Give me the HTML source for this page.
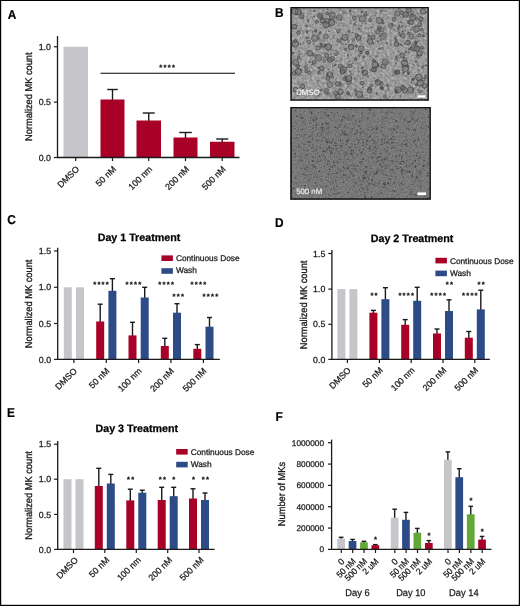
<!DOCTYPE html>
<html lang="en"><head><meta charset="utf-8"><title>Figure</title>
<style>html,body{margin:0;padding:0;background:#fff}body{width:520px;height:606px;overflow:hidden}svg{display:block}text{font-family:"Liberation Sans",Arial,sans-serif;text-rendering:geometricPrecision}</style>
</head><body>
<svg width="520" height="606" viewBox="0 0 520 606" font-family="'Liberation Sans', Arial, sans-serif">
<defs>
<filter id="n1" x="0" y="0" width="100%" height="100%" color-interpolation-filters="sRGB"><feTurbulence type="fractalNoise" baseFrequency="0.4" numOctaves="3" seed="3" result="t"/><feColorMatrix in="t" type="matrix" values="0.36 0 0 0 0.425  0.36 0 0 0 0.425  0.36 0 0 0 0.425  0 0 0 0 1"/></filter>
<filter id="n2" x="0" y="0" width="100%" height="100%" color-interpolation-filters="sRGB"><feTurbulence type="fractalNoise" baseFrequency="0.75" numOctaves="2" seed="5" result="t"/><feColorMatrix in="t" type="matrix" values="0.24 0 0 0 0.355  0.24 0 0 0 0.355  0.24 0 0 0 0.355  0 0 0 0 1"/></filter>
<filter id="bl" x="-5%" y="-5%" width="110%" height="110%"><feGaussianBlur stdDeviation="0.35"/></filter>
</defs>
<rect x="0" y="0" width="520" height="606" fill="#fff"/>
<text transform="translate(7.70 18.50) scale(0.92 1)" x="0" y="0" font-size="12.9" font-weight="bold" fill="#000" stroke="#000" stroke-width="0.2">A</text>
<rect x="63.50" y="46.75" width="24.50" height="110.75" fill="#c6c6ca"/>
<line x1="112.50" y1="89.50" x2="112.50" y2="100.50" stroke="#1a1a1a" stroke-width="1.4"/>
<line x1="107.25" y1="89.50" x2="117.75" y2="89.50" stroke="#1a1a1a" stroke-width="1.4"/>
<rect x="100.50" y="99.50" width="24.00" height="58.00" fill="#a90028"/>
<line x1="148.75" y1="113.00" x2="148.75" y2="121.50" stroke="#1a1a1a" stroke-width="1.4"/>
<line x1="142.75" y1="113.00" x2="154.75" y2="113.00" stroke="#1a1a1a" stroke-width="1.4"/>
<rect x="136.50" y="120.50" width="24.50" height="37.00" fill="#a90028"/>
<line x1="185.50" y1="132.50" x2="185.50" y2="138.50" stroke="#1a1a1a" stroke-width="1.4"/>
<line x1="179.25" y1="132.50" x2="191.75" y2="132.50" stroke="#1a1a1a" stroke-width="1.4"/>
<rect x="173.50" y="137.50" width="24.00" height="20.00" fill="#a90028"/>
<line x1="222.25" y1="139.00" x2="222.25" y2="142.75" stroke="#1a1a1a" stroke-width="1.4"/>
<line x1="216.25" y1="139.00" x2="228.25" y2="139.00" stroke="#1a1a1a" stroke-width="1.4"/>
<rect x="210.00" y="141.75" width="24.50" height="15.75" fill="#a90028"/>
<line x1="57.50" y1="36.00" x2="57.50" y2="158.10" stroke="#1a1a1a" stroke-width="1.3"/>
<line x1="56.90" y1="157.50" x2="239.50" y2="157.50" stroke="#1a1a1a" stroke-width="1.3"/>
<line x1="53.90" y1="46.75" x2="57.50" y2="46.75" stroke="#1a1a1a" stroke-width="1.2"/>
<text x="50.90" y="49.90" font-size="8.8" text-anchor="end" font-weight="normal" fill="#1a1a1a" stroke="#1a1a1a" stroke-width="0.25">1.0</text>
<line x1="53.90" y1="102.10" x2="57.50" y2="102.10" stroke="#1a1a1a" stroke-width="1.2"/>
<text x="50.90" y="105.25" font-size="8.8" text-anchor="end" font-weight="normal" fill="#1a1a1a" stroke="#1a1a1a" stroke-width="0.25">0.5</text>
<line x1="53.90" y1="157.50" x2="57.50" y2="157.50" stroke="#1a1a1a" stroke-width="1.2"/>
<text x="50.90" y="160.65" font-size="8.8" text-anchor="end" font-weight="normal" fill="#1a1a1a" stroke="#1a1a1a" stroke-width="0.25">0.0</text>
<line x1="75.70" y1="157.50" x2="75.70" y2="161.10" stroke="#1a1a1a" stroke-width="1.2"/>
<text x="79.80" y="169.70" font-size="8.8" text-anchor="end" font-weight="normal" fill="#1a1a1a" stroke="#1a1a1a" stroke-width="0.25" transform="rotate(-45 79.80 169.70)">DMSO</text>
<line x1="112.50" y1="157.50" x2="112.50" y2="161.10" stroke="#1a1a1a" stroke-width="1.2"/>
<text x="116.60" y="169.70" font-size="8.8" text-anchor="end" font-weight="normal" fill="#1a1a1a" stroke="#1a1a1a" stroke-width="0.25" transform="rotate(-45 116.60 169.70)">50 nM</text>
<line x1="148.70" y1="157.50" x2="148.70" y2="161.10" stroke="#1a1a1a" stroke-width="1.2"/>
<text x="152.80" y="169.70" font-size="8.8" text-anchor="end" font-weight="normal" fill="#1a1a1a" stroke="#1a1a1a" stroke-width="0.25" transform="rotate(-45 152.80 169.70)">100 nm</text>
<line x1="185.50" y1="157.50" x2="185.50" y2="161.10" stroke="#1a1a1a" stroke-width="1.2"/>
<text x="189.60" y="169.70" font-size="8.8" text-anchor="end" font-weight="normal" fill="#1a1a1a" stroke="#1a1a1a" stroke-width="0.25" transform="rotate(-45 189.60 169.70)">200 nM</text>
<line x1="222.20" y1="157.50" x2="222.20" y2="161.10" stroke="#1a1a1a" stroke-width="1.2"/>
<text x="226.30" y="169.70" font-size="8.8" text-anchor="end" font-weight="normal" fill="#1a1a1a" stroke="#1a1a1a" stroke-width="0.25" transform="rotate(-45 226.30 169.70)">500 nM</text>
<text x="32.40" y="96.70" font-size="9.9" text-anchor="middle" font-weight="normal" fill="#1a1a1a" stroke="#1a1a1a" stroke-width="0.32" transform="rotate(-90 32.40 96.70)" textLength="88.6" lengthAdjust="spacingAndGlyphs">Normalized MK count</text>
<line x1="100.50" y1="73.25" x2="235.00" y2="73.25" stroke="#000" stroke-width="1.0"/>
<text x="160.80 165.00 169.20 173.40" y="69.75" font-size="7.6" text-anchor="middle" font-weight="bold" fill="#111" stroke="#111" stroke-width="0.2">****</text>
<text transform="translate(274.90 16.50) scale(0.92 1)" x="0" y="0" font-size="12.9" font-weight="bold" fill="#000" stroke="#000" stroke-width="0.2">B</text>
<g>
<rect x="290.5" y="7" width="138.3" height="93.6" fill="#9a9a9a" filter="url(#n1)"/>
<g filter="url(#bl)">
<circle cx="336.0" cy="22.5" r="0.5" fill="#3a3a3a" fill-opacity="0.35"/>
<circle cx="402.8" cy="17.4" r="1.1" fill="#3a3a3a" fill-opacity="0.35"/>
<circle cx="414.7" cy="28.2" r="0.5" fill="#3a3a3a" fill-opacity="0.5"/>
<circle cx="348.7" cy="30.6" r="1.1" fill="#3a3a3a" fill-opacity="0.5"/>
<circle cx="300.4" cy="59.7" r="0.6" fill="#3a3a3a" fill-opacity="0.65"/>
<circle cx="376.8" cy="93.9" r="1.1" fill="#3a3a3a" fill-opacity="0.65"/>
<circle cx="345.8" cy="96.5" r="0.5" fill="#3a3a3a" fill-opacity="0.65"/>
<circle cx="407.8" cy="34.9" r="0.6" fill="#3a3a3a" fill-opacity="0.65"/>
<circle cx="308.3" cy="36.6" r="0.6" fill="#3a3a3a" fill-opacity="0.35"/>
<circle cx="370.6" cy="66.2" r="0.7" fill="#3a3a3a" fill-opacity="0.35"/>
<circle cx="366.1" cy="14.6" r="0.5" fill="#3a3a3a" fill-opacity="0.65"/>
<circle cx="320.2" cy="70.0" r="0.9" fill="#3a3a3a" fill-opacity="0.5"/>
<circle cx="355.0" cy="91.7" r="0.7" fill="#3a3a3a" fill-opacity="0.5"/>
<circle cx="325.9" cy="25.1" r="0.6" fill="#3a3a3a" fill-opacity="0.35"/>
<circle cx="369.6" cy="56.1" r="0.7" fill="#3a3a3a" fill-opacity="0.65"/>
<circle cx="352.8" cy="63.6" r="0.5" fill="#3a3a3a" fill-opacity="0.35"/>
<circle cx="361.3" cy="23.8" r="0.7" fill="#3a3a3a" fill-opacity="0.35"/>
<circle cx="417.8" cy="46.8" r="0.5" fill="#3a3a3a" fill-opacity="0.65"/>
<circle cx="369.5" cy="87.4" r="0.7" fill="#3a3a3a" fill-opacity="0.5"/>
<circle cx="385.9" cy="62.3" r="1.1" fill="#3a3a3a" fill-opacity="0.5"/>
<circle cx="301.7" cy="17.4" r="0.7" fill="#3a3a3a" fill-opacity="0.5"/>
<circle cx="386.1" cy="14.8" r="0.7" fill="#3a3a3a" fill-opacity="0.65"/>
<circle cx="370.1" cy="70.0" r="0.9" fill="#3a3a3a" fill-opacity="0.5"/>
<circle cx="388.7" cy="88.5" r="0.7" fill="#3a3a3a" fill-opacity="0.35"/>
<circle cx="418.8" cy="40.8" r="1.1" fill="#3a3a3a" fill-opacity="0.35"/>
<circle cx="358.8" cy="28.6" r="0.7" fill="#3a3a3a" fill-opacity="0.35"/>
<circle cx="391.7" cy="44.7" r="0.9" fill="#3a3a3a" fill-opacity="0.35"/>
<circle cx="314.8" cy="45.0" r="0.7" fill="#3a3a3a" fill-opacity="0.35"/>
<circle cx="402.5" cy="86.4" r="0.7" fill="#3a3a3a" fill-opacity="0.65"/>
<circle cx="348.3" cy="41.1" r="0.9" fill="#3a3a3a" fill-opacity="0.35"/>
<circle cx="312.8" cy="24.8" r="0.6" fill="#3a3a3a" fill-opacity="0.65"/>
<circle cx="323.8" cy="52.5" r="1.1" fill="#3a3a3a" fill-opacity="0.35"/>
<circle cx="327.8" cy="9.4" r="0.9" fill="#3a3a3a" fill-opacity="0.65"/>
<circle cx="342.1" cy="59.7" r="0.6" fill="#3a3a3a" fill-opacity="0.65"/>
<circle cx="407.9" cy="94.1" r="0.5" fill="#3a3a3a" fill-opacity="0.5"/>
<circle cx="413.3" cy="78.9" r="1.1" fill="#3a3a3a" fill-opacity="0.5"/>
<circle cx="346.0" cy="44.3" r="0.9" fill="#3a3a3a" fill-opacity="0.65"/>
<circle cx="346.3" cy="26.1" r="0.6" fill="#3a3a3a" fill-opacity="0.5"/>
<circle cx="314.3" cy="39.5" r="0.5" fill="#3a3a3a" fill-opacity="0.35"/>
<circle cx="292.5" cy="22.6" r="0.5" fill="#3a3a3a" fill-opacity="0.5"/>
<circle cx="374.9" cy="15.3" r="0.6" fill="#3a3a3a" fill-opacity="0.65"/>
<circle cx="343.0" cy="65.8" r="0.7" fill="#3a3a3a" fill-opacity="0.65"/>
<circle cx="341.4" cy="20.0" r="0.9" fill="#3a3a3a" fill-opacity="0.5"/>
<circle cx="357.0" cy="36.9" r="0.6" fill="#3a3a3a" fill-opacity="0.35"/>
<circle cx="393.2" cy="75.3" r="0.9" fill="#3a3a3a" fill-opacity="0.65"/>
<circle cx="314.2" cy="11.1" r="1.1" fill="#3a3a3a" fill-opacity="0.5"/>
<circle cx="312.2" cy="57.7" r="0.5" fill="#3a3a3a" fill-opacity="0.65"/>
<circle cx="332.5" cy="66.6" r="0.5" fill="#3a3a3a" fill-opacity="0.65"/>
<circle cx="406.0" cy="55.4" r="0.6" fill="#3a3a3a" fill-opacity="0.5"/>
<circle cx="396.2" cy="56.7" r="1.1" fill="#3a3a3a" fill-opacity="0.5"/>
<circle cx="378.0" cy="63.9" r="0.6" fill="#3a3a3a" fill-opacity="0.35"/>
<circle cx="402.4" cy="75.3" r="0.6" fill="#3a3a3a" fill-opacity="0.35"/>
<circle cx="362.0" cy="40.9" r="0.5" fill="#3a3a3a" fill-opacity="0.35"/>
<circle cx="398.6" cy="51.3" r="0.6" fill="#3a3a3a" fill-opacity="0.65"/>
<circle cx="373.8" cy="39.8" r="0.7" fill="#3a3a3a" fill-opacity="0.5"/>
<circle cx="303.3" cy="18.2" r="0.9" fill="#3a3a3a" fill-opacity="0.35"/>
<circle cx="337.9" cy="52.2" r="1.1" fill="#3a3a3a" fill-opacity="0.35"/>
<circle cx="356.9" cy="67.5" r="0.5" fill="#3a3a3a" fill-opacity="0.65"/>
<circle cx="308.6" cy="43.8" r="0.6" fill="#3a3a3a" fill-opacity="0.5"/>
<circle cx="411.9" cy="47.9" r="0.7" fill="#3a3a3a" fill-opacity="0.35"/>
<circle cx="400.1" cy="96.1" r="0.9" fill="#3a3a3a" fill-opacity="0.5"/>
<circle cx="346.4" cy="93.8" r="0.6" fill="#3a3a3a" fill-opacity="0.35"/>
<circle cx="425.9" cy="11.5" r="1.1" fill="#3a3a3a" fill-opacity="0.5"/>
<circle cx="400.8" cy="22.1" r="1.1" fill="#3a3a3a" fill-opacity="0.5"/>
<circle cx="380.8" cy="40.4" r="1.1" fill="#3a3a3a" fill-opacity="0.65"/>
<circle cx="310.1" cy="10.3" r="0.5" fill="#3a3a3a" fill-opacity="0.65"/>
<circle cx="393.2" cy="21.5" r="0.6" fill="#3a3a3a" fill-opacity="0.35"/>
<circle cx="296.3" cy="28.1" r="1.1" fill="#3a3a3a" fill-opacity="0.35"/>
<circle cx="395.1" cy="38.2" r="1.1" fill="#3a3a3a" fill-opacity="0.5"/>
<circle cx="404.5" cy="14.5" r="0.7" fill="#3a3a3a" fill-opacity="0.5"/>
<circle cx="381.5" cy="82.0" r="1.1" fill="#3a3a3a" fill-opacity="0.5"/>
<circle cx="403.6" cy="87.7" r="0.6" fill="#3a3a3a" fill-opacity="0.65"/>
<circle cx="312.9" cy="54.7" r="0.9" fill="#3a3a3a" fill-opacity="0.35"/>
<circle cx="374.2" cy="78.5" r="0.6" fill="#3a3a3a" fill-opacity="0.35"/>
<circle cx="311.5" cy="64.5" r="0.5" fill="#3a3a3a" fill-opacity="0.65"/>
<circle cx="300.8" cy="70.1" r="1.1" fill="#3a3a3a" fill-opacity="0.65"/>
<circle cx="357.3" cy="78.6" r="1.1" fill="#3a3a3a" fill-opacity="0.35"/>
<circle cx="325.9" cy="33.8" r="0.5" fill="#3a3a3a" fill-opacity="0.65"/>
<circle cx="353.2" cy="11.5" r="0.5" fill="#3a3a3a" fill-opacity="0.5"/>
<circle cx="336.2" cy="96.2" r="1.1" fill="#3a3a3a" fill-opacity="0.65"/>
<circle cx="319.3" cy="33.8" r="1.1" fill="#3a3a3a" fill-opacity="0.65"/>
<circle cx="400.9" cy="54.5" r="0.6" fill="#3a3a3a" fill-opacity="0.65"/>
<circle cx="362.8" cy="87.5" r="0.7" fill="#3a3a3a" fill-opacity="0.65"/>
<circle cx="412.4" cy="27.2" r="0.9" fill="#3a3a3a" fill-opacity="0.35"/>
<circle cx="348.5" cy="44.2" r="0.7" fill="#3a3a3a" fill-opacity="0.35"/>
<circle cx="382.6" cy="47.4" r="0.6" fill="#3a3a3a" fill-opacity="0.65"/>
<circle cx="333.2" cy="20.0" r="0.6" fill="#3a3a3a" fill-opacity="0.65"/>
<circle cx="378.9" cy="41.8" r="0.7" fill="#3a3a3a" fill-opacity="0.35"/>
<circle cx="422.4" cy="28.7" r="0.5" fill="#3a3a3a" fill-opacity="0.5"/>
<circle cx="411.3" cy="23.6" r="0.6" fill="#3a3a3a" fill-opacity="0.35"/>
<circle cx="387.4" cy="98.1" r="0.9" fill="#3a3a3a" fill-opacity="0.5"/>
<circle cx="349.1" cy="41.0" r="0.5" fill="#3a3a3a" fill-opacity="0.65"/>
<circle cx="341.6" cy="39.3" r="0.9" fill="#3a3a3a" fill-opacity="0.5"/>
<circle cx="386.9" cy="43.4" r="1.1" fill="#3a3a3a" fill-opacity="0.65"/>
<circle cx="332.2" cy="95.1" r="0.5" fill="#3a3a3a" fill-opacity="0.35"/>
<circle cx="423.0" cy="18.4" r="0.7" fill="#3a3a3a" fill-opacity="0.5"/>
<circle cx="297.8" cy="78.8" r="0.7" fill="#3a3a3a" fill-opacity="0.35"/>
<circle cx="402.6" cy="85.1" r="0.7" fill="#3a3a3a" fill-opacity="0.5"/>
<circle cx="312.6" cy="91.4" r="1.1" fill="#3a3a3a" fill-opacity="0.5"/>
<circle cx="386.6" cy="17.0" r="0.5" fill="#3a3a3a" fill-opacity="0.65"/>
<circle cx="317.1" cy="89.2" r="0.7" fill="#3a3a3a" fill-opacity="0.35"/>
<circle cx="377.7" cy="80.8" r="0.5" fill="#3a3a3a" fill-opacity="0.65"/>
<circle cx="407.5" cy="15.0" r="0.5" fill="#3a3a3a" fill-opacity="0.5"/>
<circle cx="294.1" cy="98.1" r="0.9" fill="#3a3a3a" fill-opacity="0.5"/>
<circle cx="376.0" cy="12.9" r="0.6" fill="#3a3a3a" fill-opacity="0.35"/>
<circle cx="422.7" cy="32.5" r="0.6" fill="#3a3a3a" fill-opacity="0.35"/>
<circle cx="417.7" cy="65.3" r="1.1" fill="#3a3a3a" fill-opacity="0.35"/>
<circle cx="331.4" cy="53.8" r="0.6" fill="#3a3a3a" fill-opacity="0.5"/>
<circle cx="339.1" cy="10.6" r="0.7" fill="#3a3a3a" fill-opacity="0.35"/>
<circle cx="294.6" cy="74.7" r="1.1" fill="#3a3a3a" fill-opacity="0.35"/>
<circle cx="361.6" cy="31.0" r="0.9" fill="#3a3a3a" fill-opacity="0.35"/>
<circle cx="380.9" cy="67.2" r="0.9" fill="#3a3a3a" fill-opacity="0.65"/>
<circle cx="404.6" cy="44.2" r="1.1" fill="#3a3a3a" fill-opacity="0.5"/>
<circle cx="384.9" cy="97.0" r="0.7" fill="#3a3a3a" fill-opacity="0.35"/>
<circle cx="404.3" cy="72.3" r="0.6" fill="#3a3a3a" fill-opacity="0.5"/>
<circle cx="425.4" cy="97.0" r="0.6" fill="#3a3a3a" fill-opacity="0.35"/>
<circle cx="302.0" cy="75.4" r="0.7" fill="#3a3a3a" fill-opacity="0.5"/>
<circle cx="314.4" cy="16.6" r="0.9" fill="#3a3a3a" fill-opacity="0.65"/>
<circle cx="382.6" cy="34.3" r="0.6" fill="#3a3a3a" fill-opacity="0.65"/>
<circle cx="331.9" cy="50.2" r="0.6" fill="#3a3a3a" fill-opacity="0.5"/>
<circle cx="352.4" cy="32.6" r="0.7" fill="#3a3a3a" fill-opacity="0.65"/>
<circle cx="336.0" cy="12.1" r="0.7" fill="#3a3a3a" fill-opacity="0.35"/>
<circle cx="340.4" cy="9.1" r="0.9" fill="#3a3a3a" fill-opacity="0.35"/>
<circle cx="356.2" cy="54.0" r="0.6" fill="#3a3a3a" fill-opacity="0.35"/>
<circle cx="360.3" cy="9.4" r="0.7" fill="#3a3a3a" fill-opacity="0.35"/>
<circle cx="311.8" cy="61.6" r="0.9" fill="#3a3a3a" fill-opacity="0.35"/>
<circle cx="332.7" cy="65.4" r="0.5" fill="#3a3a3a" fill-opacity="0.65"/>
<circle cx="421.1" cy="85.5" r="0.6" fill="#3a3a3a" fill-opacity="0.65"/>
<circle cx="412.4" cy="79.3" r="1.1" fill="#3a3a3a" fill-opacity="0.5"/>
<circle cx="395.1" cy="73.6" r="0.9" fill="#3a3a3a" fill-opacity="0.35"/>
<circle cx="330.7" cy="64.4" r="0.6" fill="#3a3a3a" fill-opacity="0.35"/>
<circle cx="403.3" cy="73.1" r="1.1" fill="#3a3a3a" fill-opacity="0.65"/>
<circle cx="350.1" cy="71.8" r="1.1" fill="#3a3a3a" fill-opacity="0.35"/>
<circle cx="414.7" cy="76.5" r="1.1" fill="#3a3a3a" fill-opacity="0.35"/>
<circle cx="403.5" cy="61.3" r="0.6" fill="#3a3a3a" fill-opacity="0.35"/>
<circle cx="296.7" cy="20.9" r="0.7" fill="#3a3a3a" fill-opacity="0.35"/>
<circle cx="343.1" cy="49.4" r="0.5" fill="#3a3a3a" fill-opacity="0.65"/>
<circle cx="295.0" cy="56.6" r="0.6" fill="#3a3a3a" fill-opacity="0.5"/>
<circle cx="327.9" cy="49.9" r="0.5" fill="#3a3a3a" fill-opacity="0.65"/>
<circle cx="417.7" cy="89.4" r="0.5" fill="#3a3a3a" fill-opacity="0.65"/>
<circle cx="363.1" cy="75.8" r="0.9" fill="#3a3a3a" fill-opacity="0.5"/>
<circle cx="401.2" cy="84.8" r="0.6" fill="#3a3a3a" fill-opacity="0.65"/>
<circle cx="394.1" cy="29.7" r="0.9" fill="#3a3a3a" fill-opacity="0.5"/>
<circle cx="406.1" cy="15.9" r="0.7" fill="#3a3a3a" fill-opacity="0.35"/>
<circle cx="375.4" cy="66.6" r="0.5" fill="#3a3a3a" fill-opacity="0.65"/>
<circle cx="312.3" cy="31.8" r="0.7" fill="#3a3a3a" fill-opacity="0.65"/>
<circle cx="368.8" cy="10.1" r="0.5" fill="#3a3a3a" fill-opacity="0.5"/>
<circle cx="328.6" cy="69.2" r="0.6" fill="#3a3a3a" fill-opacity="0.65"/>
<circle cx="358.3" cy="72.5" r="0.7" fill="#3a3a3a" fill-opacity="0.5"/>
<circle cx="355.1" cy="77.7" r="1.1" fill="#3a3a3a" fill-opacity="0.35"/>
<circle cx="334.4" cy="16.7" r="0.9" fill="#3a3a3a" fill-opacity="0.35"/>
<circle cx="331.4" cy="15.9" r="1.1" fill="#3a3a3a" fill-opacity="0.5"/>
<circle cx="426.0" cy="43.7" r="0.6" fill="#3a3a3a" fill-opacity="0.35"/>
<circle cx="370.6" cy="21.7" r="1.1" fill="#3a3a3a" fill-opacity="0.5"/>
<circle cx="420.5" cy="20.9" r="1.1" fill="#3a3a3a" fill-opacity="0.5"/>
<circle cx="411.6" cy="72.0" r="0.6" fill="#3a3a3a" fill-opacity="0.5"/>
<circle cx="413.1" cy="52.6" r="0.5" fill="#3a3a3a" fill-opacity="0.35"/>
<circle cx="293.0" cy="53.1" r="0.9" fill="#3a3a3a" fill-opacity="0.5"/>
<circle cx="333.1" cy="21.6" r="0.7" fill="#3a3a3a" fill-opacity="0.5"/>
<circle cx="334.9" cy="84.3" r="0.5" fill="#3a3a3a" fill-opacity="0.5"/>
<circle cx="393.3" cy="84.2" r="0.5" fill="#3a3a3a" fill-opacity="0.35"/>
<circle cx="388.3" cy="89.8" r="0.7" fill="#3a3a3a" fill-opacity="0.5"/>
<circle cx="342.5" cy="44.2" r="1.1" fill="#3a3a3a" fill-opacity="0.35"/>
<circle cx="340.9" cy="47.4" r="0.7" fill="#3a3a3a" fill-opacity="0.35"/>
<circle cx="330.2" cy="13.6" r="0.7" fill="#3a3a3a" fill-opacity="0.65"/>
<circle cx="418.1" cy="31.3" r="0.7" fill="#3a3a3a" fill-opacity="0.5"/>
<circle cx="361.1" cy="26.0" r="0.7" fill="#3a3a3a" fill-opacity="0.5"/>
<circle cx="411.3" cy="81.8" r="0.9" fill="#3a3a3a" fill-opacity="0.65"/>
<circle cx="366.3" cy="73.5" r="0.5" fill="#3a3a3a" fill-opacity="0.65"/>
<circle cx="347.7" cy="64.1" r="0.6" fill="#3a3a3a" fill-opacity="0.65"/>
<circle cx="409.3" cy="52.5" r="1.1" fill="#3a3a3a" fill-opacity="0.35"/>
<circle cx="315.4" cy="46.2" r="0.7" fill="#3a3a3a" fill-opacity="0.5"/>
<circle cx="326.8" cy="75.2" r="0.7" fill="#3a3a3a" fill-opacity="0.5"/>
<circle cx="380.6" cy="36.0" r="1.1" fill="#3a3a3a" fill-opacity="0.65"/>
<circle cx="345.5" cy="24.0" r="0.6" fill="#3a3a3a" fill-opacity="0.35"/>
<circle cx="320.4" cy="90.2" r="0.9" fill="#3a3a3a" fill-opacity="0.65"/>
<circle cx="322.0" cy="90.2" r="0.9" fill="#3a3a3a" fill-opacity="0.5"/>
<circle cx="311.2" cy="26.2" r="0.5" fill="#3a3a3a" fill-opacity="0.35"/>
<circle cx="338.4" cy="17.2" r="0.6" fill="#3a3a3a" fill-opacity="0.5"/>
<circle cx="327.2" cy="60.0" r="0.5" fill="#3a3a3a" fill-opacity="0.65"/>
<circle cx="409.4" cy="43.3" r="1.1" fill="#3a3a3a" fill-opacity="0.35"/>
<circle cx="343.1" cy="39.3" r="0.5" fill="#3a3a3a" fill-opacity="0.5"/>
<circle cx="329.8" cy="95.7" r="0.6" fill="#3a3a3a" fill-opacity="0.65"/>
<circle cx="360.1" cy="65.4" r="0.6" fill="#3a3a3a" fill-opacity="0.35"/>
<circle cx="328.9" cy="31.3" r="0.9" fill="#3a3a3a" fill-opacity="0.65"/>
<circle cx="352.4" cy="94.5" r="0.5" fill="#3a3a3a" fill-opacity="0.35"/>
<circle cx="296.8" cy="72.6" r="0.9" fill="#3a3a3a" fill-opacity="0.65"/>
<circle cx="358.3" cy="15.6" r="1.1" fill="#3a3a3a" fill-opacity="0.5"/>
<circle cx="423.1" cy="31.3" r="0.5" fill="#3a3a3a" fill-opacity="0.35"/>
<circle cx="313.2" cy="55.8" r="0.5" fill="#3a3a3a" fill-opacity="0.65"/>
<circle cx="386.6" cy="84.8" r="0.9" fill="#3a3a3a" fill-opacity="0.35"/>
<circle cx="366.6" cy="12.5" r="0.6" fill="#3a3a3a" fill-opacity="0.35"/>
<circle cx="369.0" cy="12.4" r="0.7" fill="#3a3a3a" fill-opacity="0.35"/>
<circle cx="376.6" cy="56.3" r="0.9" fill="#3a3a3a" fill-opacity="0.65"/>
<circle cx="395.1" cy="17.9" r="0.7" fill="#3a3a3a" fill-opacity="0.65"/>
<circle cx="419.2" cy="26.2" r="0.7" fill="#3a3a3a" fill-opacity="0.35"/>
<circle cx="398.7" cy="9.1" r="1.1" fill="#3a3a3a" fill-opacity="0.5"/>
<circle cx="426.3" cy="34.0" r="0.7" fill="#3a3a3a" fill-opacity="0.65"/>
<circle cx="405.2" cy="30.7" r="1.1" fill="#3a3a3a" fill-opacity="0.35"/>
<circle cx="366.0" cy="11.6" r="0.9" fill="#3a3a3a" fill-opacity="0.65"/>
<circle cx="379.7" cy="14.0" r="0.6" fill="#3a3a3a" fill-opacity="0.5"/>
<circle cx="411.3" cy="67.0" r="0.5" fill="#3a3a3a" fill-opacity="0.5"/>
<circle cx="323.1" cy="47.0" r="0.7" fill="#3a3a3a" fill-opacity="0.35"/>
<circle cx="358.7" cy="71.3" r="0.9" fill="#3a3a3a" fill-opacity="0.5"/>
<circle cx="384.2" cy="26.7" r="0.7" fill="#3a3a3a" fill-opacity="0.65"/>
<circle cx="406.0" cy="15.0" r="0.9" fill="#3a3a3a" fill-opacity="0.35"/>
<circle cx="334.4" cy="82.5" r="0.6" fill="#3a3a3a" fill-opacity="0.5"/>
<circle cx="322.2" cy="77.1" r="0.7" fill="#3a3a3a" fill-opacity="0.35"/>
<circle cx="420.3" cy="53.4" r="0.6" fill="#3a3a3a" fill-opacity="0.35"/>
<circle cx="357.6" cy="90.6" r="0.5" fill="#3a3a3a" fill-opacity="0.65"/>
<circle cx="312.2" cy="44.3" r="0.6" fill="#3a3a3a" fill-opacity="0.35"/>
<circle cx="423.3" cy="21.7" r="0.5" fill="#3a3a3a" fill-opacity="0.65"/>
<circle cx="300.6" cy="44.2" r="0.7" fill="#3a3a3a" fill-opacity="0.65"/>
<circle cx="307.7" cy="16.1" r="0.6" fill="#3a3a3a" fill-opacity="0.5"/>
<circle cx="318.1" cy="67.5" r="1.1" fill="#3a3a3a" fill-opacity="0.65"/>
<circle cx="355.3" cy="36.9" r="0.9" fill="#3a3a3a" fill-opacity="0.5"/>
<circle cx="424.8" cy="48.6" r="0.5" fill="#3a3a3a" fill-opacity="0.35"/>
<circle cx="303.0" cy="16.2" r="0.9" fill="#3a3a3a" fill-opacity="0.35"/>
<circle cx="367.9" cy="77.0" r="0.9" fill="#3a3a3a" fill-opacity="0.5"/>
<circle cx="395.7" cy="36.7" r="0.9" fill="#3a3a3a" fill-opacity="0.35"/>
<circle cx="299.1" cy="51.4" r="0.7" fill="#3a3a3a" fill-opacity="0.65"/>
<circle cx="416.0" cy="26.3" r="0.7" fill="#3a3a3a" fill-opacity="0.65"/>
<circle cx="413.0" cy="11.7" r="0.9" fill="#3a3a3a" fill-opacity="0.35"/>
<circle cx="401.5" cy="77.7" r="0.5" fill="#3a3a3a" fill-opacity="0.5"/>
<circle cx="297.2" cy="14.6" r="0.5" fill="#3a3a3a" fill-opacity="0.5"/>
<circle cx="318.7" cy="14.6" r="1.1" fill="#3a3a3a" fill-opacity="0.5"/>
<circle cx="341.2" cy="39.0" r="1.1" fill="#3a3a3a" fill-opacity="0.35"/>
<circle cx="327.7" cy="73.2" r="0.7" fill="#3a3a3a" fill-opacity="0.5"/>
<circle cx="332.4" cy="73.7" r="1.1" fill="#3a3a3a" fill-opacity="0.65"/>
<circle cx="419.6" cy="14.9" r="0.6" fill="#3a3a3a" fill-opacity="0.35"/>
<circle cx="356.3" cy="94.7" r="0.9" fill="#3a3a3a" fill-opacity="0.5"/>
<circle cx="415.2" cy="82.0" r="0.6" fill="#3a3a3a" fill-opacity="0.5"/>
<circle cx="317.1" cy="80.9" r="0.7" fill="#3a3a3a" fill-opacity="0.65"/>
<circle cx="396.3" cy="63.4" r="0.7" fill="#3a3a3a" fill-opacity="0.5"/>
<circle cx="354.4" cy="79.2" r="1.1" fill="#3a3a3a" fill-opacity="0.35"/>
<circle cx="361.2" cy="44.1" r="0.6" fill="#3a3a3a" fill-opacity="0.35"/>
<circle cx="347.3" cy="67.2" r="0.9" fill="#3a3a3a" fill-opacity="0.65"/>
<circle cx="365.6" cy="23.4" r="0.9" fill="#3a3a3a" fill-opacity="0.35"/>
<circle cx="425.2" cy="32.7" r="0.5" fill="#3a3a3a" fill-opacity="0.35"/>
<circle cx="305.4" cy="53.7" r="0.9" fill="#3a3a3a" fill-opacity="0.35"/>
<circle cx="324.0" cy="46.3" r="1.1" fill="#3a3a3a" fill-opacity="0.65"/>
<circle cx="324.1" cy="57.3" r="0.5" fill="#3a3a3a" fill-opacity="0.5"/>
<circle cx="332.0" cy="59.8" r="0.7" fill="#3a3a3a" fill-opacity="0.5"/>
<circle cx="391.6" cy="26.8" r="0.6" fill="#3a3a3a" fill-opacity="0.35"/>
<circle cx="325.4" cy="22.7" r="1.1" fill="#3a3a3a" fill-opacity="0.35"/>
<circle cx="336.3" cy="44.5" r="0.6" fill="#3a3a3a" fill-opacity="0.65"/>
<circle cx="363.2" cy="67.2" r="0.5" fill="#3a3a3a" fill-opacity="0.65"/>
<circle cx="354.8" cy="12.3" r="0.5" fill="#3a3a3a" fill-opacity="0.5"/>
<circle cx="411.1" cy="29.7" r="0.9" fill="#3a3a3a" fill-opacity="0.5"/>
<circle cx="297.9" cy="35.3" r="0.5" fill="#3a3a3a" fill-opacity="0.35"/>
<circle cx="318.0" cy="96.2" r="1.1" fill="#3a3a3a" fill-opacity="0.35"/>
<circle cx="417.4" cy="42.4" r="0.6" fill="#3a3a3a" fill-opacity="0.5"/>
<circle cx="373.5" cy="78.4" r="0.5" fill="#3a3a3a" fill-opacity="0.35"/>
<circle cx="378.1" cy="72.6" r="0.7" fill="#3a3a3a" fill-opacity="0.35"/>
<circle cx="297.5" cy="39.5" r="0.5" fill="#3a3a3a" fill-opacity="0.35"/>
<circle cx="426.8" cy="12.4" r="0.6" fill="#3a3a3a" fill-opacity="0.35"/>
<circle cx="402.5" cy="45.6" r="0.7" fill="#3a3a3a" fill-opacity="0.35"/>
<circle cx="375.9" cy="16.0" r="0.5" fill="#3a3a3a" fill-opacity="0.5"/>
<circle cx="366.1" cy="14.7" r="0.5" fill="#3a3a3a" fill-opacity="0.5"/>
<circle cx="381.7" cy="22.8" r="1.1" fill="#3a3a3a" fill-opacity="0.35"/>
<circle cx="380.2" cy="44.6" r="0.7" fill="#3a3a3a" fill-opacity="0.5"/>
<circle cx="425.2" cy="68.8" r="0.9" fill="#3a3a3a" fill-opacity="0.35"/>
<circle cx="334.5" cy="59.8" r="0.7" fill="#3a3a3a" fill-opacity="0.5"/>
<circle cx="348.4" cy="86.4" r="0.7" fill="#3a3a3a" fill-opacity="0.65"/>
<circle cx="319.0" cy="74.2" r="0.6" fill="#3a3a3a" fill-opacity="0.35"/>
<circle cx="350.8" cy="23.0" r="0.5" fill="#3a3a3a" fill-opacity="0.35"/>
<circle cx="347.1" cy="88.1" r="0.9" fill="#3a3a3a" fill-opacity="0.35"/>
<circle cx="310.0" cy="13.6" r="0.6" fill="#3a3a3a" fill-opacity="0.65"/>
<circle cx="400.8" cy="44.5" r="1.1" fill="#3a3a3a" fill-opacity="0.65"/>
<circle cx="417.0" cy="75.1" r="0.6" fill="#3a3a3a" fill-opacity="0.35"/>
<circle cx="339.2" cy="23.5" r="0.6" fill="#3a3a3a" fill-opacity="0.35"/>
<circle cx="307.1" cy="52.9" r="0.6" fill="#3a3a3a" fill-opacity="0.5"/>
<circle cx="309.5" cy="93.5" r="0.9" fill="#3a3a3a" fill-opacity="0.5"/>
<circle cx="299.7" cy="92.0" r="0.9" fill="#3a3a3a" fill-opacity="0.35"/>
<circle cx="413.9" cy="64.6" r="0.6" fill="#3a3a3a" fill-opacity="0.65"/>
<circle cx="398.0" cy="28.9" r="0.9" fill="#3a3a3a" fill-opacity="0.65"/>
<circle cx="406.2" cy="83.3" r="0.6" fill="#3a3a3a" fill-opacity="0.65"/>
<circle cx="321.8" cy="44.8" r="1.1" fill="#3a3a3a" fill-opacity="0.35"/>
<circle cx="344.0" cy="20.0" r="0.6" fill="#3a3a3a" fill-opacity="0.65"/>
<circle cx="402.0" cy="26.3" r="1.1" fill="#3a3a3a" fill-opacity="0.65"/>
<circle cx="297.6" cy="84.1" r="0.5" fill="#3a3a3a" fill-opacity="0.5"/>
<circle cx="373.0" cy="58.3" r="0.7" fill="#3a3a3a" fill-opacity="0.65"/>
<circle cx="348.9" cy="61.2" r="0.9" fill="#3a3a3a" fill-opacity="0.5"/>
<circle cx="381.0" cy="49.0" r="0.9" fill="#3a3a3a" fill-opacity="0.35"/>
<circle cx="295.6" cy="64.5" r="0.9" fill="#3a3a3a" fill-opacity="0.5"/>
<circle cx="324.1" cy="77.4" r="0.9" fill="#3a3a3a" fill-opacity="0.35"/>
<circle cx="401.4" cy="44.9" r="0.5" fill="#3a3a3a" fill-opacity="0.35"/>
<circle cx="340.7" cy="41.7" r="0.9" fill="#3a3a3a" fill-opacity="0.65"/>
<circle cx="361.0" cy="12.7" r="0.6" fill="#3a3a3a" fill-opacity="0.35"/>
<circle cx="416.3" cy="37.1" r="1.1" fill="#3a3a3a" fill-opacity="0.35"/>
<circle cx="299.8" cy="54.2" r="0.9" fill="#3a3a3a" fill-opacity="0.65"/>
<circle cx="420.2" cy="21.2" r="0.5" fill="#3a3a3a" fill-opacity="0.65"/>
<circle cx="390.8" cy="82.0" r="0.6" fill="#3a3a3a" fill-opacity="0.35"/>
<circle cx="424.3" cy="53.1" r="0.6" fill="#3a3a3a" fill-opacity="0.65"/>
<circle cx="398.4" cy="92.4" r="0.5" fill="#3a3a3a" fill-opacity="0.5"/>
<circle cx="374.5" cy="31.6" r="0.7" fill="#3a3a3a" fill-opacity="0.65"/>
<circle cx="329.4" cy="82.1" r="0.6" fill="#3a3a3a" fill-opacity="0.5"/>
<circle cx="359.9" cy="91.4" r="0.6" fill="#3a3a3a" fill-opacity="0.65"/>
<circle cx="327.8" cy="54.3" r="0.7" fill="#3a3a3a" fill-opacity="0.5"/>
<circle cx="297.4" cy="25.3" r="0.6" fill="#3a3a3a" fill-opacity="0.65"/>
<circle cx="418.3" cy="69.9" r="0.9" fill="#3a3a3a" fill-opacity="0.35"/>
<circle cx="398.9" cy="32.7" r="1.1" fill="#3a3a3a" fill-opacity="0.35"/>
<circle cx="378.0" cy="41.2" r="0.9" fill="#3a3a3a" fill-opacity="0.65"/>
<circle cx="362.5" cy="70.7" r="0.5" fill="#3a3a3a" fill-opacity="0.5"/>
<circle cx="425.9" cy="65.4" r="0.9" fill="#3a3a3a" fill-opacity="0.65"/>
<circle cx="399.6" cy="32.7" r="0.7" fill="#3a3a3a" fill-opacity="0.65"/>
<circle cx="312.1" cy="38.6" r="0.5" fill="#3a3a3a" fill-opacity="0.5"/>
<circle cx="323.4" cy="64.1" r="0.5" fill="#3a3a3a" fill-opacity="0.5"/>
<circle cx="402.6" cy="31.7" r="1.1" fill="#3a3a3a" fill-opacity="0.65"/>
<circle cx="412.8" cy="74.7" r="0.5" fill="#3a3a3a" fill-opacity="0.35"/>
<circle cx="312.6" cy="64.2" r="0.9" fill="#3a3a3a" fill-opacity="0.5"/>
<circle cx="361.4" cy="89.2" r="0.6" fill="#3a3a3a" fill-opacity="0.5"/>
<circle cx="323.0" cy="67.5" r="0.5" fill="#3a3a3a" fill-opacity="0.35"/>
<circle cx="292.9" cy="40.8" r="0.5" fill="#3a3a3a" fill-opacity="0.65"/>
<circle cx="340.5" cy="29.1" r="1.1" fill="#3a3a3a" fill-opacity="0.5"/>
<circle cx="371.6" cy="27.3" r="1.1" fill="#3a3a3a" fill-opacity="0.5"/>
<circle cx="313.8" cy="10.3" r="0.6" fill="#3a3a3a" fill-opacity="0.65"/>
<circle cx="312.6" cy="17.6" r="0.6" fill="#3a3a3a" fill-opacity="0.65"/>
<circle cx="397.5" cy="45.0" r="0.7" fill="#3a3a3a" fill-opacity="0.35"/>
<circle cx="300.0" cy="82.6" r="0.7" fill="#3a3a3a" fill-opacity="0.65"/>
<circle cx="379.2" cy="48.8" r="1.1" fill="#3a3a3a" fill-opacity="0.65"/>
<circle cx="358.7" cy="23.8" r="0.5" fill="#3a3a3a" fill-opacity="0.35"/>
<circle cx="300.8" cy="11.3" r="0.6" fill="#3a3a3a" fill-opacity="0.35"/>
<circle cx="313.9" cy="90.7" r="0.5" fill="#3a3a3a" fill-opacity="0.35"/>
<circle cx="374.8" cy="67.8" r="0.6" fill="#3a3a3a" fill-opacity="0.35"/>
<circle cx="348.0" cy="55.4" r="1.1" fill="#3a3a3a" fill-opacity="0.65"/>
<circle cx="378.7" cy="81.9" r="0.6" fill="#3a3a3a" fill-opacity="0.65"/>
<circle cx="334.1" cy="35.9" r="0.5" fill="#3a3a3a" fill-opacity="0.65"/>
<circle cx="397.7" cy="73.1" r="0.5" fill="#3a3a3a" fill-opacity="0.5"/>
<circle cx="405.9" cy="75.8" r="0.9" fill="#3a3a3a" fill-opacity="0.35"/>
<circle cx="392.1" cy="49.5" r="0.6" fill="#3a3a3a" fill-opacity="0.35"/>
<circle cx="327.6" cy="66.7" r="0.5" fill="#3a3a3a" fill-opacity="0.5"/>
<circle cx="412.2" cy="91.9" r="0.7" fill="#3a3a3a" fill-opacity="0.65"/>
<circle cx="299.6" cy="66.0" r="0.9" fill="#3a3a3a" fill-opacity="0.65"/>
<circle cx="398.4" cy="55.9" r="0.7" fill="#3a3a3a" fill-opacity="0.5"/>
<circle cx="378.7" cy="95.5" r="0.6" fill="#3a3a3a" fill-opacity="0.35"/>
<circle cx="410.7" cy="10.4" r="0.7" fill="#3a3a3a" fill-opacity="0.35"/>
<circle cx="405.5" cy="27.2" r="0.6" fill="#3a3a3a" fill-opacity="0.65"/>
<circle cx="415.4" cy="26.2" r="0.9" fill="#3a3a3a" fill-opacity="0.5"/>
<circle cx="373.2" cy="43.0" r="1.1" fill="#3a3a3a" fill-opacity="0.5"/>
<circle cx="355.9" cy="56.5" r="0.5" fill="#3a3a3a" fill-opacity="0.35"/>
<circle cx="351.2" cy="73.9" r="1.1" fill="#3a3a3a" fill-opacity="0.5"/>
<circle cx="398.5" cy="44.1" r="1.1" fill="#3a3a3a" fill-opacity="0.35"/>
<circle cx="368.4" cy="24.4" r="0.5" fill="#3a3a3a" fill-opacity="0.35"/>
<circle cx="307.5" cy="64.7" r="0.6" fill="#3a3a3a" fill-opacity="0.5"/>
<circle cx="423.8" cy="71.8" r="0.5" fill="#3a3a3a" fill-opacity="0.35"/>
<circle cx="311.1" cy="66.7" r="0.5" fill="#3a3a3a" fill-opacity="0.65"/>
<circle cx="301.6" cy="13.2" r="1.1" fill="#3a3a3a" fill-opacity="0.5"/>
<circle cx="319.3" cy="94.5" r="1.1" fill="#3a3a3a" fill-opacity="0.65"/>
<circle cx="301.4" cy="86.8" r="0.9" fill="#3a3a3a" fill-opacity="0.35"/>
<circle cx="325.6" cy="27.2" r="0.5" fill="#3a3a3a" fill-opacity="0.35"/>
<circle cx="420.0" cy="90.6" r="0.5" fill="#3a3a3a" fill-opacity="0.65"/>
<circle cx="377.4" cy="51.7" r="0.6" fill="#3a3a3a" fill-opacity="0.35"/>
<circle cx="398.9" cy="66.9" r="0.7" fill="#3a3a3a" fill-opacity="0.5"/>
<circle cx="337.7" cy="32.4" r="0.7" fill="#3a3a3a" fill-opacity="0.5"/>
<circle cx="417.4" cy="13.3" r="0.7" fill="#3a3a3a" fill-opacity="0.5"/>
<circle cx="395.8" cy="62.9" r="0.9" fill="#3a3a3a" fill-opacity="0.5"/>
<circle cx="375.5" cy="11.8" r="0.9" fill="#3a3a3a" fill-opacity="0.35"/>
<circle cx="351.1" cy="78.3" r="0.7" fill="#3a3a3a" fill-opacity="0.5"/>
<circle cx="387.1" cy="57.2" r="0.6" fill="#3a3a3a" fill-opacity="0.65"/>
<circle cx="408.3" cy="17.1" r="0.7" fill="#3a3a3a" fill-opacity="0.35"/>
<circle cx="351.1" cy="55.9" r="0.7" fill="#3a3a3a" fill-opacity="0.35"/>
<circle cx="293.1" cy="53.0" r="0.9" fill="#3a3a3a" fill-opacity="0.65"/>
<circle cx="399.5" cy="25.5" r="0.9" fill="#3a3a3a" fill-opacity="0.65"/>
<circle cx="339.1" cy="83.5" r="0.7" fill="#3a3a3a" fill-opacity="0.65"/>
<circle cx="419.3" cy="34.4" r="0.6" fill="#3a3a3a" fill-opacity="0.65"/>
<circle cx="323.6" cy="23.9" r="0.5" fill="#3a3a3a" fill-opacity="0.5"/>
<circle cx="398.3" cy="71.5" r="0.5" fill="#3a3a3a" fill-opacity="0.65"/>
<circle cx="336.4" cy="17.5" r="0.9" fill="#3a3a3a" fill-opacity="0.65"/>
<circle cx="304.1" cy="88.6" r="0.5" fill="#3a3a3a" fill-opacity="0.5"/>
<circle cx="320.2" cy="32.6" r="1.1" fill="#3a3a3a" fill-opacity="0.65"/>
<circle cx="315.5" cy="97.0" r="0.6" fill="#3a3a3a" fill-opacity="0.5"/>
<circle cx="309.5" cy="62.2" r="1.1" fill="#3a3a3a" fill-opacity="0.65"/>
<circle cx="297.1" cy="61.1" r="1.1" fill="#3a3a3a" fill-opacity="0.35"/>
<circle cx="409.1" cy="49.3" r="1.1" fill="#3a3a3a" fill-opacity="0.65"/>
<circle cx="335.9" cy="50.5" r="0.7" fill="#3a3a3a" fill-opacity="0.65"/>
<circle cx="323.5" cy="38.9" r="0.6" fill="#3a3a3a" fill-opacity="0.65"/>
<circle cx="318.2" cy="36.0" r="1.1" fill="#3a3a3a" fill-opacity="0.35"/>
<circle cx="389.6" cy="96.3" r="0.7" fill="#3a3a3a" fill-opacity="0.65"/>
<circle cx="362.6" cy="23.4" r="0.7" fill="#3a3a3a" fill-opacity="0.35"/>
<circle cx="327.7" cy="93.7" r="1" fill="#6c6c6c" fill-opacity="0.5" stroke="rgb(60,60,60)" stroke-width="0.8" stroke-opacity="0.8"/>
<circle cx="420.8" cy="18.9" r="2.1" fill="#6c6c6c" fill-opacity="0.5" stroke="rgb(59,59,59)" stroke-width="0.8" stroke-opacity="0.8"/>
<circle cx="423.7" cy="79.6" r="1.6" fill="#6c6c6c" fill-opacity="0.5" stroke="rgb(77,77,77)" stroke-width="0.8" stroke-opacity="0.8"/>
<circle cx="329.7" cy="19.6" r="1" fill="#6c6c6c" fill-opacity="0.5" stroke="rgb(67,67,67)" stroke-width="0.8" stroke-opacity="0.8"/>
<circle cx="320.8" cy="44.0" r="1" fill="#6c6c6c" fill-opacity="0.5" stroke="rgb(50,50,50)" stroke-width="0.8" stroke-opacity="0.8"/>
<circle cx="346.3" cy="79.3" r="1.4" fill="#6c6c6c" fill-opacity="0.5" stroke="rgb(82,82,82)" stroke-width="0.8" stroke-opacity="0.8"/>
<circle cx="423.3" cy="35.9" r="1" fill="#6c6c6c" fill-opacity="0.5" stroke="rgb(59,59,59)" stroke-width="0.8" stroke-opacity="0.8"/>
<circle cx="327.5" cy="74.7" r="1" fill="#6c6c6c" fill-opacity="0.5" stroke="rgb(65,65,65)" stroke-width="0.8" stroke-opacity="0.8"/>
<circle cx="413.6" cy="47.7" r="3.2" fill="#6c6c6c" fill-opacity="0.5" stroke="rgb(76,76,76)" stroke-width="0.8" stroke-opacity="0.8"/>
<circle cx="405.4" cy="68.5" r="3.2" fill="#6c6c6c" fill-opacity="0.5" stroke="rgb(64,64,64)" stroke-width="0.8" stroke-opacity="0.8"/>
<circle cx="383.4" cy="66.2" r="2.4" fill="#6c6c6c" fill-opacity="0.5" stroke="rgb(77,77,77)" stroke-width="0.8" stroke-opacity="0.8"/>
<circle cx="334.9" cy="65.0" r="1" fill="#6c6c6c" fill-opacity="0.5" stroke="rgb(76,76,76)" stroke-width="0.8" stroke-opacity="0.8"/>
<circle cx="325.6" cy="45.1" r="1.2" fill="#6c6c6c" fill-opacity="0.5" stroke="rgb(66,66,66)" stroke-width="0.8" stroke-opacity="0.8"/>
<circle cx="405.9" cy="52.3" r="1" fill="#6c6c6c" fill-opacity="0.5" stroke="rgb(76,76,76)" stroke-width="0.8" stroke-opacity="0.8"/>
<circle cx="362.1" cy="67.9" r="1.2" fill="#6c6c6c" fill-opacity="0.5" stroke="rgb(70,70,70)" stroke-width="0.8" stroke-opacity="0.8"/>
<circle cx="396.5" cy="44.1" r="2.4" fill="#6c6c6c" fill-opacity="0.5" stroke="rgb(56,56,56)" stroke-width="0.8" stroke-opacity="0.8"/>
<circle cx="298.5" cy="57.6" r="1.2" fill="#6c6c6c" fill-opacity="0.5" stroke="rgb(62,62,62)" stroke-width="0.8" stroke-opacity="0.8"/>
<circle cx="362.2" cy="18.9" r="3.2" fill="#6c6c6c" fill-opacity="0.5" stroke="rgb(79,79,79)" stroke-width="0.8" stroke-opacity="0.8"/>
<circle cx="365.1" cy="72.8" r="2.8" fill="#6c6c6c" fill-opacity="0.5" stroke="rgb(51,51,51)" stroke-width="0.8" stroke-opacity="0.8"/>
<circle cx="378.1" cy="82.6" r="2.8" fill="#6c6c6c" fill-opacity="0.5" stroke="rgb(71,71,71)" stroke-width="0.8" stroke-opacity="0.8"/>
<circle cx="347.8" cy="93.0" r="1.4" fill="#6c6c6c" fill-opacity="0.5" stroke="rgb(61,61,61)" stroke-width="0.8" stroke-opacity="0.8"/>
<circle cx="345.4" cy="76.8" r="1" fill="#6c6c6c" fill-opacity="0.5" stroke="rgb(72,72,72)" stroke-width="0.8" stroke-opacity="0.8"/>
<circle cx="377.9" cy="32.1" r="2.1" fill="#6c6c6c" fill-opacity="0.5" stroke="rgb(75,75,75)" stroke-width="0.8" stroke-opacity="0.8"/>
<circle cx="301.6" cy="16.6" r="2.1" fill="#6c6c6c" fill-opacity="0.5" stroke="rgb(72,72,72)" stroke-width="0.8" stroke-opacity="0.8"/>
<circle cx="370.3" cy="19.6" r="1.6" fill="#6c6c6c" fill-opacity="0.5" stroke="rgb(75,75,75)" stroke-width="0.8" stroke-opacity="0.8"/>
<circle cx="417.9" cy="56.2" r="1.4" fill="#6c6c6c" fill-opacity="0.5" stroke="rgb(75,75,75)" stroke-width="0.8" stroke-opacity="0.8"/>
<circle cx="354.6" cy="24.4" r="1" fill="#6c6c6c" fill-opacity="0.5" stroke="rgb(62,62,62)" stroke-width="0.8" stroke-opacity="0.8"/>
<circle cx="355.6" cy="59.2" r="1.4" fill="#6c6c6c" fill-opacity="0.5" stroke="rgb(59,59,59)" stroke-width="0.8" stroke-opacity="0.8"/>
<circle cx="340.2" cy="66.0" r="2.1" fill="#6c6c6c" fill-opacity="0.5" stroke="rgb(79,79,79)" stroke-width="0.8" stroke-opacity="0.8"/>
<circle cx="425.3" cy="76.6" r="1.2" fill="#6c6c6c" fill-opacity="0.5" stroke="rgb(80,80,80)" stroke-width="0.8" stroke-opacity="0.8"/>
<circle cx="340.4" cy="84.5" r="1.6" fill="#6c6c6c" fill-opacity="0.5" stroke="rgb(74,74,74)" stroke-width="0.8" stroke-opacity="0.8"/>
<circle cx="384.4" cy="96.1" r="1.2" fill="#6c6c6c" fill-opacity="0.5" stroke="rgb(80,80,80)" stroke-width="0.8" stroke-opacity="0.8"/>
<circle cx="293.9" cy="73.2" r="1.6" fill="#6c6c6c" fill-opacity="0.5" stroke="rgb(72,72,72)" stroke-width="0.8" stroke-opacity="0.8"/>
<circle cx="325.9" cy="36.4" r="2.4" fill="#6c6c6c" fill-opacity="0.5" stroke="rgb(81,81,81)" stroke-width="0.8" stroke-opacity="0.8"/>
<circle cx="350.2" cy="65.8" r="1.8" fill="#6c6c6c" fill-opacity="0.5" stroke="rgb(59,59,59)" stroke-width="0.8" stroke-opacity="0.8"/>
<circle cx="416.4" cy="84.8" r="1" fill="#6c6c6c" fill-opacity="0.5" stroke="rgb(55,55,55)" stroke-width="0.8" stroke-opacity="0.8"/>
<circle cx="403.0" cy="89.3" r="1.2" fill="#6c6c6c" fill-opacity="0.5" stroke="rgb(83,83,83)" stroke-width="0.8" stroke-opacity="0.8"/>
<circle cx="403.5" cy="65.5" r="1" fill="#6c6c6c" fill-opacity="0.5" stroke="rgb(50,50,50)" stroke-width="0.8" stroke-opacity="0.8"/>
<circle cx="321.2" cy="16.3" r="1.6" fill="#6c6c6c" fill-opacity="0.5" stroke="rgb(66,66,66)" stroke-width="0.8" stroke-opacity="0.8"/>
<circle cx="374.0" cy="60.7" r="1.4" fill="#6c6c6c" fill-opacity="0.5" stroke="rgb(61,61,61)" stroke-width="0.8" stroke-opacity="0.8"/>
<circle cx="396.2" cy="40.3" r="1.2" fill="#6c6c6c" fill-opacity="0.5" stroke="rgb(63,63,63)" stroke-width="0.8" stroke-opacity="0.8"/>
<circle cx="413.1" cy="79.4" r="1.2" fill="#6c6c6c" fill-opacity="0.5" stroke="rgb(55,55,55)" stroke-width="0.8" stroke-opacity="0.8"/>
<circle cx="381.9" cy="88.3" r="1.6" fill="#6c6c6c" fill-opacity="0.5" stroke="rgb(62,62,62)" stroke-width="0.8" stroke-opacity="0.8"/>
<circle cx="358.9" cy="28.7" r="1" fill="#6c6c6c" fill-opacity="0.5" stroke="rgb(78,78,78)" stroke-width="0.8" stroke-opacity="0.8"/>
<circle cx="382.3" cy="20.2" r="1" fill="#6c6c6c" fill-opacity="0.5" stroke="rgb(66,66,66)" stroke-width="0.8" stroke-opacity="0.8"/>
<circle cx="348.9" cy="82.4" r="2.4" fill="#6c6c6c" fill-opacity="0.5" stroke="rgb(81,81,81)" stroke-width="0.8" stroke-opacity="0.8"/>
<circle cx="367.2" cy="52.4" r="1.2" fill="#6c6c6c" fill-opacity="0.5" stroke="rgb(81,81,81)" stroke-width="0.8" stroke-opacity="0.8"/>
<circle cx="326.1" cy="24.4" r="3.2" fill="#6c6c6c" fill-opacity="0.5" stroke="rgb(50,50,50)" stroke-width="0.8" stroke-opacity="0.8"/>
<circle cx="314.7" cy="38.1" r="3.2" fill="#6c6c6c" fill-opacity="0.5" stroke="rgb(81,81,81)" stroke-width="0.8" stroke-opacity="0.8"/>
<circle cx="381.5" cy="83.6" r="1.8" fill="#6c6c6c" fill-opacity="0.5" stroke="rgb(77,77,77)" stroke-width="0.8" stroke-opacity="0.8"/>
<circle cx="348.9" cy="94.1" r="1" fill="#6c6c6c" fill-opacity="0.5" stroke="rgb(61,61,61)" stroke-width="0.8" stroke-opacity="0.8"/>
<circle cx="377.8" cy="65.7" r="1" fill="#6c6c6c" fill-opacity="0.5" stroke="rgb(51,51,51)" stroke-width="0.8" stroke-opacity="0.8"/>
<circle cx="374.2" cy="69.8" r="1.8" fill="#6c6c6c" fill-opacity="0.5" stroke="rgb(56,56,56)" stroke-width="0.8" stroke-opacity="0.8"/>
<circle cx="361.1" cy="52.5" r="1.2" fill="#6c6c6c" fill-opacity="0.5" stroke="rgb(52,52,52)" stroke-width="0.8" stroke-opacity="0.8"/>
<circle cx="321.7" cy="46.4" r="1.2" fill="#6c6c6c" fill-opacity="0.5" stroke="rgb(71,71,71)" stroke-width="0.8" stroke-opacity="0.8"/>
<circle cx="306.0" cy="67.7" r="1.8" fill="#6c6c6c" fill-opacity="0.5" stroke="rgb(80,80,80)" stroke-width="0.8" stroke-opacity="0.8"/>
<circle cx="396.5" cy="58.5" r="1.4" fill="#6c6c6c" fill-opacity="0.5" stroke="rgb(68,68,68)" stroke-width="0.8" stroke-opacity="0.8"/>
<circle cx="351.1" cy="47.0" r="2.8" fill="#6c6c6c" fill-opacity="0.5" stroke="rgb(53,53,53)" stroke-width="0.8" stroke-opacity="0.8"/>
<circle cx="402.9" cy="35.7" r="2.4" fill="#6c6c6c" fill-opacity="0.5" stroke="rgb(75,75,75)" stroke-width="0.8" stroke-opacity="0.8"/>
<circle cx="337.7" cy="96.2" r="2.8" fill="#6c6c6c" fill-opacity="0.5" stroke="rgb(72,72,72)" stroke-width="0.8" stroke-opacity="0.8"/>
<circle cx="422.5" cy="67.3" r="1" fill="#6c6c6c" fill-opacity="0.5" stroke="rgb(71,71,71)" stroke-width="0.8" stroke-opacity="0.8"/>
<circle cx="318.9" cy="72.5" r="1.2" fill="#6c6c6c" fill-opacity="0.5" stroke="rgb(55,55,55)" stroke-width="0.8" stroke-opacity="0.8"/>
<circle cx="397.3" cy="13.5" r="2.8" fill="#6c6c6c" fill-opacity="0.5" stroke="rgb(75,75,75)" stroke-width="0.8" stroke-opacity="0.8"/>
<circle cx="365.7" cy="14.4" r="1.6" fill="#6c6c6c" fill-opacity="0.5" stroke="rgb(56,56,56)" stroke-width="0.8" stroke-opacity="0.8"/>
<circle cx="294.3" cy="26.6" r="2.4" fill="#6c6c6c" fill-opacity="0.5" stroke="rgb(53,53,53)" stroke-width="0.8" stroke-opacity="0.8"/>
<circle cx="397.9" cy="89.7" r="3.2" fill="#6c6c6c" fill-opacity="0.5" stroke="rgb(74,74,74)" stroke-width="0.8" stroke-opacity="0.8"/>
<circle cx="375.1" cy="64.9" r="3.2" fill="#6c6c6c" fill-opacity="0.5" stroke="rgb(55,55,55)" stroke-width="0.8" stroke-opacity="0.8"/>
<circle cx="321.6" cy="68.4" r="2.4" fill="#6c6c6c" fill-opacity="0.5" stroke="rgb(61,61,61)" stroke-width="0.8" stroke-opacity="0.8"/>
<circle cx="306.9" cy="25.9" r="1" fill="#6c6c6c" fill-opacity="0.5" stroke="rgb(76,76,76)" stroke-width="0.8" stroke-opacity="0.8"/>
<circle cx="396.0" cy="90.1" r="1" fill="#6c6c6c" fill-opacity="0.5" stroke="rgb(73,73,73)" stroke-width="0.8" stroke-opacity="0.8"/>
<circle cx="408.9" cy="22.1" r="1.6" fill="#6c6c6c" fill-opacity="0.5" stroke="rgb(85,85,85)" stroke-width="0.8" stroke-opacity="0.8"/>
<circle cx="387.5" cy="85.6" r="1.2" fill="#6c6c6c" fill-opacity="0.5" stroke="rgb(76,76,76)" stroke-width="0.8" stroke-opacity="0.8"/>
<circle cx="298.0" cy="11.8" r="3.2" fill="#6c6c6c" fill-opacity="0.5" stroke="rgb(53,53,53)" stroke-width="0.8" stroke-opacity="0.8"/>
<circle cx="359.4" cy="55.7" r="1" fill="#6c6c6c" fill-opacity="0.5" stroke="rgb(76,76,76)" stroke-width="0.8" stroke-opacity="0.8"/>
<circle cx="369.6" cy="90.5" r="2.4" fill="#6c6c6c" fill-opacity="0.5" stroke="rgb(54,54,54)" stroke-width="0.8" stroke-opacity="0.8"/>
<circle cx="295.4" cy="43.9" r="3.2" fill="#6c6c6c" fill-opacity="0.5" stroke="rgb(59,59,59)" stroke-width="0.8" stroke-opacity="0.8"/>
<circle cx="356.4" cy="46.1" r="1" fill="#6c6c6c" fill-opacity="0.5" stroke="rgb(55,55,55)" stroke-width="0.8" stroke-opacity="0.8"/>
<circle cx="378.8" cy="28.6" r="1.2" fill="#6c6c6c" fill-opacity="0.5" stroke="rgb(50,50,50)" stroke-width="0.8" stroke-opacity="0.8"/>
<circle cx="350.0" cy="10.8" r="1" fill="#6c6c6c" fill-opacity="0.5" stroke="rgb(55,55,55)" stroke-width="0.8" stroke-opacity="0.8"/>
<circle cx="322.4" cy="20.6" r="2.4" fill="#6c6c6c" fill-opacity="0.5" stroke="rgb(51,51,51)" stroke-width="0.8" stroke-opacity="0.8"/>
<circle cx="329.9" cy="59.8" r="2.4" fill="#6c6c6c" fill-opacity="0.5" stroke="rgb(61,61,61)" stroke-width="0.8" stroke-opacity="0.8"/>
<circle cx="415.6" cy="42.1" r="1.2" fill="#6c6c6c" fill-opacity="0.5" stroke="rgb(55,55,55)" stroke-width="0.8" stroke-opacity="0.8"/>
<circle cx="332.3" cy="58.8" r="2.4" fill="#6c6c6c" fill-opacity="0.5" stroke="rgb(79,79,79)" stroke-width="0.8" stroke-opacity="0.8"/>
<circle cx="382.1" cy="88.0" r="1" fill="#6c6c6c" fill-opacity="0.5" stroke="rgb(52,52,52)" stroke-width="0.8" stroke-opacity="0.8"/>
<circle cx="295.0" cy="11.3" r="3.2" fill="#6c6c6c" fill-opacity="0.5" stroke="rgb(55,55,55)" stroke-width="0.8" stroke-opacity="0.8"/>
<circle cx="345.0" cy="37.4" r="3.2" fill="#6c6c6c" fill-opacity="0.5" stroke="rgb(60,60,60)" stroke-width="0.8" stroke-opacity="0.8"/>
<circle cx="420.2" cy="83.1" r="3.2" fill="#6c6c6c" fill-opacity="0.5" stroke="rgb(53,53,53)" stroke-width="0.8" stroke-opacity="0.8"/>
<circle cx="335.3" cy="93.1" r="2.4" fill="#6c6c6c" fill-opacity="0.5" stroke="rgb(80,80,80)" stroke-width="0.8" stroke-opacity="0.8"/>
<circle cx="383.1" cy="22.7" r="1" fill="#6c6c6c" fill-opacity="0.5" stroke="rgb(73,73,73)" stroke-width="0.8" stroke-opacity="0.8"/>
<circle cx="419.7" cy="24.4" r="2.1" fill="#6c6c6c" fill-opacity="0.5" stroke="rgb(80,80,80)" stroke-width="0.8" stroke-opacity="0.8"/>
<circle cx="344.5" cy="78.9" r="1.6" fill="#6c6c6c" fill-opacity="0.5" stroke="rgb(71,71,71)" stroke-width="0.8" stroke-opacity="0.8"/>
<circle cx="332.2" cy="15.3" r="3.2" fill="#6c6c6c" fill-opacity="0.5" stroke="rgb(71,71,71)" stroke-width="0.8" stroke-opacity="0.8"/>
<circle cx="408.5" cy="73.6" r="1" fill="#6c6c6c" fill-opacity="0.5" stroke="rgb(59,59,59)" stroke-width="0.8" stroke-opacity="0.8"/>
<circle cx="373.0" cy="37.0" r="2.1" fill="#6c6c6c" fill-opacity="0.5" stroke="rgb(65,65,65)" stroke-width="0.8" stroke-opacity="0.8"/>
<circle cx="343.3" cy="70.0" r="3.2" fill="#6c6c6c" fill-opacity="0.5" stroke="rgb(64,64,64)" stroke-width="0.8" stroke-opacity="0.8"/>
<circle cx="400.3" cy="34.8" r="1" fill="#6c6c6c" fill-opacity="0.5" stroke="rgb(70,70,70)" stroke-width="0.8" stroke-opacity="0.8"/>
<circle cx="328.3" cy="47.0" r="3.2" fill="#6c6c6c" fill-opacity="0.5" stroke="rgb(52,52,52)" stroke-width="0.8" stroke-opacity="0.8"/>
<circle cx="331.7" cy="22.3" r="3.2" fill="#6c6c6c" fill-opacity="0.5" stroke="rgb(59,59,59)" stroke-width="0.8" stroke-opacity="0.8"/>
<circle cx="329.7" cy="84.6" r="2.8" fill="#6c6c6c" fill-opacity="0.5" stroke="rgb(81,81,81)" stroke-width="0.8" stroke-opacity="0.8"/>
<circle cx="339.4" cy="17.5" r="2.8" fill="#6c6c6c" fill-opacity="0.5" stroke="rgb(81,81,81)" stroke-width="0.8" stroke-opacity="0.8"/>
<circle cx="399.0" cy="27.6" r="1.4" fill="#6c6c6c" fill-opacity="0.5" stroke="rgb(69,69,69)" stroke-width="0.8" stroke-opacity="0.8"/>
<circle cx="373.8" cy="69.4" r="2.4" fill="#6c6c6c" fill-opacity="0.5" stroke="rgb(63,63,63)" stroke-width="0.8" stroke-opacity="0.8"/>
<circle cx="416.0" cy="61.4" r="1" fill="#6c6c6c" fill-opacity="0.5" stroke="rgb(74,74,74)" stroke-width="0.8" stroke-opacity="0.8"/>
<circle cx="354.3" cy="17.7" r="1.8" fill="#6c6c6c" fill-opacity="0.5" stroke="rgb(54,54,54)" stroke-width="0.8" stroke-opacity="0.8"/>
<circle cx="324.3" cy="60.8" r="1.6" fill="#6c6c6c" fill-opacity="0.5" stroke="rgb(83,83,83)" stroke-width="0.8" stroke-opacity="0.8"/>
<circle cx="336.0" cy="54.3" r="1.4" fill="#6c6c6c" fill-opacity="0.5" stroke="rgb(62,62,62)" stroke-width="0.8" stroke-opacity="0.8"/>
<circle cx="321.6" cy="18.1" r="1.6" fill="#6c6c6c" fill-opacity="0.5" stroke="rgb(73,73,73)" stroke-width="0.8" stroke-opacity="0.8"/>
<circle cx="370.0" cy="41.4" r="2.8" fill="#6c6c6c" fill-opacity="0.5" stroke="rgb(59,59,59)" stroke-width="0.8" stroke-opacity="0.8"/>
<circle cx="326.1" cy="90.8" r="2.4" fill="#6c6c6c" fill-opacity="0.5" stroke="rgb(73,73,73)" stroke-width="0.8" stroke-opacity="0.8"/>
<circle cx="408.1" cy="42.6" r="2.4" fill="#6c6c6c" fill-opacity="0.5" stroke="rgb(55,55,55)" stroke-width="0.8" stroke-opacity="0.8"/>
<circle cx="314.2" cy="62.3" r="1.8" fill="#6c6c6c" fill-opacity="0.5" stroke="rgb(67,67,67)" stroke-width="0.8" stroke-opacity="0.8"/>
<circle cx="362.2" cy="11.8" r="1" fill="#6c6c6c" fill-opacity="0.5" stroke="rgb(63,63,63)" stroke-width="0.8" stroke-opacity="0.8"/>
<circle cx="424.5" cy="85.9" r="2.4" fill="#6c6c6c" fill-opacity="0.5" stroke="rgb(63,63,63)" stroke-width="0.8" stroke-opacity="0.8"/>
<circle cx="328.1" cy="78.3" r="2.1" fill="#6c6c6c" fill-opacity="0.5" stroke="rgb(56,56,56)" stroke-width="0.8" stroke-opacity="0.8"/>
<circle cx="418.7" cy="77.2" r="3.2" fill="#6c6c6c" fill-opacity="0.5" stroke="rgb(58,58,58)" stroke-width="0.8" stroke-opacity="0.8"/>
<circle cx="327.1" cy="13.3" r="1.4" fill="#6c6c6c" fill-opacity="0.5" stroke="rgb(61,61,61)" stroke-width="0.8" stroke-opacity="0.8"/>
<circle cx="343.5" cy="12.4" r="1" fill="#6c6c6c" fill-opacity="0.5" stroke="rgb(85,85,85)" stroke-width="0.8" stroke-opacity="0.8"/>
<circle cx="342.4" cy="71.8" r="2.4" fill="#6c6c6c" fill-opacity="0.5" stroke="rgb(54,54,54)" stroke-width="0.8" stroke-opacity="0.8"/>
<circle cx="407.7" cy="66.1" r="1" fill="#6c6c6c" fill-opacity="0.5" stroke="rgb(55,55,55)" stroke-width="0.8" stroke-opacity="0.8"/>
<circle cx="327.5" cy="59.4" r="1" fill="#6c6c6c" fill-opacity="0.5" stroke="rgb(82,82,82)" stroke-width="0.8" stroke-opacity="0.8"/>
<circle cx="345.5" cy="49.3" r="1.2" fill="#6c6c6c" fill-opacity="0.5" stroke="rgb(73,73,73)" stroke-width="0.8" stroke-opacity="0.8"/>
<circle cx="421.3" cy="96.9" r="1.4" fill="#6c6c6c" fill-opacity="0.5" stroke="rgb(61,61,61)" stroke-width="0.8" stroke-opacity="0.8"/>
<circle cx="298.6" cy="32.4" r="1.8" fill="#6c6c6c" fill-opacity="0.5" stroke="rgb(53,53,53)" stroke-width="0.8" stroke-opacity="0.8"/>
<circle cx="412.9" cy="89.2" r="1" fill="#6c6c6c" fill-opacity="0.5" stroke="rgb(66,66,66)" stroke-width="0.8" stroke-opacity="0.8"/>
<circle cx="397.5" cy="72.2" r="2.4" fill="#6c6c6c" fill-opacity="0.5" stroke="rgb(53,53,53)" stroke-width="0.8" stroke-opacity="0.8"/>
<circle cx="306.9" cy="37.8" r="1" fill="#6c6c6c" fill-opacity="0.5" stroke="rgb(62,62,62)" stroke-width="0.8" stroke-opacity="0.8"/>
<circle cx="383.1" cy="36.2" r="3.2" fill="#6c6c6c" fill-opacity="0.5" stroke="rgb(78,78,78)" stroke-width="0.8" stroke-opacity="0.8"/>
<circle cx="393.8" cy="19.2" r="1.8" fill="#6c6c6c" fill-opacity="0.5" stroke="rgb(73,73,73)" stroke-width="0.8" stroke-opacity="0.8"/>
<circle cx="327.5" cy="20.9" r="2.4" fill="#6c6c6c" fill-opacity="0.5" stroke="rgb(74,74,74)" stroke-width="0.8" stroke-opacity="0.8"/>
<circle cx="315.8" cy="30.9" r="1.2" fill="#6c6c6c" fill-opacity="0.5" stroke="rgb(50,50,50)" stroke-width="0.8" stroke-opacity="0.8"/>
<circle cx="355.4" cy="89.9" r="1" fill="#6c6c6c" fill-opacity="0.5" stroke="rgb(60,60,60)" stroke-width="0.8" stroke-opacity="0.8"/>
<circle cx="416.2" cy="29.3" r="3.2" fill="#6c6c6c" fill-opacity="0.5" stroke="rgb(73,73,73)" stroke-width="0.8" stroke-opacity="0.8"/>
<circle cx="411.1" cy="22.2" r="2.4" fill="#6c6c6c" fill-opacity="0.5" stroke="rgb(56,56,56)" stroke-width="0.8" stroke-opacity="0.8"/>
<circle cx="416.0" cy="43.7" r="1" fill="#6c6c6c" fill-opacity="0.5" stroke="rgb(54,54,54)" stroke-width="0.8" stroke-opacity="0.8"/>
<circle cx="353.3" cy="39.8" r="1.4" fill="#6c6c6c" fill-opacity="0.5" stroke="rgb(80,80,80)" stroke-width="0.8" stroke-opacity="0.8"/>
<circle cx="308.8" cy="42.1" r="1.8" fill="#6c6c6c" fill-opacity="0.5" stroke="rgb(64,64,64)" stroke-width="0.8" stroke-opacity="0.8"/>
<circle cx="390.9" cy="25.8" r="2.4" fill="#6c6c6c" fill-opacity="0.5" stroke="rgb(85,85,85)" stroke-width="0.8" stroke-opacity="0.8"/>
<circle cx="411.2" cy="48.5" r="1.2" fill="#6c6c6c" fill-opacity="0.5" stroke="rgb(67,67,67)" stroke-width="0.8" stroke-opacity="0.8"/>
<circle cx="348.8" cy="31.6" r="1" fill="#6c6c6c" fill-opacity="0.5" stroke="rgb(67,67,67)" stroke-width="0.8" stroke-opacity="0.8"/>
<circle cx="369.0" cy="36.0" r="1.2" fill="#6c6c6c" fill-opacity="0.5" stroke="rgb(66,66,66)" stroke-width="0.8" stroke-opacity="0.8"/>
<circle cx="358.5" cy="37.9" r="2.4" fill="#6c6c6c" fill-opacity="0.5" stroke="rgb(57,57,57)" stroke-width="0.8" stroke-opacity="0.8"/>
<circle cx="313.8" cy="55.0" r="1.4" fill="#6c6c6c" fill-opacity="0.5" stroke="rgb(85,85,85)" stroke-width="0.8" stroke-opacity="0.8"/>
<circle cx="356.7" cy="35.1" r="1.6" fill="#6c6c6c" fill-opacity="0.5" stroke="rgb(62,62,62)" stroke-width="0.8" stroke-opacity="0.8"/>
<circle cx="421.9" cy="47.8" r="1.6" fill="#6c6c6c" fill-opacity="0.5" stroke="rgb(65,65,65)" stroke-width="0.8" stroke-opacity="0.8"/>
<circle cx="415.9" cy="18.5" r="1.6" fill="#6c6c6c" fill-opacity="0.5" stroke="rgb(76,76,76)" stroke-width="0.8" stroke-opacity="0.8"/>
<circle cx="412.1" cy="15.0" r="1.6" fill="#6c6c6c" fill-opacity="0.5" stroke="rgb(59,59,59)" stroke-width="0.8" stroke-opacity="0.8"/>
<circle cx="423.0" cy="11.4" r="2.8" fill="#6c6c6c" fill-opacity="0.5" stroke="rgb(71,71,71)" stroke-width="0.8" stroke-opacity="0.8"/>
<circle cx="361.1" cy="48.8" r="2.8" fill="#6c6c6c" fill-opacity="0.5" stroke="rgb(68,68,68)" stroke-width="0.8" stroke-opacity="0.8"/>
<circle cx="318.1" cy="48.1" r="2.1" fill="#6c6c6c" fill-opacity="0.5" stroke="rgb(63,63,63)" stroke-width="0.8" stroke-opacity="0.8"/>
<circle cx="330.1" cy="25.8" r="1.2" fill="#6c6c6c" fill-opacity="0.5" stroke="rgb(83,83,83)" stroke-width="0.8" stroke-opacity="0.8"/>
<circle cx="395.4" cy="72.3" r="1.4" fill="#6c6c6c" fill-opacity="0.5" stroke="rgb(55,55,55)" stroke-width="0.8" stroke-opacity="0.8"/>
<circle cx="403.2" cy="87.9" r="2.4" fill="#6c6c6c" fill-opacity="0.5" stroke="rgb(67,67,67)" stroke-width="0.8" stroke-opacity="0.8"/>
<circle cx="316.7" cy="22.0" r="1.4" fill="#6c6c6c" fill-opacity="0.5" stroke="rgb(69,69,69)" stroke-width="0.8" stroke-opacity="0.8"/>
<circle cx="320.3" cy="15.8" r="2.8" fill="#6c6c6c" fill-opacity="0.5" stroke="rgb(76,76,76)" stroke-width="0.8" stroke-opacity="0.8"/>
<circle cx="404.8" cy="90.3" r="2.8" fill="#6c6c6c" fill-opacity="0.5" stroke="rgb(72,72,72)" stroke-width="0.8" stroke-opacity="0.8"/>
<circle cx="337.8" cy="83.8" r="2.4" fill="#6c6c6c" fill-opacity="0.5" stroke="rgb(55,55,55)" stroke-width="0.8" stroke-opacity="0.8"/>
<circle cx="295.5" cy="89.7" r="2.4" fill="#6c6c6c" fill-opacity="0.5" stroke="rgb(58,58,58)" stroke-width="0.8" stroke-opacity="0.8"/>
<circle cx="408.9" cy="33.3" r="1.2" fill="#6c6c6c" fill-opacity="0.5" stroke="rgb(73,73,73)" stroke-width="0.8" stroke-opacity="0.8"/>
<circle cx="298.4" cy="71.5" r="3.2" fill="#6c6c6c" fill-opacity="0.5" stroke="rgb(50,50,50)" stroke-width="0.8" stroke-opacity="0.8"/>
<circle cx="340.6" cy="91.7" r="2.8" fill="#6c6c6c" fill-opacity="0.5" stroke="rgb(54,54,54)" stroke-width="0.8" stroke-opacity="0.8"/>
<circle cx="309.5" cy="72.6" r="1.8" fill="#6c6c6c" fill-opacity="0.5" stroke="rgb(74,74,74)" stroke-width="0.8" stroke-opacity="0.8"/>
<circle cx="369.7" cy="88.7" r="1.6" fill="#6c6c6c" fill-opacity="0.5" stroke="rgb(56,56,56)" stroke-width="0.8" stroke-opacity="0.8"/>
<circle cx="419.7" cy="53.3" r="2.8" fill="#6c6c6c" fill-opacity="0.5" stroke="rgb(51,51,51)" stroke-width="0.8" stroke-opacity="0.8"/>
<circle cx="363.7" cy="57.1" r="1" fill="#6c6c6c" fill-opacity="0.5" stroke="rgb(65,65,65)" stroke-width="0.8" stroke-opacity="0.8"/>
<circle cx="421.5" cy="29.6" r="1.2" fill="#6c6c6c" fill-opacity="0.5" stroke="rgb(60,60,60)" stroke-width="0.8" stroke-opacity="0.8"/>
<circle cx="307.1" cy="31.9" r="1" fill="#6c6c6c" fill-opacity="0.5" stroke="rgb(51,51,51)" stroke-width="0.8" stroke-opacity="0.8"/>
<circle cx="306.3" cy="71.2" r="1.4" fill="#6c6c6c" fill-opacity="0.5" stroke="rgb(66,66,66)" stroke-width="0.8" stroke-opacity="0.8"/>
<circle cx="295.8" cy="62.5" r="3.2" fill="#6c6c6c" fill-opacity="0.5" stroke="rgb(79,79,79)" stroke-width="0.8" stroke-opacity="0.8"/>
<circle cx="362.7" cy="71.6" r="1" fill="#6c6c6c" fill-opacity="0.5" stroke="rgb(72,72,72)" stroke-width="0.8" stroke-opacity="0.8"/>
<circle cx="408.5" cy="72.8" r="1" fill="#6c6c6c" fill-opacity="0.5" stroke="rgb(67,67,67)" stroke-width="0.8" stroke-opacity="0.8"/>
<circle cx="309.8" cy="53.2" r="2.8" fill="#6c6c6c" fill-opacity="0.5" stroke="rgb(67,67,67)" stroke-width="0.8" stroke-opacity="0.8"/>
<circle cx="308.1" cy="20.6" r="1.2" fill="#6c6c6c" fill-opacity="0.5" stroke="rgb(84,84,84)" stroke-width="0.8" stroke-opacity="0.8"/>
<circle cx="371.8" cy="85.4" r="1.2" fill="#6c6c6c" fill-opacity="0.5" stroke="rgb(79,79,79)" stroke-width="0.8" stroke-opacity="0.8"/>
<circle cx="392.3" cy="24.4" r="1" fill="#6c6c6c" fill-opacity="0.5" stroke="rgb(74,74,74)" stroke-width="0.8" stroke-opacity="0.8"/>
<circle cx="385.3" cy="62.3" r="3.2" fill="#6c6c6c" fill-opacity="0.5" stroke="rgb(83,83,83)" stroke-width="0.8" stroke-opacity="0.8"/>
<circle cx="298.3" cy="95.0" r="1" fill="#6c6c6c" fill-opacity="0.5" stroke="rgb(73,73,73)" stroke-width="0.8" stroke-opacity="0.8"/>
<circle cx="338.3" cy="31.1" r="1.8" fill="#6c6c6c" fill-opacity="0.5" stroke="rgb(77,77,77)" stroke-width="0.8" stroke-opacity="0.8"/>
<circle cx="405.0" cy="59.4" r="1.8" fill="#6c6c6c" fill-opacity="0.5" stroke="rgb(75,75,75)" stroke-width="0.8" stroke-opacity="0.8"/>
<circle cx="405.6" cy="14.7" r="2.8" fill="#6c6c6c" fill-opacity="0.5" stroke="rgb(59,59,59)" stroke-width="0.8" stroke-opacity="0.8"/>
<circle cx="420.2" cy="91.8" r="1.4" fill="#6c6c6c" fill-opacity="0.5" stroke="rgb(77,77,77)" stroke-width="0.8" stroke-opacity="0.8"/>
<circle cx="381.2" cy="11.0" r="1" fill="#6c6c6c" fill-opacity="0.5" stroke="rgb(83,83,83)" stroke-width="0.8" stroke-opacity="0.8"/>
<circle cx="318.3" cy="38.4" r="1.4" fill="#6c6c6c" fill-opacity="0.5" stroke="rgb(82,82,82)" stroke-width="0.8" stroke-opacity="0.8"/>
<circle cx="382.0" cy="29.8" r="2.1" fill="#6c6c6c" fill-opacity="0.5" stroke="rgb(75,75,75)" stroke-width="0.8" stroke-opacity="0.8"/>
<circle cx="396.2" cy="92.1" r="1" fill="#6c6c6c" fill-opacity="0.5" stroke="rgb(52,52,52)" stroke-width="0.8" stroke-opacity="0.8"/>
<circle cx="298.0" cy="66.2" r="1.6" fill="#6c6c6c" fill-opacity="0.5" stroke="rgb(67,67,67)" stroke-width="0.8" stroke-opacity="0.8"/>
<circle cx="376.6" cy="80.6" r="1" fill="#6c6c6c" fill-opacity="0.5" stroke="rgb(56,56,56)" stroke-width="0.8" stroke-opacity="0.8"/>
<circle cx="326.7" cy="55.6" r="2.1" fill="#6c6c6c" fill-opacity="0.5" stroke="rgb(65,65,65)" stroke-width="0.8" stroke-opacity="0.8"/>
<circle cx="419.3" cy="35.2" r="1.6" fill="#6c6c6c" fill-opacity="0.5" stroke="rgb(72,72,72)" stroke-width="0.8" stroke-opacity="0.8"/>
<circle cx="379.2" cy="20.5" r="3.2" fill="#6c6c6c" fill-opacity="0.5" stroke="rgb(82,82,82)" stroke-width="0.8" stroke-opacity="0.8"/>
<circle cx="412.8" cy="17.4" r="3.2" fill="#6c6c6c" fill-opacity="0.5" stroke="rgb(84,84,84)" stroke-width="0.8" stroke-opacity="0.8"/>
<circle cx="416.8" cy="48.5" r="2.8" fill="#6c6c6c" fill-opacity="0.5" stroke="rgb(58,58,58)" stroke-width="0.8" stroke-opacity="0.8"/>
<circle cx="410.6" cy="90.2" r="3.2" fill="#6c6c6c" fill-opacity="0.5" stroke="rgb(68,68,68)" stroke-width="0.8" stroke-opacity="0.8"/>
<circle cx="329.8" cy="74.5" r="2.8" fill="#6c6c6c" fill-opacity="0.5" stroke="rgb(68,68,68)" stroke-width="0.8" stroke-opacity="0.8"/>
<circle cx="404.6" cy="63.4" r="3.2" fill="#6c6c6c" fill-opacity="0.5" stroke="rgb(64,64,64)" stroke-width="0.8" stroke-opacity="0.8"/>
<circle cx="379.5" cy="27.6" r="1.8" fill="#6c6c6c" fill-opacity="0.5" stroke="rgb(79,79,79)" stroke-width="0.8" stroke-opacity="0.8"/>
<circle cx="411.5" cy="36.6" r="2.4" fill="#6c6c6c" fill-opacity="0.5" stroke="rgb(80,80,80)" stroke-width="0.8" stroke-opacity="0.8"/>
<circle cx="401.8" cy="12.7" r="1.8" fill="#6c6c6c" fill-opacity="0.5" stroke="rgb(64,64,64)" stroke-width="0.8" stroke-opacity="0.8"/>
<circle cx="318.5" cy="57.8" r="3.2" fill="#6c6c6c" fill-opacity="0.5" stroke="rgb(75,75,75)" stroke-width="0.8" stroke-opacity="0.8"/>
<circle cx="295.1" cy="40.9" r="1.4" fill="#6c6c6c" fill-opacity="0.5" stroke="rgb(70,70,70)" stroke-width="0.8" stroke-opacity="0.8"/>
<circle cx="367.1" cy="53.0" r="1.6" fill="#6c6c6c" fill-opacity="0.5" stroke="rgb(63,63,63)" stroke-width="0.8" stroke-opacity="0.8"/>
<circle cx="332.6" cy="77.6" r="1.2" fill="#6c6c6c" fill-opacity="0.5" stroke="rgb(85,85,85)" stroke-width="0.8" stroke-opacity="0.8"/>
<circle cx="302.3" cy="86.3" r="2.4" fill="#6c6c6c" fill-opacity="0.5" stroke="rgb(53,53,53)" stroke-width="0.8" stroke-opacity="0.8"/>
<circle cx="361.9" cy="83.1" r="1.8" fill="#6c6c6c" fill-opacity="0.5" stroke="rgb(56,56,56)" stroke-width="0.8" stroke-opacity="0.8"/>
<circle cx="362.4" cy="96.7" r="1.2" fill="#6c6c6c" fill-opacity="0.5" stroke="rgb(76,76,76)" stroke-width="0.8" stroke-opacity="0.8"/>
<circle cx="338.1" cy="40.9" r="1.4" fill="#6c6c6c" fill-opacity="0.5" stroke="rgb(67,67,67)" stroke-width="0.8" stroke-opacity="0.8"/>
<circle cx="402.1" cy="55.4" r="2.4" fill="#6c6c6c" fill-opacity="0.5" stroke="rgb(67,67,67)" stroke-width="0.8" stroke-opacity="0.8"/>
<circle cx="397.3" cy="72.1" r="1.2" fill="#6c6c6c" fill-opacity="0.5" stroke="rgb(76,76,76)" stroke-width="0.8" stroke-opacity="0.8"/>
<circle cx="408.7" cy="10.4" r="2.8" fill="#6c6c6c" fill-opacity="0.5" stroke="rgb(57,57,57)" stroke-width="0.8" stroke-opacity="0.8"/>
<circle cx="359.4" cy="94.3" r="3.2" fill="#6c6c6c" fill-opacity="0.5" stroke="rgb(59,59,59)" stroke-width="0.8" stroke-opacity="0.8"/>
<circle cx="348.8" cy="78.7" r="3.2" fill="#6c6c6c" fill-opacity="0.5" stroke="rgb(57,57,57)" stroke-width="0.8" stroke-opacity="0.8"/>
</g>
<rect x="291.15" y="7.65" width="137.0" height="92.3" fill="none" stroke="#111" stroke-width="1.3"/>
</g>
<text x="296.20" y="94.60" font-size="7.8" text-anchor="start" font-weight="normal" fill="#f4f4f4" stroke="#f4f4f4" stroke-width="0.12">DMSO</text>
<rect x="417.50" y="95.30" width="8.00" height="2.40" fill="#fff"/>
<g>
<rect x="290.5" y="107" width="140.3" height="92.6" fill="#828282" filter="url(#n2)"/>
<g filter="url(#bl)">
<circle cx="317.6" cy="180.1" r="0.6" fill="#2a2a2a" fill-opacity="0.45"/>
<circle cx="353.1" cy="124.1" r="0.6" fill="#2a2a2a" fill-opacity="0.6"/>
<circle cx="310.7" cy="141.3" r="0.5" fill="#2a2a2a" fill-opacity="0.3"/>
<circle cx="360.6" cy="148.3" r="0.4" fill="#2a2a2a" fill-opacity="0.6"/>
<circle cx="350.6" cy="172.1" r="0.7" fill="#2a2a2a" fill-opacity="0.45"/>
<circle cx="340.5" cy="145.8" r="0.5" fill="#2a2a2a" fill-opacity="0.45"/>
<circle cx="325.6" cy="137.9" r="0.6" fill="#2a2a2a" fill-opacity="0.3"/>
<circle cx="401.7" cy="157.7" r="0.6" fill="#2a2a2a" fill-opacity="0.45"/>
<circle cx="365.9" cy="197.5" r="0.7" fill="#2a2a2a" fill-opacity="0.6"/>
<circle cx="352.5" cy="115.9" r="0.6" fill="#2a2a2a" fill-opacity="0.45"/>
<circle cx="354.3" cy="109.9" r="0.35" fill="#2a2a2a" fill-opacity="0.6"/>
<circle cx="367.8" cy="189.5" r="0.7" fill="#2a2a2a" fill-opacity="0.45"/>
<circle cx="313.5" cy="125.7" r="0.6" fill="#2a2a2a" fill-opacity="0.45"/>
<circle cx="415.1" cy="161.0" r="0.9" fill="#2a2a2a" fill-opacity="0.6"/>
<circle cx="360.1" cy="137.6" r="0.5" fill="#2a2a2a" fill-opacity="0.45"/>
<circle cx="346.4" cy="163.8" r="0.5" fill="#2a2a2a" fill-opacity="0.6"/>
<circle cx="332.7" cy="139.4" r="0.7" fill="#2a2a2a" fill-opacity="0.45"/>
<circle cx="316.0" cy="121.5" r="0.7" fill="#2a2a2a" fill-opacity="0.3"/>
<circle cx="325.8" cy="152.6" r="0.4" fill="#2a2a2a" fill-opacity="0.3"/>
<circle cx="310.5" cy="118.0" r="0.5" fill="#2a2a2a" fill-opacity="0.6"/>
<circle cx="298.3" cy="145.5" r="0.35" fill="#2a2a2a" fill-opacity="0.45"/>
<circle cx="343.9" cy="109.5" r="0.5" fill="#2a2a2a" fill-opacity="0.45"/>
<circle cx="399.9" cy="113.7" r="0.9" fill="#2a2a2a" fill-opacity="0.3"/>
<circle cx="381.5" cy="192.8" r="0.7" fill="#2a2a2a" fill-opacity="0.6"/>
<circle cx="364.9" cy="197.3" r="0.7" fill="#2a2a2a" fill-opacity="0.3"/>
<circle cx="337.4" cy="162.9" r="0.4" fill="#2a2a2a" fill-opacity="0.6"/>
<circle cx="362.2" cy="136.4" r="0.35" fill="#2a2a2a" fill-opacity="0.3"/>
<circle cx="392.1" cy="191.3" r="0.6" fill="#2a2a2a" fill-opacity="0.6"/>
<circle cx="381.1" cy="169.7" r="0.7" fill="#2a2a2a" fill-opacity="0.45"/>
<circle cx="385.3" cy="174.0" r="0.5" fill="#2a2a2a" fill-opacity="0.3"/>
<circle cx="409.6" cy="193.0" r="0.35" fill="#2a2a2a" fill-opacity="0.45"/>
<circle cx="295.2" cy="128.5" r="0.6" fill="#2a2a2a" fill-opacity="0.6"/>
<circle cx="362.1" cy="142.7" r="0.35" fill="#2a2a2a" fill-opacity="0.6"/>
<circle cx="363.5" cy="178.5" r="0.4" fill="#2a2a2a" fill-opacity="0.6"/>
<circle cx="389.3" cy="128.8" r="0.6" fill="#2a2a2a" fill-opacity="0.45"/>
<circle cx="324.8" cy="166.6" r="0.6" fill="#2a2a2a" fill-opacity="0.3"/>
<circle cx="363.0" cy="188.7" r="0.9" fill="#2a2a2a" fill-opacity="0.6"/>
<circle cx="368.9" cy="183.4" r="0.9" fill="#2a2a2a" fill-opacity="0.45"/>
<circle cx="304.4" cy="124.1" r="0.6" fill="#2a2a2a" fill-opacity="0.3"/>
<circle cx="346.5" cy="141.2" r="0.5" fill="#2a2a2a" fill-opacity="0.6"/>
<circle cx="394.4" cy="130.0" r="0.9" fill="#2a2a2a" fill-opacity="0.3"/>
<circle cx="415.5" cy="144.3" r="0.5" fill="#2a2a2a" fill-opacity="0.6"/>
<circle cx="361.8" cy="176.5" r="0.5" fill="#2a2a2a" fill-opacity="0.45"/>
<circle cx="361.8" cy="162.8" r="0.9" fill="#2a2a2a" fill-opacity="0.3"/>
<circle cx="343.6" cy="170.7" r="0.9" fill="#2a2a2a" fill-opacity="0.3"/>
<circle cx="396.4" cy="168.8" r="0.4" fill="#2a2a2a" fill-opacity="0.6"/>
<circle cx="402.2" cy="123.1" r="0.5" fill="#2a2a2a" fill-opacity="0.3"/>
<circle cx="351.6" cy="119.2" r="0.7" fill="#2a2a2a" fill-opacity="0.3"/>
<circle cx="342.7" cy="192.0" r="0.4" fill="#2a2a2a" fill-opacity="0.3"/>
<circle cx="411.6" cy="111.8" r="0.9" fill="#2a2a2a" fill-opacity="0.45"/>
<circle cx="312.8" cy="131.5" r="0.5" fill="#2a2a2a" fill-opacity="0.6"/>
<circle cx="321.5" cy="186.3" r="0.35" fill="#2a2a2a" fill-opacity="0.6"/>
<circle cx="293.4" cy="149.7" r="0.5" fill="#2a2a2a" fill-opacity="0.6"/>
<circle cx="367.9" cy="118.5" r="0.9" fill="#2a2a2a" fill-opacity="0.6"/>
<circle cx="318.2" cy="140.6" r="0.6" fill="#2a2a2a" fill-opacity="0.6"/>
<circle cx="389.5" cy="164.7" r="0.4" fill="#2a2a2a" fill-opacity="0.45"/>
<circle cx="301.8" cy="190.0" r="0.7" fill="#2a2a2a" fill-opacity="0.45"/>
<circle cx="304.5" cy="134.6" r="0.9" fill="#2a2a2a" fill-opacity="0.45"/>
<circle cx="349.6" cy="188.8" r="0.6" fill="#2a2a2a" fill-opacity="0.6"/>
<circle cx="310.5" cy="133.5" r="0.35" fill="#2a2a2a" fill-opacity="0.45"/>
<circle cx="340.4" cy="145.6" r="0.9" fill="#2a2a2a" fill-opacity="0.6"/>
<circle cx="347.9" cy="127.7" r="0.6" fill="#2a2a2a" fill-opacity="0.45"/>
<circle cx="381.0" cy="144.3" r="0.5" fill="#2a2a2a" fill-opacity="0.3"/>
<circle cx="322.4" cy="169.0" r="0.6" fill="#2a2a2a" fill-opacity="0.3"/>
<circle cx="316.2" cy="129.5" r="0.5" fill="#2a2a2a" fill-opacity="0.3"/>
<circle cx="349.5" cy="160.2" r="0.5" fill="#2a2a2a" fill-opacity="0.6"/>
<circle cx="338.7" cy="136.2" r="0.4" fill="#2a2a2a" fill-opacity="0.6"/>
<circle cx="295.2" cy="153.9" r="0.6" fill="#2a2a2a" fill-opacity="0.6"/>
<circle cx="340.6" cy="123.1" r="0.35" fill="#2a2a2a" fill-opacity="0.3"/>
<circle cx="331.5" cy="112.8" r="0.7" fill="#2a2a2a" fill-opacity="0.6"/>
<circle cx="385.3" cy="112.3" r="0.5" fill="#2a2a2a" fill-opacity="0.3"/>
<circle cx="369.1" cy="121.0" r="0.35" fill="#2a2a2a" fill-opacity="0.45"/>
<circle cx="342.3" cy="119.8" r="0.9" fill="#2a2a2a" fill-opacity="0.6"/>
<circle cx="381.5" cy="127.8" r="0.35" fill="#2a2a2a" fill-opacity="0.45"/>
<circle cx="414.1" cy="140.9" r="0.5" fill="#2a2a2a" fill-opacity="0.6"/>
<circle cx="406.8" cy="164.5" r="0.7" fill="#2a2a2a" fill-opacity="0.3"/>
<circle cx="344.3" cy="131.6" r="0.9" fill="#2a2a2a" fill-opacity="0.6"/>
<circle cx="359.2" cy="125.8" r="0.9" fill="#2a2a2a" fill-opacity="0.6"/>
<circle cx="424.6" cy="165.5" r="0.7" fill="#2a2a2a" fill-opacity="0.45"/>
<circle cx="360.7" cy="165.8" r="0.5" fill="#2a2a2a" fill-opacity="0.45"/>
<circle cx="329.9" cy="165.9" r="0.5" fill="#2a2a2a" fill-opacity="0.3"/>
<circle cx="415.9" cy="195.5" r="0.9" fill="#2a2a2a" fill-opacity="0.45"/>
<circle cx="363.7" cy="179.7" r="0.7" fill="#2a2a2a" fill-opacity="0.6"/>
<circle cx="340.4" cy="135.5" r="0.9" fill="#2a2a2a" fill-opacity="0.3"/>
<circle cx="326.5" cy="139.5" r="0.9" fill="#2a2a2a" fill-opacity="0.3"/>
<circle cx="315.6" cy="168.1" r="0.7" fill="#2a2a2a" fill-opacity="0.45"/>
<circle cx="390.0" cy="122.5" r="0.4" fill="#2a2a2a" fill-opacity="0.3"/>
<circle cx="357.5" cy="148.1" r="0.6" fill="#2a2a2a" fill-opacity="0.3"/>
<circle cx="333.9" cy="118.8" r="0.5" fill="#2a2a2a" fill-opacity="0.45"/>
<circle cx="391.8" cy="148.4" r="0.6" fill="#2a2a2a" fill-opacity="0.45"/>
<circle cx="320.2" cy="140.9" r="0.7" fill="#2a2a2a" fill-opacity="0.3"/>
<circle cx="418.9" cy="164.6" r="0.6" fill="#2a2a2a" fill-opacity="0.3"/>
<circle cx="359.8" cy="121.3" r="0.9" fill="#2a2a2a" fill-opacity="0.6"/>
<circle cx="422.9" cy="152.3" r="0.7" fill="#2a2a2a" fill-opacity="0.45"/>
<circle cx="380.3" cy="164.6" r="0.9" fill="#2a2a2a" fill-opacity="0.6"/>
<circle cx="303.2" cy="175.2" r="0.35" fill="#2a2a2a" fill-opacity="0.45"/>
<circle cx="384.8" cy="128.0" r="0.4" fill="#2a2a2a" fill-opacity="0.6"/>
<circle cx="385.5" cy="118.1" r="0.9" fill="#2a2a2a" fill-opacity="0.45"/>
<circle cx="358.3" cy="121.7" r="0.4" fill="#2a2a2a" fill-opacity="0.6"/>
<circle cx="382.3" cy="125.5" r="0.5" fill="#2a2a2a" fill-opacity="0.3"/>
<circle cx="311.5" cy="142.5" r="0.5" fill="#2a2a2a" fill-opacity="0.3"/>
<circle cx="384.7" cy="159.3" r="0.9" fill="#2a2a2a" fill-opacity="0.6"/>
<circle cx="346.4" cy="159.9" r="0.4" fill="#2a2a2a" fill-opacity="0.45"/>
<circle cx="428.2" cy="162.4" r="0.9" fill="#2a2a2a" fill-opacity="0.3"/>
<circle cx="385.0" cy="173.2" r="0.4" fill="#2a2a2a" fill-opacity="0.45"/>
<circle cx="325.0" cy="126.0" r="0.35" fill="#2a2a2a" fill-opacity="0.45"/>
<circle cx="323.1" cy="156.5" r="0.5" fill="#2a2a2a" fill-opacity="0.3"/>
<circle cx="406.1" cy="154.3" r="0.4" fill="#2a2a2a" fill-opacity="0.45"/>
<circle cx="377.0" cy="158.6" r="0.9" fill="#2a2a2a" fill-opacity="0.45"/>
<circle cx="375.7" cy="145.2" r="0.35" fill="#2a2a2a" fill-opacity="0.6"/>
<circle cx="393.0" cy="147.2" r="0.9" fill="#2a2a2a" fill-opacity="0.3"/>
<circle cx="357.1" cy="155.6" r="0.7" fill="#2a2a2a" fill-opacity="0.6"/>
<circle cx="340.1" cy="172.5" r="0.35" fill="#2a2a2a" fill-opacity="0.6"/>
<circle cx="333.9" cy="188.7" r="0.7" fill="#2a2a2a" fill-opacity="0.6"/>
<circle cx="423.6" cy="163.9" r="0.35" fill="#2a2a2a" fill-opacity="0.6"/>
<circle cx="327.7" cy="109.6" r="0.5" fill="#2a2a2a" fill-opacity="0.6"/>
<circle cx="358.0" cy="166.4" r="0.5" fill="#2a2a2a" fill-opacity="0.45"/>
<circle cx="408.1" cy="128.7" r="0.9" fill="#2a2a2a" fill-opacity="0.45"/>
<circle cx="349.7" cy="134.6" r="0.7" fill="#2a2a2a" fill-opacity="0.45"/>
<circle cx="341.6" cy="130.3" r="0.6" fill="#2a2a2a" fill-opacity="0.45"/>
<circle cx="358.0" cy="178.8" r="0.4" fill="#2a2a2a" fill-opacity="0.6"/>
<circle cx="360.6" cy="128.1" r="0.5" fill="#2a2a2a" fill-opacity="0.6"/>
<circle cx="415.6" cy="177.9" r="0.5" fill="#2a2a2a" fill-opacity="0.6"/>
<circle cx="323.4" cy="159.7" r="0.35" fill="#2a2a2a" fill-opacity="0.6"/>
<circle cx="303.4" cy="145.2" r="0.35" fill="#2a2a2a" fill-opacity="0.45"/>
<circle cx="403.1" cy="184.8" r="0.7" fill="#2a2a2a" fill-opacity="0.6"/>
<circle cx="377.9" cy="194.1" r="0.7" fill="#2a2a2a" fill-opacity="0.3"/>
<circle cx="366.7" cy="194.8" r="0.4" fill="#2a2a2a" fill-opacity="0.6"/>
<circle cx="337.1" cy="155.8" r="0.5" fill="#2a2a2a" fill-opacity="0.6"/>
<circle cx="397.8" cy="162.6" r="0.5" fill="#2a2a2a" fill-opacity="0.3"/>
<circle cx="321.6" cy="135.6" r="0.9" fill="#2a2a2a" fill-opacity="0.3"/>
<circle cx="377.2" cy="186.3" r="0.7" fill="#2a2a2a" fill-opacity="0.3"/>
<circle cx="315.4" cy="175.0" r="0.5" fill="#2a2a2a" fill-opacity="0.6"/>
<circle cx="309.2" cy="142.0" r="0.9" fill="#2a2a2a" fill-opacity="0.6"/>
<circle cx="298.4" cy="162.5" r="0.35" fill="#2a2a2a" fill-opacity="0.45"/>
<circle cx="307.9" cy="191.0" r="0.9" fill="#2a2a2a" fill-opacity="0.3"/>
<circle cx="359.6" cy="176.6" r="0.6" fill="#2a2a2a" fill-opacity="0.3"/>
<circle cx="398.1" cy="113.3" r="0.35" fill="#2a2a2a" fill-opacity="0.3"/>
<circle cx="339.6" cy="154.3" r="0.5" fill="#2a2a2a" fill-opacity="0.3"/>
<circle cx="411.6" cy="168.3" r="0.4" fill="#2a2a2a" fill-opacity="0.6"/>
<circle cx="408.2" cy="122.1" r="0.9" fill="#2a2a2a" fill-opacity="0.45"/>
<circle cx="369.2" cy="151.4" r="0.5" fill="#2a2a2a" fill-opacity="0.3"/>
<circle cx="298.8" cy="156.6" r="0.35" fill="#2a2a2a" fill-opacity="0.3"/>
<circle cx="427.7" cy="175.7" r="0.9" fill="#2a2a2a" fill-opacity="0.6"/>
<circle cx="424.4" cy="170.4" r="0.6" fill="#2a2a2a" fill-opacity="0.45"/>
<circle cx="363.0" cy="141.0" r="0.7" fill="#2a2a2a" fill-opacity="0.3"/>
<circle cx="349.9" cy="170.8" r="0.7" fill="#2a2a2a" fill-opacity="0.3"/>
<circle cx="391.6" cy="138.4" r="0.6" fill="#2a2a2a" fill-opacity="0.45"/>
<circle cx="404.0" cy="141.4" r="0.5" fill="#2a2a2a" fill-opacity="0.6"/>
<circle cx="322.2" cy="156.0" r="0.4" fill="#2a2a2a" fill-opacity="0.45"/>
<circle cx="413.3" cy="119.1" r="0.9" fill="#2a2a2a" fill-opacity="0.3"/>
<circle cx="356.3" cy="133.7" r="0.6" fill="#2a2a2a" fill-opacity="0.45"/>
<circle cx="341.1" cy="159.8" r="0.7" fill="#2a2a2a" fill-opacity="0.3"/>
<circle cx="374.8" cy="152.8" r="0.7" fill="#2a2a2a" fill-opacity="0.3"/>
<circle cx="425.4" cy="109.1" r="0.9" fill="#2a2a2a" fill-opacity="0.6"/>
<circle cx="326.7" cy="128.0" r="0.5" fill="#2a2a2a" fill-opacity="0.3"/>
<circle cx="385.4" cy="135.9" r="0.5" fill="#2a2a2a" fill-opacity="0.6"/>
<circle cx="325.9" cy="186.3" r="0.9" fill="#2a2a2a" fill-opacity="0.45"/>
<circle cx="384.1" cy="187.3" r="0.6" fill="#2a2a2a" fill-opacity="0.6"/>
<circle cx="333.6" cy="173.0" r="0.4" fill="#2a2a2a" fill-opacity="0.45"/>
<circle cx="382.0" cy="172.9" r="0.9" fill="#2a2a2a" fill-opacity="0.45"/>
<circle cx="315.8" cy="173.4" r="0.5" fill="#2a2a2a" fill-opacity="0.3"/>
<circle cx="334.9" cy="143.0" r="0.9" fill="#2a2a2a" fill-opacity="0.45"/>
<circle cx="382.3" cy="194.6" r="0.35" fill="#2a2a2a" fill-opacity="0.3"/>
<circle cx="341.6" cy="146.0" r="0.4" fill="#2a2a2a" fill-opacity="0.45"/>
<circle cx="341.2" cy="177.6" r="0.6" fill="#2a2a2a" fill-opacity="0.6"/>
<circle cx="374.3" cy="143.5" r="0.6" fill="#2a2a2a" fill-opacity="0.45"/>
<circle cx="395.6" cy="136.4" r="0.5" fill="#2a2a2a" fill-opacity="0.6"/>
<circle cx="392.7" cy="156.4" r="0.5" fill="#2a2a2a" fill-opacity="0.3"/>
<circle cx="349.9" cy="129.3" r="0.6" fill="#2a2a2a" fill-opacity="0.45"/>
<circle cx="410.3" cy="166.4" r="0.4" fill="#2a2a2a" fill-opacity="0.3"/>
<circle cx="374.4" cy="116.0" r="0.7" fill="#2a2a2a" fill-opacity="0.45"/>
<circle cx="359.6" cy="149.8" r="0.5" fill="#2a2a2a" fill-opacity="0.6"/>
<circle cx="354.8" cy="148.5" r="0.5" fill="#2a2a2a" fill-opacity="0.3"/>
<circle cx="371.9" cy="184.1" r="0.9" fill="#2a2a2a" fill-opacity="0.3"/>
<circle cx="328.0" cy="124.1" r="0.9" fill="#2a2a2a" fill-opacity="0.45"/>
<circle cx="401.0" cy="116.7" r="0.7" fill="#2a2a2a" fill-opacity="0.45"/>
<circle cx="347.0" cy="192.3" r="0.35" fill="#2a2a2a" fill-opacity="0.3"/>
<circle cx="422.7" cy="132.5" r="0.5" fill="#2a2a2a" fill-opacity="0.3"/>
<circle cx="406.3" cy="122.9" r="0.35" fill="#2a2a2a" fill-opacity="0.3"/>
<circle cx="376.9" cy="195.7" r="0.35" fill="#2a2a2a" fill-opacity="0.45"/>
<circle cx="382.8" cy="118.9" r="0.7" fill="#2a2a2a" fill-opacity="0.6"/>
<circle cx="302.3" cy="129.4" r="0.9" fill="#2a2a2a" fill-opacity="0.6"/>
<circle cx="325.9" cy="141.6" r="0.7" fill="#2a2a2a" fill-opacity="0.45"/>
<circle cx="384.5" cy="115.9" r="0.35" fill="#2a2a2a" fill-opacity="0.6"/>
<circle cx="425.7" cy="149.2" r="0.5" fill="#2a2a2a" fill-opacity="0.45"/>
<circle cx="310.5" cy="109.8" r="0.6" fill="#2a2a2a" fill-opacity="0.3"/>
<circle cx="341.9" cy="196.7" r="0.4" fill="#2a2a2a" fill-opacity="0.45"/>
<circle cx="361.6" cy="137.9" r="0.35" fill="#2a2a2a" fill-opacity="0.6"/>
<circle cx="373.3" cy="162.7" r="0.7" fill="#2a2a2a" fill-opacity="0.3"/>
<circle cx="328.5" cy="145.6" r="0.7" fill="#2a2a2a" fill-opacity="0.45"/>
<circle cx="411.2" cy="184.8" r="0.4" fill="#2a2a2a" fill-opacity="0.6"/>
<circle cx="325.6" cy="196.0" r="0.6" fill="#2a2a2a" fill-opacity="0.3"/>
<circle cx="328.1" cy="128.6" r="0.6" fill="#2a2a2a" fill-opacity="0.45"/>
<circle cx="296.1" cy="167.5" r="0.35" fill="#2a2a2a" fill-opacity="0.3"/>
<circle cx="384.4" cy="140.1" r="0.4" fill="#2a2a2a" fill-opacity="0.6"/>
<circle cx="343.7" cy="167.2" r="0.4" fill="#2a2a2a" fill-opacity="0.3"/>
<circle cx="360.1" cy="181.1" r="0.6" fill="#2a2a2a" fill-opacity="0.3"/>
<circle cx="364.9" cy="177.1" r="0.6" fill="#2a2a2a" fill-opacity="0.6"/>
<circle cx="360.5" cy="195.9" r="0.4" fill="#2a2a2a" fill-opacity="0.45"/>
<circle cx="328.9" cy="175.6" r="0.5" fill="#2a2a2a" fill-opacity="0.45"/>
<circle cx="364.7" cy="155.0" r="0.4" fill="#2a2a2a" fill-opacity="0.3"/>
<circle cx="329.2" cy="197.6" r="0.6" fill="#2a2a2a" fill-opacity="0.3"/>
<circle cx="321.1" cy="187.3" r="0.5" fill="#2a2a2a" fill-opacity="0.3"/>
<circle cx="317.3" cy="185.5" r="0.5" fill="#2a2a2a" fill-opacity="0.6"/>
<circle cx="386.6" cy="155.9" r="0.35" fill="#2a2a2a" fill-opacity="0.3"/>
<circle cx="386.9" cy="142.6" r="0.9" fill="#2a2a2a" fill-opacity="0.45"/>
<circle cx="387.5" cy="165.8" r="0.9" fill="#2a2a2a" fill-opacity="0.45"/>
<circle cx="402.1" cy="170.7" r="0.9" fill="#2a2a2a" fill-opacity="0.6"/>
<circle cx="321.8" cy="172.8" r="0.35" fill="#2a2a2a" fill-opacity="0.6"/>
<circle cx="386.5" cy="112.4" r="0.7" fill="#2a2a2a" fill-opacity="0.6"/>
<circle cx="367.2" cy="190.8" r="0.35" fill="#2a2a2a" fill-opacity="0.6"/>
<circle cx="335.6" cy="186.8" r="0.35" fill="#2a2a2a" fill-opacity="0.45"/>
<circle cx="425.4" cy="145.3" r="0.35" fill="#2a2a2a" fill-opacity="0.3"/>
<circle cx="371.6" cy="197.1" r="0.9" fill="#2a2a2a" fill-opacity="0.6"/>
<circle cx="364.7" cy="183.4" r="0.35" fill="#2a2a2a" fill-opacity="0.45"/>
<circle cx="425.0" cy="128.8" r="0.35" fill="#2a2a2a" fill-opacity="0.45"/>
<circle cx="357.9" cy="147.3" r="0.5" fill="#2a2a2a" fill-opacity="0.3"/>
<circle cx="395.5" cy="148.4" r="0.35" fill="#2a2a2a" fill-opacity="0.45"/>
<circle cx="328.9" cy="137.9" r="0.35" fill="#2a2a2a" fill-opacity="0.6"/>
<circle cx="318.6" cy="161.6" r="0.5" fill="#2a2a2a" fill-opacity="0.6"/>
<circle cx="394.1" cy="132.8" r="0.6" fill="#2a2a2a" fill-opacity="0.45"/>
<circle cx="309.3" cy="144.6" r="0.4" fill="#2a2a2a" fill-opacity="0.45"/>
<circle cx="402.1" cy="188.6" r="0.9" fill="#2a2a2a" fill-opacity="0.3"/>
<circle cx="365.0" cy="195.2" r="0.5" fill="#2a2a2a" fill-opacity="0.6"/>
<circle cx="320.4" cy="131.1" r="0.4" fill="#2a2a2a" fill-opacity="0.3"/>
<circle cx="348.7" cy="140.3" r="0.7" fill="#2a2a2a" fill-opacity="0.3"/>
<circle cx="375.1" cy="147.1" r="0.9" fill="#2a2a2a" fill-opacity="0.6"/>
<circle cx="367.3" cy="137.0" r="0.7" fill="#2a2a2a" fill-opacity="0.3"/>
<circle cx="356.6" cy="139.3" r="0.7" fill="#2a2a2a" fill-opacity="0.45"/>
<circle cx="393.8" cy="142.6" r="0.9" fill="#2a2a2a" fill-opacity="0.3"/>
<circle cx="308.9" cy="180.3" r="0.7" fill="#2a2a2a" fill-opacity="0.6"/>
<circle cx="339.6" cy="125.1" r="0.9" fill="#2a2a2a" fill-opacity="0.6"/>
<circle cx="396.8" cy="132.2" r="0.6" fill="#2a2a2a" fill-opacity="0.6"/>
<circle cx="319.1" cy="192.1" r="0.7" fill="#2a2a2a" fill-opacity="0.3"/>
<circle cx="380.6" cy="153.3" r="0.7" fill="#2a2a2a" fill-opacity="0.45"/>
<circle cx="295.3" cy="146.8" r="0.5" fill="#2a2a2a" fill-opacity="0.3"/>
<circle cx="346.3" cy="135.1" r="0.9" fill="#2a2a2a" fill-opacity="0.45"/>
<circle cx="409.1" cy="166.8" r="0.35" fill="#2a2a2a" fill-opacity="0.45"/>
<circle cx="404.0" cy="119.9" r="0.4" fill="#2a2a2a" fill-opacity="0.6"/>
<circle cx="360.4" cy="169.9" r="0.5" fill="#2a2a2a" fill-opacity="0.6"/>
<circle cx="382.1" cy="112.5" r="0.6" fill="#2a2a2a" fill-opacity="0.6"/>
<circle cx="406.7" cy="172.1" r="0.6" fill="#2a2a2a" fill-opacity="0.6"/>
<circle cx="419.1" cy="186.0" r="0.9" fill="#2a2a2a" fill-opacity="0.3"/>
<circle cx="362.3" cy="133.0" r="0.9" fill="#2a2a2a" fill-opacity="0.3"/>
<circle cx="316.8" cy="185.4" r="0.4" fill="#2a2a2a" fill-opacity="0.6"/>
<circle cx="326.8" cy="176.9" r="0.6" fill="#2a2a2a" fill-opacity="0.45"/>
<circle cx="396.6" cy="156.0" r="0.7" fill="#2a2a2a" fill-opacity="0.45"/>
<circle cx="392.3" cy="161.2" r="0.9" fill="#2a2a2a" fill-opacity="0.6"/>
<circle cx="353.3" cy="184.4" r="0.4" fill="#2a2a2a" fill-opacity="0.45"/>
<circle cx="372.6" cy="139.8" r="0.9" fill="#2a2a2a" fill-opacity="0.45"/>
<circle cx="383.5" cy="134.8" r="0.6" fill="#2a2a2a" fill-opacity="0.45"/>
<circle cx="322.3" cy="130.1" r="0.35" fill="#2a2a2a" fill-opacity="0.6"/>
<circle cx="312.4" cy="165.3" r="0.9" fill="#2a2a2a" fill-opacity="0.45"/>
<circle cx="416.9" cy="146.2" r="0.7" fill="#2a2a2a" fill-opacity="0.45"/>
<circle cx="328.7" cy="181.4" r="0.7" fill="#2a2a2a" fill-opacity="0.3"/>
<circle cx="392.0" cy="142.7" r="0.9" fill="#2a2a2a" fill-opacity="0.6"/>
<circle cx="305.1" cy="191.2" r="0.5" fill="#2a2a2a" fill-opacity="0.3"/>
<circle cx="412.0" cy="171.9" r="0.6" fill="#2a2a2a" fill-opacity="0.6"/>
<circle cx="380.1" cy="179.1" r="0.35" fill="#2a2a2a" fill-opacity="0.6"/>
<circle cx="388.0" cy="147.6" r="0.6" fill="#2a2a2a" fill-opacity="0.3"/>
<circle cx="405.5" cy="128.9" r="0.6" fill="#2a2a2a" fill-opacity="0.3"/>
<circle cx="383.9" cy="174.6" r="0.6" fill="#2a2a2a" fill-opacity="0.6"/>
<circle cx="368.0" cy="177.2" r="0.6" fill="#2a2a2a" fill-opacity="0.3"/>
<circle cx="370.3" cy="110.4" r="0.6" fill="#2a2a2a" fill-opacity="0.3"/>
<circle cx="382.4" cy="133.1" r="0.6" fill="#2a2a2a" fill-opacity="0.3"/>
<circle cx="376.8" cy="132.0" r="0.5" fill="#2a2a2a" fill-opacity="0.45"/>
<circle cx="405.1" cy="119.1" r="0.9" fill="#2a2a2a" fill-opacity="0.45"/>
<circle cx="377.1" cy="137.0" r="0.6" fill="#2a2a2a" fill-opacity="0.3"/>
<circle cx="381.6" cy="138.9" r="0.5" fill="#2a2a2a" fill-opacity="0.3"/>
<circle cx="354.8" cy="152.9" r="0.7" fill="#2a2a2a" fill-opacity="0.45"/>
<circle cx="337.9" cy="151.4" r="0.6" fill="#2a2a2a" fill-opacity="0.45"/>
<circle cx="337.3" cy="127.6" r="0.6" fill="#2a2a2a" fill-opacity="0.6"/>
<circle cx="422.1" cy="117.9" r="0.5" fill="#2a2a2a" fill-opacity="0.45"/>
<circle cx="361.1" cy="188.1" r="0.6" fill="#2a2a2a" fill-opacity="0.6"/>
<circle cx="359.0" cy="177.2" r="0.35" fill="#2a2a2a" fill-opacity="0.3"/>
<circle cx="309.8" cy="145.4" r="0.6" fill="#2a2a2a" fill-opacity="0.6"/>
<circle cx="342.3" cy="180.0" r="0.4" fill="#2a2a2a" fill-opacity="0.45"/>
<circle cx="420.8" cy="131.3" r="0.35" fill="#2a2a2a" fill-opacity="0.6"/>
<circle cx="334.5" cy="193.7" r="0.6" fill="#2a2a2a" fill-opacity="0.6"/>
<circle cx="367.1" cy="144.7" r="0.4" fill="#2a2a2a" fill-opacity="0.45"/>
<circle cx="401.9" cy="161.5" r="0.6" fill="#2a2a2a" fill-opacity="0.45"/>
<circle cx="414.4" cy="137.9" r="0.4" fill="#2a2a2a" fill-opacity="0.3"/>
<circle cx="309.5" cy="121.1" r="0.35" fill="#2a2a2a" fill-opacity="0.6"/>
<circle cx="351.5" cy="153.4" r="0.9" fill="#2a2a2a" fill-opacity="0.6"/>
<circle cx="358.1" cy="132.0" r="0.4" fill="#2a2a2a" fill-opacity="0.6"/>
<circle cx="401.8" cy="156.4" r="0.4" fill="#2a2a2a" fill-opacity="0.3"/>
<circle cx="362.9" cy="150.3" r="0.4" fill="#2a2a2a" fill-opacity="0.3"/>
<circle cx="413.9" cy="142.1" r="0.9" fill="#2a2a2a" fill-opacity="0.45"/>
<circle cx="344.8" cy="116.3" r="0.6" fill="#2a2a2a" fill-opacity="0.3"/>
<circle cx="310.7" cy="123.2" r="0.6" fill="#2a2a2a" fill-opacity="0.45"/>
<circle cx="401.2" cy="171.6" r="0.9" fill="#2a2a2a" fill-opacity="0.3"/>
<circle cx="345.4" cy="178.9" r="0.7" fill="#2a2a2a" fill-opacity="0.3"/>
<circle cx="426.1" cy="143.7" r="0.35" fill="#2a2a2a" fill-opacity="0.45"/>
<circle cx="304.4" cy="188.2" r="0.4" fill="#2a2a2a" fill-opacity="0.6"/>
<circle cx="337.7" cy="148.8" r="0.6" fill="#2a2a2a" fill-opacity="0.3"/>
<circle cx="352.9" cy="115.9" r="0.9" fill="#2a2a2a" fill-opacity="0.45"/>
<circle cx="309.1" cy="190.8" r="0.9" fill="#2a2a2a" fill-opacity="0.6"/>
<circle cx="316.5" cy="148.4" r="0.5" fill="#2a2a2a" fill-opacity="0.3"/>
<circle cx="360.8" cy="111.6" r="0.35" fill="#2a2a2a" fill-opacity="0.3"/>
<circle cx="374.0" cy="156.9" r="0.35" fill="#2a2a2a" fill-opacity="0.3"/>
<circle cx="388.1" cy="175.1" r="0.4" fill="#2a2a2a" fill-opacity="0.6"/>
<circle cx="373.0" cy="149.1" r="0.7" fill="#2a2a2a" fill-opacity="0.3"/>
<circle cx="409.2" cy="146.6" r="0.4" fill="#2a2a2a" fill-opacity="0.6"/>
<circle cx="350.4" cy="174.1" r="0.5" fill="#2a2a2a" fill-opacity="0.45"/>
<circle cx="312.7" cy="157.1" r="0.5" fill="#2a2a2a" fill-opacity="0.3"/>
<circle cx="402.8" cy="173.1" r="0.6" fill="#2a2a2a" fill-opacity="0.3"/>
<circle cx="360.1" cy="135.9" r="0.4" fill="#2a2a2a" fill-opacity="0.6"/>
<circle cx="349.2" cy="159.3" r="0.35" fill="#2a2a2a" fill-opacity="0.6"/>
<circle cx="311.7" cy="135.7" r="0.9" fill="#2a2a2a" fill-opacity="0.3"/>
<circle cx="302.9" cy="173.5" r="0.9" fill="#2a2a2a" fill-opacity="0.3"/>
<circle cx="310.2" cy="193.9" r="0.35" fill="#2a2a2a" fill-opacity="0.45"/>
<circle cx="406.6" cy="135.9" r="0.5" fill="#2a2a2a" fill-opacity="0.3"/>
<circle cx="391.9" cy="169.6" r="0.4" fill="#2a2a2a" fill-opacity="0.45"/>
<circle cx="352.0" cy="197.4" r="0.5" fill="#2a2a2a" fill-opacity="0.45"/>
<circle cx="298.2" cy="131.7" r="0.4" fill="#2a2a2a" fill-opacity="0.45"/>
<circle cx="330.7" cy="167.0" r="0.4" fill="#2a2a2a" fill-opacity="0.3"/>
<circle cx="350.9" cy="109.7" r="0.4" fill="#2a2a2a" fill-opacity="0.3"/>
<circle cx="359.1" cy="179.1" r="0.7" fill="#2a2a2a" fill-opacity="0.3"/>
<circle cx="346.1" cy="129.5" r="0.4" fill="#2a2a2a" fill-opacity="0.3"/>
<circle cx="350.3" cy="164.3" r="0.35" fill="#2a2a2a" fill-opacity="0.45"/>
<circle cx="335.9" cy="145.6" r="0.9" fill="#2a2a2a" fill-opacity="0.6"/>
<circle cx="368.8" cy="179.4" r="0.7" fill="#2a2a2a" fill-opacity="0.6"/>
<circle cx="302.5" cy="138.9" r="0.35" fill="#2a2a2a" fill-opacity="0.3"/>
<circle cx="316.3" cy="135.9" r="0.35" fill="#2a2a2a" fill-opacity="0.45"/>
<circle cx="331.9" cy="141.0" r="0.5" fill="#2a2a2a" fill-opacity="0.45"/>
<circle cx="363.8" cy="144.4" r="0.4" fill="#2a2a2a" fill-opacity="0.3"/>
<circle cx="313.1" cy="139.5" r="0.4" fill="#2a2a2a" fill-opacity="0.3"/>
<circle cx="372.8" cy="177.1" r="0.5" fill="#2a2a2a" fill-opacity="0.6"/>
<circle cx="400.4" cy="151.5" r="0.6" fill="#2a2a2a" fill-opacity="0.6"/>
<circle cx="394.9" cy="165.4" r="0.4" fill="#2a2a2a" fill-opacity="0.6"/>
<circle cx="409.6" cy="163.9" r="0.6" fill="#2a2a2a" fill-opacity="0.3"/>
<circle cx="371.9" cy="180.2" r="0.6" fill="#2a2a2a" fill-opacity="0.6"/>
<circle cx="369.4" cy="112.0" r="0.5" fill="#2a2a2a" fill-opacity="0.6"/>
<circle cx="394.0" cy="182.8" r="0.9" fill="#2a2a2a" fill-opacity="0.6"/>
<circle cx="387.9" cy="183.5" r="0.9" fill="#2a2a2a" fill-opacity="0.6"/>
<circle cx="365.0" cy="192.8" r="0.35" fill="#2a2a2a" fill-opacity="0.3"/>
<circle cx="326.8" cy="183.3" r="0.4" fill="#2a2a2a" fill-opacity="0.3"/>
<circle cx="379.8" cy="190.6" r="0.4" fill="#2a2a2a" fill-opacity="0.45"/>
<circle cx="413.7" cy="113.4" r="0.9" fill="#2a2a2a" fill-opacity="0.45"/>
<circle cx="420.9" cy="182.2" r="0.6" fill="#2a2a2a" fill-opacity="0.3"/>
<circle cx="400.4" cy="167.8" r="0.6" fill="#2a2a2a" fill-opacity="0.45"/>
<circle cx="423.2" cy="154.5" r="0.35" fill="#2a2a2a" fill-opacity="0.3"/>
<circle cx="404.9" cy="125.3" r="0.6" fill="#2a2a2a" fill-opacity="0.6"/>
<circle cx="351.4" cy="172.3" r="0.7" fill="#2a2a2a" fill-opacity="0.3"/>
<circle cx="407.5" cy="171.1" r="0.6" fill="#2a2a2a" fill-opacity="0.6"/>
<circle cx="408.4" cy="159.8" r="0.5" fill="#2a2a2a" fill-opacity="0.3"/>
<circle cx="343.0" cy="116.6" r="0.9" fill="#2a2a2a" fill-opacity="0.6"/>
<circle cx="370.3" cy="136.4" r="0.9" fill="#2a2a2a" fill-opacity="0.6"/>
<circle cx="317.6" cy="133.1" r="0.4" fill="#2a2a2a" fill-opacity="0.45"/>
<circle cx="385.6" cy="182.1" r="0.7" fill="#2a2a2a" fill-opacity="0.45"/>
<circle cx="343.6" cy="182.4" r="0.7" fill="#2a2a2a" fill-opacity="0.6"/>
<circle cx="314.6" cy="155.7" r="0.35" fill="#2a2a2a" fill-opacity="0.3"/>
<circle cx="392.9" cy="169.5" r="0.7" fill="#2a2a2a" fill-opacity="0.6"/>
<circle cx="360.4" cy="186.5" r="0.35" fill="#2a2a2a" fill-opacity="0.6"/>
<circle cx="383.3" cy="121.0" r="0.5" fill="#2a2a2a" fill-opacity="0.6"/>
<circle cx="304.6" cy="174.8" r="0.5" fill="#2a2a2a" fill-opacity="0.45"/>
<circle cx="356.0" cy="183.0" r="0.5" fill="#2a2a2a" fill-opacity="0.6"/>
<circle cx="420.3" cy="180.6" r="0.35" fill="#2a2a2a" fill-opacity="0.6"/>
<circle cx="309.3" cy="153.7" r="0.35" fill="#2a2a2a" fill-opacity="0.3"/>
<circle cx="308.7" cy="142.4" r="0.5" fill="#2a2a2a" fill-opacity="0.6"/>
<circle cx="428.2" cy="116.9" r="0.9" fill="#2a2a2a" fill-opacity="0.45"/>
<circle cx="407.4" cy="160.2" r="0.4" fill="#2a2a2a" fill-opacity="0.3"/>
<circle cx="312.2" cy="161.1" r="0.7" fill="#2a2a2a" fill-opacity="0.6"/>
<circle cx="412.2" cy="163.6" r="0.9" fill="#2a2a2a" fill-opacity="0.6"/>
<circle cx="333.0" cy="130.8" r="0.4" fill="#2a2a2a" fill-opacity="0.45"/>
<circle cx="362.4" cy="145.2" r="0.7" fill="#2a2a2a" fill-opacity="0.45"/>
<circle cx="384.7" cy="142.7" r="0.9" fill="#2a2a2a" fill-opacity="0.45"/>
<circle cx="344.9" cy="126.5" r="0.4" fill="#2a2a2a" fill-opacity="0.6"/>
<circle cx="343.7" cy="153.6" r="0.7" fill="#2a2a2a" fill-opacity="0.45"/>
<circle cx="389.0" cy="138.5" r="0.35" fill="#2a2a2a" fill-opacity="0.3"/>
<circle cx="337.3" cy="193.6" r="0.9" fill="#2a2a2a" fill-opacity="0.45"/>
<circle cx="420.7" cy="127.3" r="0.6" fill="#2a2a2a" fill-opacity="0.45"/>
<circle cx="394.4" cy="147.9" r="0.5" fill="#2a2a2a" fill-opacity="0.45"/>
<circle cx="376.1" cy="182.9" r="0.6" fill="#2a2a2a" fill-opacity="0.45"/>
<circle cx="393.2" cy="170.7" r="0.6" fill="#2a2a2a" fill-opacity="0.45"/>
<circle cx="328.9" cy="127.1" r="0.7" fill="#2a2a2a" fill-opacity="0.45"/>
<circle cx="305.4" cy="153.0" r="0.4" fill="#2a2a2a" fill-opacity="0.45"/>
<circle cx="402.6" cy="161.2" r="0.7" fill="#2a2a2a" fill-opacity="0.45"/>
<circle cx="348.6" cy="115.8" r="0.6" fill="#2a2a2a" fill-opacity="0.45"/>
<circle cx="349.6" cy="118.3" r="0.5" fill="#2a2a2a" fill-opacity="0.6"/>
<circle cx="403.4" cy="180.1" r="0.35" fill="#2a2a2a" fill-opacity="0.3"/>
<circle cx="334.2" cy="162.4" r="0.5" fill="#2a2a2a" fill-opacity="0.45"/>
<circle cx="411.8" cy="117.5" r="0.7" fill="#2a2a2a" fill-opacity="0.6"/>
<circle cx="389.5" cy="191.4" r="0.4" fill="#2a2a2a" fill-opacity="0.6"/>
<circle cx="393.7" cy="119.4" r="0.6" fill="#2a2a2a" fill-opacity="0.45"/>
<circle cx="406.9" cy="144.4" r="0.6" fill="#2a2a2a" fill-opacity="0.45"/>
<circle cx="340.4" cy="171.8" r="0.4" fill="#2a2a2a" fill-opacity="0.6"/>
<circle cx="355.6" cy="116.6" r="0.5" fill="#2a2a2a" fill-opacity="0.3"/>
<circle cx="418.5" cy="114.9" r="0.35" fill="#2a2a2a" fill-opacity="0.6"/>
<circle cx="325.7" cy="112.6" r="0.6" fill="#2a2a2a" fill-opacity="0.3"/>
<circle cx="322.0" cy="140.6" r="0.9" fill="#2a2a2a" fill-opacity="0.3"/>
<circle cx="407.5" cy="196.5" r="0.4" fill="#2a2a2a" fill-opacity="0.6"/>
<circle cx="391.8" cy="173.8" r="0.35" fill="#2a2a2a" fill-opacity="0.6"/>
<circle cx="344.4" cy="134.5" r="0.9" fill="#2a2a2a" fill-opacity="0.6"/>
<circle cx="398.4" cy="128.6" r="0.5" fill="#2a2a2a" fill-opacity="0.6"/>
<circle cx="427.6" cy="173.2" r="0.7" fill="#2a2a2a" fill-opacity="0.45"/>
<circle cx="334.7" cy="140.9" r="0.7" fill="#2a2a2a" fill-opacity="0.3"/>
<circle cx="307.4" cy="195.9" r="0.35" fill="#2a2a2a" fill-opacity="0.3"/>
<circle cx="385.9" cy="126.5" r="0.35" fill="#2a2a2a" fill-opacity="0.45"/>
<circle cx="340.4" cy="139.2" r="0.5" fill="#2a2a2a" fill-opacity="0.6"/>
<circle cx="415.3" cy="167.3" r="0.7" fill="#2a2a2a" fill-opacity="0.6"/>
<circle cx="366.1" cy="143.8" r="0.6" fill="#2a2a2a" fill-opacity="0.3"/>
<circle cx="315.8" cy="156.3" r="0.5" fill="#2a2a2a" fill-opacity="0.45"/>
<circle cx="322.3" cy="148.4" r="0.7" fill="#2a2a2a" fill-opacity="0.3"/>
<circle cx="371.2" cy="172.2" r="0.4" fill="#2a2a2a" fill-opacity="0.3"/>
<circle cx="423.6" cy="160.8" r="0.6" fill="#2a2a2a" fill-opacity="0.45"/>
<circle cx="391.3" cy="160.8" r="0.6" fill="#2a2a2a" fill-opacity="0.45"/>
<circle cx="323.3" cy="185.9" r="0.35" fill="#2a2a2a" fill-opacity="0.45"/>
<circle cx="407.5" cy="145.6" r="0.5" fill="#2a2a2a" fill-opacity="0.3"/>
<circle cx="316.2" cy="117.0" r="0.6" fill="#2a2a2a" fill-opacity="0.45"/>
<circle cx="376.7" cy="125.9" r="0.7" fill="#2a2a2a" fill-opacity="0.3"/>
<circle cx="385.4" cy="167.2" r="0.4" fill="#2a2a2a" fill-opacity="0.3"/>
<circle cx="354.9" cy="110.5" r="0.6" fill="#2a2a2a" fill-opacity="0.3"/>
<circle cx="397.9" cy="126.8" r="0.9" fill="#2a2a2a" fill-opacity="0.45"/>
<circle cx="417.9" cy="173.0" r="0.9" fill="#2a2a2a" fill-opacity="0.3"/>
<circle cx="394.5" cy="162.6" r="0.35" fill="#2a2a2a" fill-opacity="0.6"/>
<circle cx="328.5" cy="140.5" r="0.4" fill="#2a2a2a" fill-opacity="0.6"/>
<circle cx="334.2" cy="112.9" r="0.4" fill="#2a2a2a" fill-opacity="0.6"/>
<circle cx="402.2" cy="149.3" r="0.35" fill="#2a2a2a" fill-opacity="0.45"/>
<circle cx="385.1" cy="166.1" r="0.6" fill="#2a2a2a" fill-opacity="0.45"/>
<circle cx="400.8" cy="151.2" r="0.4" fill="#2a2a2a" fill-opacity="0.3"/>
<circle cx="320.2" cy="148.5" r="0.6" fill="#2a2a2a" fill-opacity="0.3"/>
<circle cx="312.8" cy="194.7" r="0.4" fill="#2a2a2a" fill-opacity="0.6"/>
<circle cx="363.2" cy="177.6" r="0.9" fill="#2a2a2a" fill-opacity="0.45"/>
<circle cx="352.0" cy="121.3" r="0.35" fill="#2a2a2a" fill-opacity="0.3"/>
<circle cx="351.4" cy="109.9" r="0.35" fill="#2a2a2a" fill-opacity="0.3"/>
<circle cx="304.2" cy="178.1" r="0.4" fill="#2a2a2a" fill-opacity="0.6"/>
<circle cx="340.4" cy="150.4" r="0.5" fill="#2a2a2a" fill-opacity="0.45"/>
<circle cx="358.5" cy="165.7" r="0.4" fill="#2a2a2a" fill-opacity="0.3"/>
<circle cx="344.6" cy="118.2" r="0.7" fill="#2a2a2a" fill-opacity="0.3"/>
<circle cx="415.3" cy="140.3" r="0.7" fill="#2a2a2a" fill-opacity="0.6"/>
<circle cx="417.1" cy="176.5" r="0.7" fill="#2a2a2a" fill-opacity="0.6"/>
<circle cx="315.5" cy="166.8" r="0.9" fill="#2a2a2a" fill-opacity="0.3"/>
<circle cx="348.1" cy="114.1" r="0.6" fill="#2a2a2a" fill-opacity="0.6"/>
<circle cx="374.2" cy="114.6" r="0.4" fill="#2a2a2a" fill-opacity="0.3"/>
<circle cx="394.1" cy="128.9" r="0.9" fill="#2a2a2a" fill-opacity="0.6"/>
<circle cx="336.6" cy="132.0" r="0.4" fill="#2a2a2a" fill-opacity="0.3"/>
<circle cx="377.2" cy="156.0" r="0.4" fill="#2a2a2a" fill-opacity="0.3"/>
<circle cx="363.2" cy="142.7" r="0.7" fill="#2a2a2a" fill-opacity="0.6"/>
<circle cx="311.5" cy="136.0" r="0.35" fill="#2a2a2a" fill-opacity="0.3"/>
<circle cx="300.3" cy="161.4" r="0.35" fill="#2a2a2a" fill-opacity="0.6"/>
<circle cx="385.3" cy="164.6" r="0.7" fill="#2a2a2a" fill-opacity="0.3"/>
<circle cx="325.1" cy="132.4" r="0.7" fill="#2a2a2a" fill-opacity="0.45"/>
<circle cx="363.8" cy="152.1" r="0.35" fill="#2a2a2a" fill-opacity="0.6"/>
<circle cx="347.0" cy="141.2" r="0.7" fill="#2a2a2a" fill-opacity="0.6"/>
<circle cx="365.8" cy="171.5" r="0.9" fill="#2a2a2a" fill-opacity="0.6"/>
<circle cx="315.9" cy="127.3" r="0.9" fill="#2a2a2a" fill-opacity="0.3"/>
<circle cx="326.3" cy="144.3" r="0.4" fill="#2a2a2a" fill-opacity="0.6"/>
<circle cx="383.2" cy="116.8" r="0.35" fill="#2a2a2a" fill-opacity="0.6"/>
<circle cx="339.1" cy="133.7" r="0.6" fill="#2a2a2a" fill-opacity="0.3"/>
<circle cx="343.2" cy="143.5" r="0.7" fill="#2a2a2a" fill-opacity="0.45"/>
<circle cx="350.5" cy="139.6" r="0.4" fill="#2a2a2a" fill-opacity="0.3"/>
<circle cx="397.1" cy="168.5" r="0.5" fill="#2a2a2a" fill-opacity="0.45"/>
<circle cx="404.8" cy="192.3" r="0.5" fill="#2a2a2a" fill-opacity="0.3"/>
<circle cx="381.9" cy="153.9" r="0.35" fill="#2a2a2a" fill-opacity="0.6"/>
<circle cx="363.4" cy="149.4" r="0.6" fill="#2a2a2a" fill-opacity="0.6"/>
<circle cx="327.5" cy="142.2" r="0.9" fill="#2a2a2a" fill-opacity="0.3"/>
<circle cx="390.2" cy="111.7" r="0.9" fill="#2a2a2a" fill-opacity="0.3"/>
<circle cx="394.3" cy="122.7" r="0.35" fill="#2a2a2a" fill-opacity="0.3"/>
<circle cx="327.6" cy="133.2" r="0.5" fill="#2a2a2a" fill-opacity="0.6"/>
<circle cx="407.8" cy="111.5" r="0.6" fill="#2a2a2a" fill-opacity="0.3"/>
<circle cx="377.5" cy="171.4" r="0.9" fill="#2a2a2a" fill-opacity="0.6"/>
<circle cx="406.6" cy="197.1" r="0.5" fill="#2a2a2a" fill-opacity="0.45"/>
<circle cx="363.6" cy="147.8" r="0.7" fill="#2a2a2a" fill-opacity="0.3"/>
<circle cx="324.2" cy="190.9" r="0.5" fill="#2a2a2a" fill-opacity="0.45"/>
<circle cx="325.0" cy="139.4" r="0.35" fill="#2a2a2a" fill-opacity="0.6"/>
<circle cx="368.3" cy="161.4" r="0.5" fill="#2a2a2a" fill-opacity="0.45"/>
<circle cx="324.6" cy="128.9" r="0.7" fill="#2a2a2a" fill-opacity="0.3"/>
<circle cx="391.9" cy="148.8" r="0.7" fill="#2a2a2a" fill-opacity="0.3"/>
<circle cx="321.2" cy="117.5" r="0.6" fill="#2a2a2a" fill-opacity="0.6"/>
<circle cx="304.7" cy="127.8" r="0.5" fill="#2a2a2a" fill-opacity="0.3"/>
<circle cx="347.9" cy="116.4" r="0.35" fill="#2a2a2a" fill-opacity="0.3"/>
<circle cx="303.4" cy="121.8" r="0.4" fill="#2a2a2a" fill-opacity="0.6"/>
<circle cx="402.5" cy="144.0" r="0.6" fill="#2a2a2a" fill-opacity="0.3"/>
<circle cx="305.0" cy="185.7" r="0.9" fill="#2a2a2a" fill-opacity="0.45"/>
<circle cx="302.6" cy="118.1" r="0.9" fill="#2a2a2a" fill-opacity="0.6"/>
<circle cx="373.5" cy="163.8" r="0.35" fill="#2a2a2a" fill-opacity="0.6"/>
<circle cx="343.8" cy="162.4" r="0.9" fill="#2a2a2a" fill-opacity="0.3"/>
<circle cx="340.1" cy="150.2" r="0.35" fill="#2a2a2a" fill-opacity="0.3"/>
<circle cx="380.9" cy="154.2" r="0.5" fill="#2a2a2a" fill-opacity="0.45"/>
<circle cx="371.5" cy="168.0" r="0.5" fill="#2a2a2a" fill-opacity="0.45"/>
<circle cx="353.1" cy="173.5" r="0.35" fill="#2a2a2a" fill-opacity="0.45"/>
<circle cx="296.7" cy="182.4" r="0.4" fill="#2a2a2a" fill-opacity="0.3"/>
<circle cx="383.9" cy="133.6" r="0.35" fill="#2a2a2a" fill-opacity="0.3"/>
<circle cx="381.6" cy="160.1" r="0.9" fill="#2a2a2a" fill-opacity="0.6"/>
<circle cx="292.8" cy="126.1" r="0.4" fill="#2a2a2a" fill-opacity="0.3"/>
<circle cx="375.8" cy="165.9" r="0.35" fill="#2a2a2a" fill-opacity="0.45"/>
<circle cx="360.1" cy="168.7" r="0.7" fill="#2a2a2a" fill-opacity="0.3"/>
<circle cx="402.5" cy="164.6" r="0.5" fill="#2a2a2a" fill-opacity="0.3"/>
<circle cx="407.2" cy="140.2" r="0.7" fill="#2a2a2a" fill-opacity="0.6"/>
<circle cx="383.8" cy="183.9" r="0.9" fill="#2a2a2a" fill-opacity="0.45"/>
<circle cx="338.3" cy="168.9" r="0.9" fill="#2a2a2a" fill-opacity="0.3"/>
<circle cx="315.1" cy="176.4" r="0.35" fill="#2a2a2a" fill-opacity="0.3"/>
<circle cx="396.4" cy="184.6" r="0.4" fill="#2a2a2a" fill-opacity="0.6"/>
<circle cx="393.6" cy="136.0" r="0.35" fill="#2a2a2a" fill-opacity="0.3"/>
<circle cx="403.2" cy="173.6" r="0.5" fill="#2a2a2a" fill-opacity="0.3"/>
<circle cx="348.5" cy="192.8" r="0.6" fill="#2a2a2a" fill-opacity="0.3"/>
<circle cx="413.6" cy="182.2" r="0.6" fill="#2a2a2a" fill-opacity="0.3"/>
<circle cx="309.3" cy="176.4" r="0.4" fill="#2a2a2a" fill-opacity="0.3"/>
<circle cx="343.6" cy="159.0" r="0.4" fill="#2a2a2a" fill-opacity="0.3"/>
<circle cx="354.7" cy="191.7" r="0.4" fill="#2a2a2a" fill-opacity="0.45"/>
<circle cx="341.1" cy="148.7" r="0.4" fill="#2a2a2a" fill-opacity="0.45"/>
<circle cx="411.1" cy="194.3" r="0.6" fill="#2a2a2a" fill-opacity="0.3"/>
<circle cx="414.0" cy="167.2" r="0.35" fill="#2a2a2a" fill-opacity="0.3"/>
<circle cx="296.7" cy="147.6" r="0.5" fill="#2a2a2a" fill-opacity="0.3"/>
<circle cx="410.0" cy="177.5" r="0.6" fill="#2a2a2a" fill-opacity="0.45"/>
<circle cx="366.9" cy="134.8" r="0.6" fill="#2a2a2a" fill-opacity="0.6"/>
<circle cx="345.5" cy="175.3" r="0.9" fill="#2a2a2a" fill-opacity="0.45"/>
<circle cx="357.2" cy="131.8" r="0.7" fill="#2a2a2a" fill-opacity="0.3"/>
<circle cx="415.5" cy="166.0" r="0.9" fill="#2a2a2a" fill-opacity="0.6"/>
<circle cx="397.8" cy="167.9" r="0.4" fill="#2a2a2a" fill-opacity="0.6"/>
<circle cx="325.5" cy="179.8" r="0.5" fill="#2a2a2a" fill-opacity="0.6"/>
<circle cx="382.0" cy="166.7" r="0.9" fill="#2a2a2a" fill-opacity="0.3"/>
<circle cx="420.1" cy="157.2" r="0.9" fill="#2a2a2a" fill-opacity="0.3"/>
<circle cx="331.4" cy="195.4" r="0.4" fill="#2a2a2a" fill-opacity="0.45"/>
<circle cx="420.5" cy="144.6" r="0.9" fill="#2a2a2a" fill-opacity="0.3"/>
<circle cx="324.3" cy="151.3" r="0.7" fill="#2a2a2a" fill-opacity="0.6"/>
<circle cx="377.2" cy="128.2" r="0.6" fill="#2a2a2a" fill-opacity="0.3"/>
<circle cx="329.4" cy="195.4" r="0.5" fill="#2a2a2a" fill-opacity="0.3"/>
<circle cx="319.4" cy="171.3" r="0.9" fill="#2a2a2a" fill-opacity="0.6"/>
<circle cx="412.3" cy="158.3" r="0.4" fill="#2a2a2a" fill-opacity="0.3"/>
<circle cx="361.1" cy="152.7" r="0.7" fill="#2a2a2a" fill-opacity="0.45"/>
<circle cx="312.6" cy="128.2" r="0.7" fill="#2a2a2a" fill-opacity="0.6"/>
<circle cx="328.9" cy="171.4" r="0.7" fill="#2a2a2a" fill-opacity="0.3"/>
<circle cx="352.3" cy="189.8" r="0.4" fill="#2a2a2a" fill-opacity="0.6"/>
<circle cx="392.0" cy="176.9" r="0.35" fill="#2a2a2a" fill-opacity="0.3"/>
<circle cx="363.9" cy="174.8" r="0.7" fill="#2a2a2a" fill-opacity="0.45"/>
<circle cx="370.9" cy="126.9" r="0.7" fill="#2a2a2a" fill-opacity="0.6"/>
<circle cx="365.9" cy="173.4" r="0.9" fill="#2a2a2a" fill-opacity="0.45"/>
<circle cx="305.4" cy="147.6" r="0.35" fill="#2a2a2a" fill-opacity="0.3"/>
<circle cx="377.6" cy="145.6" r="0.4" fill="#2a2a2a" fill-opacity="0.3"/>
<circle cx="302.6" cy="174.3" r="0.5" fill="#2a2a2a" fill-opacity="0.6"/>
<circle cx="323.7" cy="118.2" r="0.35" fill="#2a2a2a" fill-opacity="0.45"/>
<circle cx="372.4" cy="180.0" r="0.7" fill="#2a2a2a" fill-opacity="0.6"/>
<circle cx="368.2" cy="166.6" r="0.5" fill="#2a2a2a" fill-opacity="0.6"/>
<circle cx="422.9" cy="166.0" r="0.6" fill="#2a2a2a" fill-opacity="0.45"/>
<circle cx="400.7" cy="145.8" r="0.35" fill="#2a2a2a" fill-opacity="0.6"/>
<circle cx="356.8" cy="168.5" r="0.35" fill="#2a2a2a" fill-opacity="0.45"/>
<circle cx="389.2" cy="166.4" r="0.4" fill="#2a2a2a" fill-opacity="0.45"/>
<circle cx="324.2" cy="147.2" r="0.4" fill="#2a2a2a" fill-opacity="0.6"/>
<circle cx="415.2" cy="129.6" r="0.9" fill="#2a2a2a" fill-opacity="0.6"/>
<circle cx="310.0" cy="193.9" r="0.5" fill="#2a2a2a" fill-opacity="0.3"/>
<circle cx="412.3" cy="119.0" r="0.7" fill="#2a2a2a" fill-opacity="0.3"/>
<circle cx="416.5" cy="120.6" r="0.9" fill="#2a2a2a" fill-opacity="0.3"/>
<circle cx="302.4" cy="160.7" r="0.5" fill="#2a2a2a" fill-opacity="0.6"/>
<circle cx="312.8" cy="144.6" r="0.6" fill="#2a2a2a" fill-opacity="0.45"/>
<circle cx="388.6" cy="189.7" r="0.35" fill="#2a2a2a" fill-opacity="0.6"/>
<circle cx="346.3" cy="134.4" r="0.5" fill="#2a2a2a" fill-opacity="0.3"/>
<circle cx="406.4" cy="165.9" r="0.9" fill="#2a2a2a" fill-opacity="0.3"/>
<circle cx="319.3" cy="176.9" r="0.5" fill="#2a2a2a" fill-opacity="0.6"/>
<circle cx="374.4" cy="184.3" r="0.7" fill="#2a2a2a" fill-opacity="0.3"/>
<circle cx="363.6" cy="159.2" r="0.7" fill="#2a2a2a" fill-opacity="0.45"/>
<circle cx="354.1" cy="125.2" r="0.35" fill="#2a2a2a" fill-opacity="0.3"/>
<circle cx="372.5" cy="140.4" r="0.4" fill="#2a2a2a" fill-opacity="0.3"/>
<circle cx="376.1" cy="172.9" r="0.9" fill="#2a2a2a" fill-opacity="0.3"/>
<circle cx="387.0" cy="155.4" r="0.35" fill="#2a2a2a" fill-opacity="0.3"/>
<circle cx="389.7" cy="179.2" r="0.7" fill="#2a2a2a" fill-opacity="0.45"/>
<circle cx="336.7" cy="186.8" r="0.6" fill="#2a2a2a" fill-opacity="0.45"/>
<circle cx="328.5" cy="132.5" r="0.35" fill="#2a2a2a" fill-opacity="0.6"/>
<circle cx="310.5" cy="185.9" r="0.5" fill="#2a2a2a" fill-opacity="0.45"/>
<circle cx="330.9" cy="153.1" r="0.7" fill="#2a2a2a" fill-opacity="0.6"/>
<circle cx="406.8" cy="146.5" r="0.5" fill="#2a2a2a" fill-opacity="0.6"/>
<circle cx="407.0" cy="156.5" r="0.35" fill="#2a2a2a" fill-opacity="0.45"/>
<circle cx="420.1" cy="179.7" r="0.4" fill="#2a2a2a" fill-opacity="0.6"/>
<circle cx="302.7" cy="165.2" r="0.4" fill="#2a2a2a" fill-opacity="0.6"/>
<circle cx="427.0" cy="182.4" r="0.7" fill="#2a2a2a" fill-opacity="0.45"/>
<circle cx="383.5" cy="171.1" r="0.7" fill="#2a2a2a" fill-opacity="0.3"/>
<circle cx="420.2" cy="185.0" r="0.4" fill="#2a2a2a" fill-opacity="0.45"/>
<circle cx="295.1" cy="152.9" r="0.5" fill="#2a2a2a" fill-opacity="0.6"/>
<circle cx="397.1" cy="162.3" r="0.35" fill="#2a2a2a" fill-opacity="0.3"/>
<circle cx="323.6" cy="151.3" r="0.9" fill="#2a2a2a" fill-opacity="0.6"/>
<circle cx="326.8" cy="159.9" r="0.4" fill="#2a2a2a" fill-opacity="0.3"/>
<circle cx="415.0" cy="120.6" r="0.35" fill="#2a2a2a" fill-opacity="0.3"/>
<circle cx="312.9" cy="160.8" r="0.9" fill="#2a2a2a" fill-opacity="0.6"/>
<circle cx="402.2" cy="144.1" r="0.7" fill="#2a2a2a" fill-opacity="0.6"/>
<circle cx="335.5" cy="135.0" r="0.5" fill="#2a2a2a" fill-opacity="0.6"/>
<circle cx="363.5" cy="175.3" r="0.9" fill="#2a2a2a" fill-opacity="0.3"/>
<circle cx="325.9" cy="158.9" r="0.35" fill="#2a2a2a" fill-opacity="0.6"/>
<circle cx="386.0" cy="151.2" r="0.5" fill="#2a2a2a" fill-opacity="0.3"/>
<circle cx="376.8" cy="161.7" r="0.6" fill="#2a2a2a" fill-opacity="0.45"/>
<circle cx="319.7" cy="156.1" r="0.9" fill="#2a2a2a" fill-opacity="0.6"/>
<circle cx="369.0" cy="184.0" r="0.6" fill="#2a2a2a" fill-opacity="0.6"/>
<circle cx="365.4" cy="178.1" r="0.9" fill="#2a2a2a" fill-opacity="0.45"/>
<circle cx="342.0" cy="141.9" r="0.6" fill="#2a2a2a" fill-opacity="0.3"/>
<circle cx="332.2" cy="131.5" r="0.35" fill="#2a2a2a" fill-opacity="0.6"/>
<circle cx="402.3" cy="182.2" r="0.7" fill="#2a2a2a" fill-opacity="0.3"/>
<circle cx="354.4" cy="166.1" r="0.9" fill="#2a2a2a" fill-opacity="0.45"/>
<circle cx="339.6" cy="159.1" r="0.6" fill="#2a2a2a" fill-opacity="0.6"/>
<circle cx="299.5" cy="134.5" r="0.9" fill="#2a2a2a" fill-opacity="0.3"/>
<circle cx="335.6" cy="181.5" r="0.7" fill="#2a2a2a" fill-opacity="0.45"/>
<circle cx="376.9" cy="172.5" r="0.6" fill="#2a2a2a" fill-opacity="0.6"/>
<circle cx="346.1" cy="168.8" r="0.4" fill="#2a2a2a" fill-opacity="0.45"/>
<circle cx="387.1" cy="150.2" r="0.5" fill="#2a2a2a" fill-opacity="0.6"/>
<circle cx="345.2" cy="129.1" r="0.4" fill="#2a2a2a" fill-opacity="0.6"/>
<circle cx="346.1" cy="126.9" r="0.4" fill="#2a2a2a" fill-opacity="0.6"/>
<circle cx="307.1" cy="181.1" r="0.5" fill="#2a2a2a" fill-opacity="0.3"/>
<circle cx="424.4" cy="160.7" r="0.9" fill="#2a2a2a" fill-opacity="0.3"/>
<circle cx="335.2" cy="173.6" r="0.5" fill="#2a2a2a" fill-opacity="0.6"/>
<circle cx="382.1" cy="187.6" r="0.35" fill="#2a2a2a" fill-opacity="0.3"/>
<circle cx="353.7" cy="151.0" r="0.5" fill="#2a2a2a" fill-opacity="0.6"/>
<circle cx="375.1" cy="155.7" r="0.5" fill="#2a2a2a" fill-opacity="0.3"/>
<circle cx="328.8" cy="141.4" r="0.5" fill="#2a2a2a" fill-opacity="0.6"/>
<circle cx="329.0" cy="181.0" r="0.35" fill="#2a2a2a" fill-opacity="0.3"/>
<circle cx="395.6" cy="177.2" r="0.7" fill="#2a2a2a" fill-opacity="0.3"/>
<circle cx="299.6" cy="187.8" r="0.4" fill="#2a2a2a" fill-opacity="0.3"/>
<circle cx="376.6" cy="128.2" r="0.9" fill="#2a2a2a" fill-opacity="0.45"/>
<circle cx="310.7" cy="156.8" r="0.5" fill="#2a2a2a" fill-opacity="0.6"/>
<circle cx="382.0" cy="123.7" r="0.4" fill="#2a2a2a" fill-opacity="0.45"/>
<circle cx="382.0" cy="139.9" r="0.9" fill="#2a2a2a" fill-opacity="0.6"/>
<circle cx="400.7" cy="183.7" r="0.6" fill="#2a2a2a" fill-opacity="0.45"/>
<circle cx="301.6" cy="160.7" r="0.9" fill="#2a2a2a" fill-opacity="0.3"/>
<circle cx="354.1" cy="119.9" r="0.35" fill="#2a2a2a" fill-opacity="0.3"/>
<circle cx="415.6" cy="111.3" r="0.5" fill="#2a2a2a" fill-opacity="0.3"/>
<circle cx="313.2" cy="125.6" r="0.35" fill="#2a2a2a" fill-opacity="0.3"/>
<circle cx="409.8" cy="114.1" r="0.5" fill="#2a2a2a" fill-opacity="0.45"/>
<circle cx="405.2" cy="144.6" r="0.9" fill="#2a2a2a" fill-opacity="0.6"/>
<circle cx="392.5" cy="136.6" r="0.5" fill="#2a2a2a" fill-opacity="0.6"/>
<circle cx="423.4" cy="128.6" r="0.7" fill="#2a2a2a" fill-opacity="0.3"/>
<circle cx="304.9" cy="157.0" r="0.9" fill="#2a2a2a" fill-opacity="0.3"/>
<circle cx="374.0" cy="185.9" r="0.5" fill="#2a2a2a" fill-opacity="0.6"/>
<circle cx="351.4" cy="136.0" r="0.7" fill="#2a2a2a" fill-opacity="0.3"/>
<circle cx="292.7" cy="164.4" r="0.35" fill="#2a2a2a" fill-opacity="0.6"/>
<circle cx="317.6" cy="134.8" r="0.7" fill="#2a2a2a" fill-opacity="0.6"/>
<circle cx="336.9" cy="173.1" r="0.9" fill="#2a2a2a" fill-opacity="0.6"/>
<circle cx="372.8" cy="129.6" r="0.9" fill="#2a2a2a" fill-opacity="0.45"/>
<circle cx="402.7" cy="195.7" r="0.35" fill="#2a2a2a" fill-opacity="0.45"/>
<circle cx="374.3" cy="182.1" r="0.5" fill="#2a2a2a" fill-opacity="0.6"/>
<circle cx="356.8" cy="130.5" r="0.7" fill="#2a2a2a" fill-opacity="0.6"/>
<circle cx="374.9" cy="142.5" r="0.7" fill="#2a2a2a" fill-opacity="0.3"/>
<circle cx="367.7" cy="176.3" r="0.7" fill="#2a2a2a" fill-opacity="0.45"/>
<circle cx="377.9" cy="157.3" r="0.7" fill="#2a2a2a" fill-opacity="0.3"/>
<circle cx="389.9" cy="172.1" r="0.4" fill="#2a2a2a" fill-opacity="0.6"/>
<circle cx="330.3" cy="158.1" r="0.4" fill="#2a2a2a" fill-opacity="0.3"/>
<circle cx="393.8" cy="184.7" r="0.35" fill="#2a2a2a" fill-opacity="0.45"/>
<circle cx="414.6" cy="194.3" r="0.7" fill="#2a2a2a" fill-opacity="0.45"/>
<circle cx="364.5" cy="178.0" r="0.9" fill="#2a2a2a" fill-opacity="0.45"/>
<circle cx="401.9" cy="189.0" r="0.4" fill="#2a2a2a" fill-opacity="0.6"/>
<circle cx="374.4" cy="109.9" r="0.4" fill="#2a2a2a" fill-opacity="0.6"/>
<circle cx="377.8" cy="130.0" r="0.4" fill="#2a2a2a" fill-opacity="0.3"/>
<circle cx="307.5" cy="150.0" r="0.7" fill="#2a2a2a" fill-opacity="0.6"/>
<circle cx="350.3" cy="154.3" r="0.6" fill="#2a2a2a" fill-opacity="0.3"/>
<circle cx="339.2" cy="158.6" r="0.35" fill="#2a2a2a" fill-opacity="0.6"/>
<circle cx="347.5" cy="135.6" r="0.6" fill="#2a2a2a" fill-opacity="0.3"/>
<circle cx="338.3" cy="176.9" r="0.4" fill="#2a2a2a" fill-opacity="0.3"/>
<circle cx="341.1" cy="147.6" r="0.5" fill="#2a2a2a" fill-opacity="0.3"/>
<circle cx="321.9" cy="124.3" r="0.4" fill="#2a2a2a" fill-opacity="0.3"/>
<circle cx="337.1" cy="143.5" r="0.5" fill="#2a2a2a" fill-opacity="0.3"/>
<circle cx="397.3" cy="161.5" r="0.6" fill="#2a2a2a" fill-opacity="0.45"/>
<circle cx="325.4" cy="157.5" r="0.7" fill="#2a2a2a" fill-opacity="0.6"/>
<circle cx="380.8" cy="170.4" r="0.35" fill="#2a2a2a" fill-opacity="0.45"/>
<circle cx="347.5" cy="140.4" r="0.6" fill="#2a2a2a" fill-opacity="0.45"/>
<circle cx="311.2" cy="197.0" r="0.6" fill="#2a2a2a" fill-opacity="0.6"/>
<circle cx="370.5" cy="109.6" r="0.9" fill="#2a2a2a" fill-opacity="0.45"/>
<circle cx="314.2" cy="193.1" r="0.9" fill="#2a2a2a" fill-opacity="0.45"/>
<circle cx="313.8" cy="166.8" r="0.9" fill="#2a2a2a" fill-opacity="0.6"/>
<circle cx="377.9" cy="169.1" r="0.6" fill="#2a2a2a" fill-opacity="0.45"/>
<circle cx="338.9" cy="192.7" r="0.7" fill="#2a2a2a" fill-opacity="0.6"/>
<circle cx="332.6" cy="166.3" r="0.35" fill="#2a2a2a" fill-opacity="0.3"/>
<circle cx="296.1" cy="137.6" r="0.6" fill="#2a2a2a" fill-opacity="0.45"/>
<circle cx="309.4" cy="154.2" r="0.35" fill="#2a2a2a" fill-opacity="0.45"/>
<circle cx="336.8" cy="192.1" r="0.35" fill="#2a2a2a" fill-opacity="0.45"/>
<circle cx="369.6" cy="184.9" r="0.35" fill="#2a2a2a" fill-opacity="0.45"/>
<circle cx="366.9" cy="140.7" r="0.9" fill="#2a2a2a" fill-opacity="0.6"/>
<circle cx="331.7" cy="152.9" r="0.9" fill="#2a2a2a" fill-opacity="0.45"/>
<circle cx="395.7" cy="156.5" r="0.35" fill="#2a2a2a" fill-opacity="0.6"/>
<circle cx="371.1" cy="134.4" r="0.4" fill="#2a2a2a" fill-opacity="0.3"/>
<circle cx="400.2" cy="163.2" r="0.9" fill="#2a2a2a" fill-opacity="0.6"/>
<circle cx="382.1" cy="143.9" r="0.4" fill="#2a2a2a" fill-opacity="0.6"/>
<circle cx="397.8" cy="122.2" r="0.4" fill="#2a2a2a" fill-opacity="0.3"/>
<circle cx="345.1" cy="117.3" r="0.9" fill="#2a2a2a" fill-opacity="0.3"/>
<circle cx="297.7" cy="114.0" r="0.35" fill="#2a2a2a" fill-opacity="0.3"/>
<circle cx="378.4" cy="119.0" r="0.4" fill="#2a2a2a" fill-opacity="0.3"/>
<circle cx="391.8" cy="197.6" r="0.9" fill="#2a2a2a" fill-opacity="0.3"/>
<circle cx="351.7" cy="143.6" r="0.5" fill="#2a2a2a" fill-opacity="0.45"/>
<circle cx="428.1" cy="171.5" r="0.4" fill="#2a2a2a" fill-opacity="0.3"/>
<circle cx="373.9" cy="171.8" r="0.5" fill="#2a2a2a" fill-opacity="0.6"/>
<circle cx="359.1" cy="140.9" r="0.7" fill="#2a2a2a" fill-opacity="0.6"/>
<circle cx="354.7" cy="144.9" r="0.6" fill="#2a2a2a" fill-opacity="0.6"/>
<circle cx="354.1" cy="187.1" r="0.7" fill="#2a2a2a" fill-opacity="0.6"/>
<circle cx="332.5" cy="183.9" r="0.4" fill="#2a2a2a" fill-opacity="0.3"/>
<circle cx="420.2" cy="130.0" r="0.4" fill="#2a2a2a" fill-opacity="0.45"/>
<circle cx="384.7" cy="184.5" r="0.9" fill="#2a2a2a" fill-opacity="0.6"/>
<circle cx="399.6" cy="154.6" r="0.35" fill="#2a2a2a" fill-opacity="0.45"/>
<circle cx="370.2" cy="173.5" r="0.6" fill="#2a2a2a" fill-opacity="0.45"/>
<circle cx="419.1" cy="163.5" r="0.5" fill="#2a2a2a" fill-opacity="0.45"/>
<circle cx="321.3" cy="167.8" r="0.7" fill="#2a2a2a" fill-opacity="0.3"/>
<circle cx="335.9" cy="176.1" r="0.5" fill="#2a2a2a" fill-opacity="0.6"/>
<circle cx="324.1" cy="193.1" r="0.7" fill="#2a2a2a" fill-opacity="0.45"/>
<circle cx="427.3" cy="152.6" r="0.35" fill="#2a2a2a" fill-opacity="0.3"/>
<circle cx="340.5" cy="159.8" r="0.6" fill="#2a2a2a" fill-opacity="0.45"/>
<circle cx="311.9" cy="133.8" r="0.35" fill="#2a2a2a" fill-opacity="0.3"/>
<circle cx="336.1" cy="143.2" r="0.6" fill="#2a2a2a" fill-opacity="0.45"/>
<circle cx="413.2" cy="119.2" r="0.6" fill="#2a2a2a" fill-opacity="0.45"/>
<circle cx="303.6" cy="148.8" r="0.5" fill="#2a2a2a" fill-opacity="0.3"/>
<circle cx="333.3" cy="114.8" r="0.5" fill="#2a2a2a" fill-opacity="0.45"/>
<circle cx="368.0" cy="129.6" r="0.7" fill="#2a2a2a" fill-opacity="0.6"/>
<circle cx="417.6" cy="152.8" r="0.7" fill="#2a2a2a" fill-opacity="0.6"/>
<circle cx="354.7" cy="185.5" r="0.6" fill="#2a2a2a" fill-opacity="0.6"/>
<circle cx="418.7" cy="140.8" r="0.35" fill="#2a2a2a" fill-opacity="0.3"/>
<circle cx="360.5" cy="133.4" r="0.9" fill="#2a2a2a" fill-opacity="0.45"/>
<circle cx="366.2" cy="174.6" r="0.4" fill="#2a2a2a" fill-opacity="0.45"/>
<circle cx="326.4" cy="127.1" r="0.4" fill="#2a2a2a" fill-opacity="0.45"/>
<circle cx="366.2" cy="144.8" r="0.6" fill="#2a2a2a" fill-opacity="0.3"/>
<circle cx="414.2" cy="112.0" r="0.6" fill="#2a2a2a" fill-opacity="0.6"/>
<circle cx="391.9" cy="139.4" r="0.7" fill="#2a2a2a" fill-opacity="0.3"/>
<circle cx="395.8" cy="166.2" r="0.7" fill="#2a2a2a" fill-opacity="0.45"/>
<circle cx="344.0" cy="171.5" r="0.4" fill="#2a2a2a" fill-opacity="0.45"/>
<circle cx="384.7" cy="133.5" r="0.5" fill="#2a2a2a" fill-opacity="0.3"/>
<circle cx="376.0" cy="195.0" r="0.35" fill="#2a2a2a" fill-opacity="0.6"/>
<circle cx="304.6" cy="186.7" r="0.6" fill="#2a2a2a" fill-opacity="0.3"/>
<circle cx="402.3" cy="169.4" r="0.9" fill="#2a2a2a" fill-opacity="0.45"/>
<circle cx="367.4" cy="192.8" r="0.7" fill="#2a2a2a" fill-opacity="0.3"/>
<circle cx="388.9" cy="143.5" r="0.9" fill="#2a2a2a" fill-opacity="0.3"/>
<circle cx="308.8" cy="141.2" r="0.4" fill="#2a2a2a" fill-opacity="0.3"/>
<circle cx="409.6" cy="129.5" r="0.5" fill="#2a2a2a" fill-opacity="0.6"/>
<circle cx="314.4" cy="186.7" r="0.7" fill="#2a2a2a" fill-opacity="0.45"/>
<circle cx="342.6" cy="194.0" r="0.4" fill="#2a2a2a" fill-opacity="0.45"/>
<circle cx="345.0" cy="157.5" r="0.5" fill="#2a2a2a" fill-opacity="0.3"/>
<circle cx="335.9" cy="189.2" r="0.5" fill="#2a2a2a" fill-opacity="0.45"/>
<circle cx="313.0" cy="120.0" r="0.9" fill="#2a2a2a" fill-opacity="0.6"/>
<circle cx="378.9" cy="157.1" r="0.9" fill="#2a2a2a" fill-opacity="0.6"/>
<circle cx="376.5" cy="173.8" r="0.4" fill="#2a2a2a" fill-opacity="0.45"/>
<circle cx="389.2" cy="161.0" r="0.6" fill="#2a2a2a" fill-opacity="0.3"/>
<circle cx="365.8" cy="166.5" r="0.7" fill="#2a2a2a" fill-opacity="0.6"/>
<circle cx="324.8" cy="118.8" r="0.5" fill="#2a2a2a" fill-opacity="0.3"/>
<circle cx="389.7" cy="109.2" r="0.35" fill="#2a2a2a" fill-opacity="0.45"/>
<circle cx="398.0" cy="168.4" r="0.7" fill="#2a2a2a" fill-opacity="0.6"/>
<circle cx="416.5" cy="155.4" r="0.9" fill="#2a2a2a" fill-opacity="0.6"/>
<circle cx="327.3" cy="148.7" r="0.7" fill="#2a2a2a" fill-opacity="0.3"/>
<circle cx="323.1" cy="127.7" r="0.35" fill="#2a2a2a" fill-opacity="0.45"/>
<circle cx="422.9" cy="168.8" r="0.6" fill="#2a2a2a" fill-opacity="0.45"/>
<circle cx="373.2" cy="152.9" r="0.7" fill="#2a2a2a" fill-opacity="0.6"/>
<circle cx="386.6" cy="151.3" r="0.9" fill="#2a2a2a" fill-opacity="0.45"/>
<circle cx="303.9" cy="149.9" r="0.9" fill="#2a2a2a" fill-opacity="0.3"/>
<circle cx="427.9" cy="164.2" r="0.9" fill="#2a2a2a" fill-opacity="0.45"/>
<circle cx="367.6" cy="140.8" r="0.5" fill="#2a2a2a" fill-opacity="0.45"/>
<circle cx="329.7" cy="147.6" r="0.4" fill="#2a2a2a" fill-opacity="0.3"/>
<circle cx="309.5" cy="136.4" r="0.7" fill="#2a2a2a" fill-opacity="0.6"/>
<circle cx="412.7" cy="177.0" r="0.6" fill="#2a2a2a" fill-opacity="0.6"/>
<circle cx="324.7" cy="121.4" r="0.35" fill="#2a2a2a" fill-opacity="0.3"/>
<circle cx="400.8" cy="132.8" r="0.35" fill="#2a2a2a" fill-opacity="0.45"/>
<circle cx="312.2" cy="133.3" r="0.6" fill="#2a2a2a" fill-opacity="0.3"/>
<circle cx="406.3" cy="149.1" r="0.7" fill="#2a2a2a" fill-opacity="0.3"/>
<circle cx="425.8" cy="130.9" r="0.4" fill="#2a2a2a" fill-opacity="0.3"/>
<circle cx="380.9" cy="159.5" r="0.5" fill="#2a2a2a" fill-opacity="0.3"/>
<circle cx="349.1" cy="165.5" r="0.5" fill="#2a2a2a" fill-opacity="0.3"/>
<circle cx="325.8" cy="122.7" r="0.5" fill="#2a2a2a" fill-opacity="0.45"/>
<circle cx="388.8" cy="147.0" r="0.4" fill="#2a2a2a" fill-opacity="0.6"/>
<circle cx="387.1" cy="158.4" r="0.9" fill="#2a2a2a" fill-opacity="0.6"/>
<circle cx="400.2" cy="134.2" r="0.35" fill="#2a2a2a" fill-opacity="0.45"/>
<circle cx="423.2" cy="166.1" r="0.9" fill="#2a2a2a" fill-opacity="0.6"/>
<circle cx="380.5" cy="187.1" r="0.4" fill="#2a2a2a" fill-opacity="0.6"/>
<circle cx="371.2" cy="180.0" r="0.6" fill="#2a2a2a" fill-opacity="0.3"/>
<circle cx="364.4" cy="193.2" r="0.9" fill="#2a2a2a" fill-opacity="0.3"/>
<circle cx="347.6" cy="139.3" r="0.6" fill="#2a2a2a" fill-opacity="0.3"/>
<circle cx="317.3" cy="146.7" r="0.5" fill="#2a2a2a" fill-opacity="0.45"/>
<circle cx="337.5" cy="112.4" r="0.6" fill="#2a2a2a" fill-opacity="0.6"/>
<circle cx="372.1" cy="142.1" r="0.35" fill="#2a2a2a" fill-opacity="0.3"/>
<circle cx="393.7" cy="161.4" r="0.5" fill="#2a2a2a" fill-opacity="0.6"/>
<circle cx="412.2" cy="178.0" r="0.6" fill="#2a2a2a" fill-opacity="0.45"/>
<circle cx="360.1" cy="180.7" r="0.5" fill="#2a2a2a" fill-opacity="0.3"/>
<circle cx="357.0" cy="121.5" r="0.6" fill="#2a2a2a" fill-opacity="0.45"/>
<circle cx="418.0" cy="192.1" r="0.9" fill="#2a2a2a" fill-opacity="0.3"/>
<circle cx="298.7" cy="172.4" r="0.35" fill="#2a2a2a" fill-opacity="0.3"/>
<circle cx="373.4" cy="128.3" r="0.4" fill="#2a2a2a" fill-opacity="0.6"/>
<circle cx="401.1" cy="144.3" r="0.4" fill="#2a2a2a" fill-opacity="0.6"/>
<circle cx="387.2" cy="121.4" r="0.5" fill="#2a2a2a" fill-opacity="0.3"/>
<circle cx="418.0" cy="148.1" r="0.35" fill="#2a2a2a" fill-opacity="0.3"/>
<circle cx="410.4" cy="165.4" r="0.4" fill="#2a2a2a" fill-opacity="0.6"/>
<circle cx="420.1" cy="112.6" r="0.35" fill="#2a2a2a" fill-opacity="0.45"/>
<circle cx="392.6" cy="167.0" r="0.4" fill="#2a2a2a" fill-opacity="0.3"/>
<circle cx="376.6" cy="142.7" r="0.5" fill="#2a2a2a" fill-opacity="0.6"/>
<circle cx="399.6" cy="185.6" r="0.7" fill="#2a2a2a" fill-opacity="0.45"/>
<circle cx="421.7" cy="159.1" r="0.4" fill="#2a2a2a" fill-opacity="0.45"/>
<circle cx="299.1" cy="148.5" r="0.5" fill="#2a2a2a" fill-opacity="0.3"/>
<circle cx="315.4" cy="183.6" r="0.7" fill="#2a2a2a" fill-opacity="0.3"/>
<circle cx="302.7" cy="117.6" r="0.4" fill="#2a2a2a" fill-opacity="0.6"/>
<circle cx="417.3" cy="158.6" r="0.7" fill="#2a2a2a" fill-opacity="0.3"/>
<circle cx="403.9" cy="161.3" r="0.35" fill="#2a2a2a" fill-opacity="0.6"/>
<circle cx="363.0" cy="131.1" r="0.7" fill="#2a2a2a" fill-opacity="0.6"/>
<circle cx="329.0" cy="174.1" r="0.6" fill="#2a2a2a" fill-opacity="0.6"/>
<circle cx="401.4" cy="158.8" r="0.5" fill="#2a2a2a" fill-opacity="0.6"/>
<circle cx="410.0" cy="171.8" r="0.6" fill="#2a2a2a" fill-opacity="0.45"/>
<circle cx="404.4" cy="170.7" r="0.9" fill="#2a2a2a" fill-opacity="0.3"/>
<circle cx="351.4" cy="174.1" r="0.5" fill="#2a2a2a" fill-opacity="0.6"/>
<circle cx="354.0" cy="158.2" r="0.7" fill="#2a2a2a" fill-opacity="0.3"/>
<circle cx="330.4" cy="184.0" r="0.6" fill="#2a2a2a" fill-opacity="0.6"/>
<circle cx="424.2" cy="180.3" r="0.4" fill="#2a2a2a" fill-opacity="0.45"/>
<circle cx="347.2" cy="167.9" r="0.9" fill="#2a2a2a" fill-opacity="0.6"/>
<circle cx="370.4" cy="168.5" r="0.4" fill="#2a2a2a" fill-opacity="0.45"/>
<circle cx="373.4" cy="146.9" r="0.4" fill="#2a2a2a" fill-opacity="0.45"/>
<circle cx="352.4" cy="146.3" r="0.5" fill="#2a2a2a" fill-opacity="0.3"/>
<circle cx="394.5" cy="149.6" r="0.4" fill="#2a2a2a" fill-opacity="0.45"/>
<circle cx="408.7" cy="138.4" r="0.4" fill="#2a2a2a" fill-opacity="0.3"/>
<circle cx="329.0" cy="163.6" r="0.5" fill="#2a2a2a" fill-opacity="0.6"/>
<circle cx="352.4" cy="144.2" r="0.7" fill="#2a2a2a" fill-opacity="0.45"/>
<circle cx="414.3" cy="150.4" r="0.4" fill="#2a2a2a" fill-opacity="0.45"/>
<circle cx="308.0" cy="137.4" r="0.4" fill="#2a2a2a" fill-opacity="0.6"/>
<circle cx="320.7" cy="160.3" r="0.7" fill="#2a2a2a" fill-opacity="0.6"/>
<circle cx="363.5" cy="169.4" r="0.9" fill="#2a2a2a" fill-opacity="0.3"/>
<circle cx="370.8" cy="137.5" r="0.35" fill="#2a2a2a" fill-opacity="0.6"/>
<circle cx="374.5" cy="154.2" r="0.35" fill="#2a2a2a" fill-opacity="0.3"/>
<circle cx="371.4" cy="183.2" r="0.6" fill="#2a2a2a" fill-opacity="0.45"/>
<circle cx="399.3" cy="155.8" r="0.5" fill="#2a2a2a" fill-opacity="0.45"/>
<circle cx="325.7" cy="161.0" r="0.6" fill="#2a2a2a" fill-opacity="0.6"/>
<circle cx="403.0" cy="132.8" r="0.9" fill="#2a2a2a" fill-opacity="0.45"/>
<circle cx="351.9" cy="154.5" r="0.9" fill="#2a2a2a" fill-opacity="0.45"/>
<circle cx="316.4" cy="162.1" r="0.6" fill="#2a2a2a" fill-opacity="0.6"/>
<circle cx="391.3" cy="147.6" r="0.35" fill="#2a2a2a" fill-opacity="0.45"/>
<circle cx="420.5" cy="186.8" r="0.5" fill="#2a2a2a" fill-opacity="0.45"/>
<circle cx="417.9" cy="113.7" r="0.35" fill="#2a2a2a" fill-opacity="0.3"/>
<circle cx="389.1" cy="140.5" r="0.35" fill="#2a2a2a" fill-opacity="0.45"/>
<circle cx="310.3" cy="174.3" r="0.9" fill="#2a2a2a" fill-opacity="0.45"/>
<circle cx="315.6" cy="154.2" r="0.6" fill="#2a2a2a" fill-opacity="0.3"/>
<circle cx="321.1" cy="186.8" r="0.5" fill="#2a2a2a" fill-opacity="0.45"/>
<circle cx="305.3" cy="126.0" r="0.5" fill="#2a2a2a" fill-opacity="0.45"/>
<circle cx="390.2" cy="183.7" r="0.5" fill="#2a2a2a" fill-opacity="0.6"/>
<circle cx="311.2" cy="168.7" r="0.35" fill="#2a2a2a" fill-opacity="0.45"/>
<circle cx="366.8" cy="159.8" r="0.5" fill="#2a2a2a" fill-opacity="0.3"/>
<circle cx="334.5" cy="165.5" r="0.9" fill="#2a2a2a" fill-opacity="0.3"/>
<circle cx="330.7" cy="120.0" r="0.6" fill="#2a2a2a" fill-opacity="0.45"/>
<circle cx="354.8" cy="182.7" r="0.5" fill="#2a2a2a" fill-opacity="0.6"/>
<circle cx="409.6" cy="165.7" r="0.5" fill="#2a2a2a" fill-opacity="0.6"/>
<circle cx="347.7" cy="159.4" r="0.7" fill="#2a2a2a" fill-opacity="0.45"/>
<circle cx="381.8" cy="111.1" r="0.35" fill="#2a2a2a" fill-opacity="0.6"/>
<circle cx="376.5" cy="173.6" r="0.9" fill="#2a2a2a" fill-opacity="0.6"/>
<circle cx="409.4" cy="190.4" r="0.4" fill="#2a2a2a" fill-opacity="0.6"/>
<circle cx="313.9" cy="151.4" r="0.7" fill="#2a2a2a" fill-opacity="0.6"/>
<circle cx="402.0" cy="183.8" r="0.7" fill="#2a2a2a" fill-opacity="0.3"/>
<circle cx="391.4" cy="176.2" r="0.9" fill="#2a2a2a" fill-opacity="0.3"/>
<circle cx="398.8" cy="159.6" r="0.4" fill="#2a2a2a" fill-opacity="0.6"/>
<circle cx="369.7" cy="175.7" r="0.5" fill="#2a2a2a" fill-opacity="0.45"/>
<circle cx="404.6" cy="166.8" r="0.35" fill="#2a2a2a" fill-opacity="0.3"/>
<circle cx="350.0" cy="147.3" r="0.9" fill="#2a2a2a" fill-opacity="0.6"/>
<circle cx="354.8" cy="125.5" r="0.35" fill="#2a2a2a" fill-opacity="0.3"/>
<circle cx="295.7" cy="163.8" r="0.4" fill="#2a2a2a" fill-opacity="0.45"/>
<circle cx="354.4" cy="130.1" r="0.4" fill="#2a2a2a" fill-opacity="0.3"/>
<circle cx="374.7" cy="120.7" r="0.5" fill="#2a2a2a" fill-opacity="0.3"/>
<circle cx="370.3" cy="149.2" r="0.9" fill="#2a2a2a" fill-opacity="0.3"/>
<circle cx="384.0" cy="135.6" r="0.9" fill="#2a2a2a" fill-opacity="0.3"/>
<circle cx="352.5" cy="179.5" r="0.5" fill="#2a2a2a" fill-opacity="0.6"/>
<circle cx="392.3" cy="129.2" r="0.35" fill="#2a2a2a" fill-opacity="0.6"/>
<circle cx="410.0" cy="121.7" r="0.9" fill="#2a2a2a" fill-opacity="0.6"/>
<circle cx="354.6" cy="126.4" r="0.4" fill="#2a2a2a" fill-opacity="0.45"/>
<circle cx="362.1" cy="120.8" r="0.5" fill="#2a2a2a" fill-opacity="0.45"/>
<circle cx="383.8" cy="157.8" r="0.6" fill="#2a2a2a" fill-opacity="0.45"/>
<circle cx="312.2" cy="161.2" r="0.6" fill="#2a2a2a" fill-opacity="0.3"/>
<circle cx="295.3" cy="110.6" r="0.9" fill="#2a2a2a" fill-opacity="0.45"/>
<circle cx="334.7" cy="165.5" r="0.6" fill="#2a2a2a" fill-opacity="0.6"/>
<circle cx="313.8" cy="176.7" r="0.6" fill="#2a2a2a" fill-opacity="0.3"/>
<circle cx="297.5" cy="160.8" r="0.4" fill="#2a2a2a" fill-opacity="0.6"/>
<circle cx="352.0" cy="120.5" r="0.35" fill="#2a2a2a" fill-opacity="0.45"/>
<circle cx="358.3" cy="142.4" r="0.7" fill="#2a2a2a" fill-opacity="0.3"/>
<circle cx="411.4" cy="135.8" r="0.4" fill="#2a2a2a" fill-opacity="0.6"/>
<circle cx="294.9" cy="138.4" r="0.4" fill="#2a2a2a" fill-opacity="0.6"/>
<circle cx="368.3" cy="124.1" r="0.35" fill="#2a2a2a" fill-opacity="0.6"/>
<circle cx="305.0" cy="169.1" r="0.9" fill="#2a2a2a" fill-opacity="0.6"/>
<circle cx="394.1" cy="146.6" r="0.35" fill="#2a2a2a" fill-opacity="0.3"/>
<circle cx="305.8" cy="175.6" r="0.4" fill="#2a2a2a" fill-opacity="0.45"/>
<circle cx="345.4" cy="122.2" r="0.4" fill="#2a2a2a" fill-opacity="0.6"/>
<circle cx="329.7" cy="142.5" r="0.6" fill="#2a2a2a" fill-opacity="0.6"/>
<circle cx="304.2" cy="144.3" r="0.7" fill="#2a2a2a" fill-opacity="0.45"/>
<circle cx="365.8" cy="147.7" r="0.4" fill="#2a2a2a" fill-opacity="0.45"/>
<circle cx="370.2" cy="156.7" r="0.4" fill="#2a2a2a" fill-opacity="0.45"/>
<circle cx="311.2" cy="118.3" r="0.7" fill="#2a2a2a" fill-opacity="0.3"/>
<circle cx="329.6" cy="125.8" r="0.6" fill="#2a2a2a" fill-opacity="0.3"/>
<circle cx="392.0" cy="150.8" r="0.5" fill="#2a2a2a" fill-opacity="0.3"/>
<circle cx="401.7" cy="114.3" r="0.7" fill="#2a2a2a" fill-opacity="0.3"/>
<circle cx="372.5" cy="176.2" r="0.5" fill="#2a2a2a" fill-opacity="0.45"/>
<circle cx="381.8" cy="129.2" r="0.4" fill="#2a2a2a" fill-opacity="0.45"/>
<circle cx="322.9" cy="130.5" r="0.9" fill="#2a2a2a" fill-opacity="0.45"/>
<circle cx="389.6" cy="169.9" r="0.35" fill="#2a2a2a" fill-opacity="0.3"/>
<circle cx="348.3" cy="168.3" r="0.9" fill="#2a2a2a" fill-opacity="0.45"/>
<circle cx="321.0" cy="112.2" r="0.6" fill="#2a2a2a" fill-opacity="0.45"/>
<circle cx="321.9" cy="117.5" r="0.4" fill="#2a2a2a" fill-opacity="0.45"/>
<circle cx="295.5" cy="177.7" r="0.7" fill="#2a2a2a" fill-opacity="0.6"/>
<circle cx="306.8" cy="167.2" r="0.7" fill="#2a2a2a" fill-opacity="0.45"/>
<circle cx="415.9" cy="181.7" r="0.4" fill="#2a2a2a" fill-opacity="0.6"/>
<circle cx="396.5" cy="160.8" r="0.7" fill="#2a2a2a" fill-opacity="0.3"/>
<circle cx="424.9" cy="152.0" r="0.35" fill="#2a2a2a" fill-opacity="0.3"/>
<circle cx="351.2" cy="109.8" r="0.5" fill="#2a2a2a" fill-opacity="0.6"/>
<circle cx="329.1" cy="154.8" r="0.4" fill="#2a2a2a" fill-opacity="0.45"/>
<circle cx="351.7" cy="165.3" r="0.4" fill="#2a2a2a" fill-opacity="0.3"/>
<circle cx="311.4" cy="112.6" r="0.9" fill="#2a2a2a" fill-opacity="0.45"/>
<circle cx="418.4" cy="158.6" r="0.5" fill="#2a2a2a" fill-opacity="0.6"/>
<circle cx="320.6" cy="134.8" r="0.4" fill="#2a2a2a" fill-opacity="0.3"/>
<circle cx="339.4" cy="127.6" r="0.5" fill="#2a2a2a" fill-opacity="0.45"/>
<circle cx="314.6" cy="117.1" r="0.9" fill="#2a2a2a" fill-opacity="0.3"/>
<circle cx="406.1" cy="152.5" r="0.9" fill="#2a2a2a" fill-opacity="0.45"/>
<circle cx="379.3" cy="174.6" r="0.35" fill="#2a2a2a" fill-opacity="0.3"/>
<circle cx="315.5" cy="149.0" r="0.6" fill="#2a2a2a" fill-opacity="0.45"/>
<circle cx="344.3" cy="126.7" r="0.6" fill="#2a2a2a" fill-opacity="0.6"/>
<circle cx="348.2" cy="119.5" r="0.7" fill="#2a2a2a" fill-opacity="0.6"/>
<circle cx="356.0" cy="170.2" r="0.35" fill="#2a2a2a" fill-opacity="0.6"/>
<circle cx="320.2" cy="148.0" r="0.7" fill="#2a2a2a" fill-opacity="0.45"/>
<circle cx="313.4" cy="190.3" r="0.4" fill="#2a2a2a" fill-opacity="0.45"/>
<circle cx="386.3" cy="176.2" r="0.4" fill="#2a2a2a" fill-opacity="0.3"/>
<circle cx="308.7" cy="139.5" r="0.35" fill="#2a2a2a" fill-opacity="0.6"/>
<circle cx="333.8" cy="160.9" r="0.9" fill="#2a2a2a" fill-opacity="0.3"/>
<circle cx="347.7" cy="153.8" r="0.35" fill="#2a2a2a" fill-opacity="0.45"/>
<circle cx="304.6" cy="111.4" r="0.7" fill="#2a2a2a" fill-opacity="0.3"/>
<circle cx="367.8" cy="162.5" r="0.35" fill="#2a2a2a" fill-opacity="0.3"/>
<circle cx="352.6" cy="160.9" r="0.5" fill="#2a2a2a" fill-opacity="0.3"/>
<circle cx="366.5" cy="167.2" r="0.5" fill="#2a2a2a" fill-opacity="0.6"/>
<circle cx="385.2" cy="159.5" r="0.6" fill="#2a2a2a" fill-opacity="0.3"/>
<circle cx="326.9" cy="142.5" r="0.9" fill="#2a2a2a" fill-opacity="0.45"/>
<circle cx="341.1" cy="126.9" r="0.7" fill="#2a2a2a" fill-opacity="0.45"/>
<circle cx="419.7" cy="158.6" r="0.5" fill="#2a2a2a" fill-opacity="0.45"/>
<circle cx="361.9" cy="117.3" r="0.7" fill="#2a2a2a" fill-opacity="0.45"/>
<circle cx="332.8" cy="182.1" r="0.5" fill="#2a2a2a" fill-opacity="0.6"/>
<circle cx="382.8" cy="127.6" r="0.5" fill="#2a2a2a" fill-opacity="0.45"/>
<circle cx="362.4" cy="161.7" r="0.7" fill="#2a2a2a" fill-opacity="0.3"/>
<circle cx="327.6" cy="181.1" r="0.7" fill="#2a2a2a" fill-opacity="0.3"/>
<circle cx="405.6" cy="186.9" r="0.4" fill="#2a2a2a" fill-opacity="0.6"/>
<circle cx="402.1" cy="155.9" r="0.9" fill="#2a2a2a" fill-opacity="0.3"/>
<circle cx="307.9" cy="195.2" r="0.4" fill="#2a2a2a" fill-opacity="0.45"/>
<circle cx="305.6" cy="167.5" r="0.35" fill="#2a2a2a" fill-opacity="0.3"/>
<circle cx="386.2" cy="112.8" r="0.4" fill="#2a2a2a" fill-opacity="0.45"/>
<circle cx="316.7" cy="177.0" r="0.5" fill="#2a2a2a" fill-opacity="0.6"/>
<circle cx="381.1" cy="144.6" r="0.7" fill="#2a2a2a" fill-opacity="0.45"/>
<circle cx="326.0" cy="151.1" r="0.4" fill="#2a2a2a" fill-opacity="0.6"/>
<circle cx="356.0" cy="183.3" r="0.4" fill="#2a2a2a" fill-opacity="0.6"/>
<circle cx="420.4" cy="182.8" r="0.5" fill="#2a2a2a" fill-opacity="0.45"/>
<circle cx="314.5" cy="158.1" r="0.5" fill="#2a2a2a" fill-opacity="0.3"/>
<circle cx="405.6" cy="109.4" r="0.4" fill="#2a2a2a" fill-opacity="0.3"/>
<circle cx="399.7" cy="191.6" r="0.4" fill="#2a2a2a" fill-opacity="0.45"/>
<circle cx="347.7" cy="167.5" r="0.4" fill="#2a2a2a" fill-opacity="0.3"/>
<circle cx="352.8" cy="128.5" r="0.5" fill="#2a2a2a" fill-opacity="0.45"/>
<circle cx="346.8" cy="179.9" r="0.6" fill="#2a2a2a" fill-opacity="0.3"/>
<circle cx="396.8" cy="145.4" r="0.6" fill="#2a2a2a" fill-opacity="0.3"/>
<circle cx="399.7" cy="117.3" r="0.4" fill="#2a2a2a" fill-opacity="0.45"/>
<circle cx="360.4" cy="161.2" r="0.35" fill="#2a2a2a" fill-opacity="0.45"/>
<circle cx="361.2" cy="130.8" r="0.5" fill="#2a2a2a" fill-opacity="0.3"/>
<circle cx="411.8" cy="146.9" r="0.35" fill="#2a2a2a" fill-opacity="0.3"/>
<circle cx="378.2" cy="161.0" r="0.9" fill="#2a2a2a" fill-opacity="0.45"/>
<circle cx="313.5" cy="156.8" r="0.5" fill="#2a2a2a" fill-opacity="0.45"/>
<circle cx="332.3" cy="167.0" r="0.9" fill="#2a2a2a" fill-opacity="0.6"/>
<circle cx="338.3" cy="147.4" r="0.4" fill="#2a2a2a" fill-opacity="0.45"/>
<circle cx="316.9" cy="140.4" r="0.7" fill="#2a2a2a" fill-opacity="0.45"/>
<circle cx="345.6" cy="152.9" r="0.5" fill="#2a2a2a" fill-opacity="0.6"/>
<circle cx="328.0" cy="133.3" r="0.6" fill="#2a2a2a" fill-opacity="0.6"/>
<circle cx="304.1" cy="166.6" r="0.7" fill="#2a2a2a" fill-opacity="0.45"/>
<circle cx="316.4" cy="119.0" r="0.9" fill="#2a2a2a" fill-opacity="0.6"/>
<circle cx="321.1" cy="127.5" r="0.9" fill="#2a2a2a" fill-opacity="0.45"/>
<circle cx="379.1" cy="183.0" r="0.9" fill="#2a2a2a" fill-opacity="0.45"/>
<circle cx="344.1" cy="154.5" r="0.4" fill="#2a2a2a" fill-opacity="0.3"/>
<circle cx="370.5" cy="165.9" r="0.6" fill="#2a2a2a" fill-opacity="0.3"/>
<circle cx="422.0" cy="157.9" r="0.6" fill="#2a2a2a" fill-opacity="0.6"/>
<circle cx="414.1" cy="142.9" r="0.4" fill="#2a2a2a" fill-opacity="0.3"/>
<circle cx="326.6" cy="139.8" r="0.5" fill="#2a2a2a" fill-opacity="0.6"/>
<circle cx="306.6" cy="155.2" r="0.9" fill="#2a2a2a" fill-opacity="0.6"/>
<circle cx="375.5" cy="153.9" r="0.6" fill="#2a2a2a" fill-opacity="0.3"/>
<circle cx="296.2" cy="183.6" r="0.6" fill="#2a2a2a" fill-opacity="0.45"/>
<circle cx="406.6" cy="160.9" r="0.7" fill="#2a2a2a" fill-opacity="0.45"/>
<circle cx="413.6" cy="156.1" r="0.5" fill="#2a2a2a" fill-opacity="0.45"/>
<circle cx="346.2" cy="144.3" r="0.7" fill="#2a2a2a" fill-opacity="0.6"/>
<circle cx="316.1" cy="182.5" r="0.6" fill="#2a2a2a" fill-opacity="0.6"/>
<circle cx="401.6" cy="162.0" r="0.35" fill="#2a2a2a" fill-opacity="0.6"/>
<circle cx="427.0" cy="176.2" r="0.35" fill="#2a2a2a" fill-opacity="0.6"/>
<circle cx="418.3" cy="116.9" r="0.5" fill="#2a2a2a" fill-opacity="0.6"/>
<circle cx="414.5" cy="130.9" r="0.7" fill="#2a2a2a" fill-opacity="0.45"/>
<circle cx="327.9" cy="173.9" r="0.7" fill="#2a2a2a" fill-opacity="0.6"/>
<circle cx="404.4" cy="163.2" r="0.4" fill="#2a2a2a" fill-opacity="0.6"/>
<circle cx="401.4" cy="167.5" r="0.6" fill="#2a2a2a" fill-opacity="0.45"/>
<circle cx="417.4" cy="119.4" r="0.7" fill="#2a2a2a" fill-opacity="0.3"/>
<circle cx="316.7" cy="124.9" r="0.9" fill="#2a2a2a" fill-opacity="0.6"/>
<circle cx="403.5" cy="161.5" r="0.9" fill="#2a2a2a" fill-opacity="0.3"/>
<circle cx="388.1" cy="176.8" r="0.4" fill="#2a2a2a" fill-opacity="0.3"/>
<circle cx="388.0" cy="141.9" r="0.5" fill="#2a2a2a" fill-opacity="0.3"/>
<circle cx="394.1" cy="172.6" r="0.7" fill="#2a2a2a" fill-opacity="0.45"/>
<circle cx="338.2" cy="140.3" r="0.35" fill="#2a2a2a" fill-opacity="0.3"/>
<circle cx="422.2" cy="122.6" r="0.6" fill="#2a2a2a" fill-opacity="0.3"/>
<circle cx="331.9" cy="141.8" r="0.7" fill="#2a2a2a" fill-opacity="0.45"/>
<circle cx="365.7" cy="142.1" r="0.35" fill="#2a2a2a" fill-opacity="0.3"/>
<circle cx="361.9" cy="152.0" r="0.7" fill="#2a2a2a" fill-opacity="0.6"/>
<circle cx="378.3" cy="147.6" r="0.5" fill="#2a2a2a" fill-opacity="0.3"/>
<circle cx="376.8" cy="169.1" r="0.5" fill="#2a2a2a" fill-opacity="0.6"/>
<circle cx="309.1" cy="180.0" r="0.7" fill="#2a2a2a" fill-opacity="0.3"/>
<circle cx="309.0" cy="187.6" r="0.4" fill="#2a2a2a" fill-opacity="0.45"/>
<circle cx="361.0" cy="154.9" r="0.5" fill="#2a2a2a" fill-opacity="0.3"/>
<circle cx="388.1" cy="139.8" r="0.6" fill="#2a2a2a" fill-opacity="0.6"/>
<circle cx="426.0" cy="195.6" r="0.4" fill="#2a2a2a" fill-opacity="0.3"/>
<circle cx="385.8" cy="184.2" r="0.7" fill="#2a2a2a" fill-opacity="0.45"/>
<circle cx="354.1" cy="180.1" r="0.7" fill="#2a2a2a" fill-opacity="0.3"/>
<circle cx="413.7" cy="130.5" r="0.9" fill="#2a2a2a" fill-opacity="0.3"/>
<circle cx="347.9" cy="137.2" r="0.5" fill="#2a2a2a" fill-opacity="0.3"/>
<circle cx="352.1" cy="168.5" r="0.5" fill="#2a2a2a" fill-opacity="0.6"/>
<circle cx="314.3" cy="118.4" r="0.5" fill="#2a2a2a" fill-opacity="0.45"/>
<circle cx="384.0" cy="138.8" r="0.35" fill="#2a2a2a" fill-opacity="0.3"/>
<circle cx="427.9" cy="182.0" r="0.35" fill="#2a2a2a" fill-opacity="0.3"/>
<circle cx="411.6" cy="145.3" r="0.6" fill="#2a2a2a" fill-opacity="0.3"/>
<circle cx="409.0" cy="159.6" r="0.4" fill="#2a2a2a" fill-opacity="0.6"/>
<circle cx="399.4" cy="156.1" r="0.9" fill="#2a2a2a" fill-opacity="0.3"/>
<circle cx="375.0" cy="144.0" r="0.6" fill="#2a2a2a" fill-opacity="0.45"/>
<circle cx="353.6" cy="170.5" r="0.6" fill="#2a2a2a" fill-opacity="0.45"/>
<circle cx="328.0" cy="161.2" r="0.9" fill="#2a2a2a" fill-opacity="0.45"/>
<circle cx="304.7" cy="119.5" r="0.35" fill="#2a2a2a" fill-opacity="0.6"/>
<circle cx="307.1" cy="166.3" r="0.6" fill="#2a2a2a" fill-opacity="0.45"/>
<circle cx="329.7" cy="169.1" r="0.9" fill="#2a2a2a" fill-opacity="0.6"/>
<circle cx="392.5" cy="184.9" r="0.35" fill="#2a2a2a" fill-opacity="0.45"/>
<circle cx="423.9" cy="139.4" r="0.9" fill="#2a2a2a" fill-opacity="0.3"/>
<circle cx="304.0" cy="143.8" r="0.4" fill="#2a2a2a" fill-opacity="0.45"/>
<circle cx="336.8" cy="163.3" r="0.5" fill="#2a2a2a" fill-opacity="0.45"/>
<circle cx="382.2" cy="127.6" r="0.7" fill="#2a2a2a" fill-opacity="0.45"/>
<circle cx="303.3" cy="121.2" r="0.4" fill="#2a2a2a" fill-opacity="0.45"/>
<circle cx="348.8" cy="196.8" r="0.35" fill="#2a2a2a" fill-opacity="0.45"/>
<circle cx="343.5" cy="182.4" r="0.4" fill="#2a2a2a" fill-opacity="0.45"/>
<circle cx="361.6" cy="113.3" r="0.6" fill="#2a2a2a" fill-opacity="0.6"/>
<circle cx="392.1" cy="116.9" r="0.4" fill="#2a2a2a" fill-opacity="0.45"/>
<circle cx="321.1" cy="179.3" r="0.7" fill="#2a2a2a" fill-opacity="0.6"/>
<circle cx="378.8" cy="141.4" r="0.35" fill="#2a2a2a" fill-opacity="0.3"/>
<circle cx="419.9" cy="171.4" r="0.7" fill="#2a2a2a" fill-opacity="0.6"/>
<circle cx="348.9" cy="140.1" r="0.6" fill="#2a2a2a" fill-opacity="0.6"/>
<circle cx="373.0" cy="157.1" r="0.6" fill="#2a2a2a" fill-opacity="0.45"/>
<circle cx="360.6" cy="184.3" r="0.6" fill="#2a2a2a" fill-opacity="0.6"/>
<circle cx="369.2" cy="127.3" r="0.35" fill="#2a2a2a" fill-opacity="0.3"/>
<circle cx="403.2" cy="163.7" r="0.35" fill="#2a2a2a" fill-opacity="0.3"/>
<circle cx="352.7" cy="156.6" r="0.7" fill="#2a2a2a" fill-opacity="0.3"/>
<circle cx="379.9" cy="156.8" r="0.9" fill="#2a2a2a" fill-opacity="0.3"/>
<circle cx="340.9" cy="121.0" r="0.7" fill="#2a2a2a" fill-opacity="0.6"/>
<circle cx="354.2" cy="165.9" r="0.7" fill="#2a2a2a" fill-opacity="0.45"/>
<circle cx="338.9" cy="132.4" r="0.35" fill="#2a2a2a" fill-opacity="0.3"/>
<circle cx="346.5" cy="154.1" r="0.9" fill="#2a2a2a" fill-opacity="0.45"/>
<circle cx="329.9" cy="132.9" r="0.6" fill="#2a2a2a" fill-opacity="0.3"/>
<circle cx="354.2" cy="193.1" r="0.4" fill="#2a2a2a" fill-opacity="0.45"/>
<circle cx="396.0" cy="120.9" r="0.9" fill="#2a2a2a" fill-opacity="0.6"/>
<circle cx="301.4" cy="135.9" r="0.5" fill="#2a2a2a" fill-opacity="0.6"/>
<circle cx="354.8" cy="179.2" r="0.35" fill="#2a2a2a" fill-opacity="0.6"/>
<circle cx="340.9" cy="175.5" r="0.5" fill="#2a2a2a" fill-opacity="0.3"/>
<circle cx="351.2" cy="165.0" r="0.5" fill="#2a2a2a" fill-opacity="0.45"/>
<circle cx="322.5" cy="127.5" r="0.9" fill="#2a2a2a" fill-opacity="0.45"/>
<circle cx="303.6" cy="138.1" r="0.5" fill="#2a2a2a" fill-opacity="0.6"/>
<circle cx="413.1" cy="150.2" r="0.35" fill="#2a2a2a" fill-opacity="0.6"/>
<circle cx="370.2" cy="147.2" r="0.7" fill="#2a2a2a" fill-opacity="0.6"/>
<circle cx="335.4" cy="127.4" r="0.9" fill="#2a2a2a" fill-opacity="0.6"/>
<circle cx="330.5" cy="139.2" r="0.35" fill="#2a2a2a" fill-opacity="0.45"/>
<circle cx="365.7" cy="128.5" r="0.6" fill="#2a2a2a" fill-opacity="0.3"/>
<circle cx="345.5" cy="125.4" r="0.9" fill="#2a2a2a" fill-opacity="0.3"/>
<circle cx="322.4" cy="124.2" r="0.9" fill="#2a2a2a" fill-opacity="0.6"/>
<circle cx="342.8" cy="132.2" r="0.7" fill="#2a2a2a" fill-opacity="0.45"/>
<circle cx="319.5" cy="136.5" r="0.5" fill="#2a2a2a" fill-opacity="0.3"/>
<circle cx="401.8" cy="172.0" r="0.9" fill="#2a2a2a" fill-opacity="0.3"/>
<circle cx="331.3" cy="143.0" r="0.9" fill="#2a2a2a" fill-opacity="0.45"/>
<circle cx="427.5" cy="193.1" r="0.4" fill="#2a2a2a" fill-opacity="0.3"/>
<circle cx="348.9" cy="165.9" r="0.6" fill="#2a2a2a" fill-opacity="0.45"/>
<circle cx="418.0" cy="139.4" r="0.9" fill="#2a2a2a" fill-opacity="0.6"/>
<circle cx="408.8" cy="155.9" r="0.5" fill="#2a2a2a" fill-opacity="0.3"/>
<circle cx="373.0" cy="126.7" r="0.5" fill="#2a2a2a" fill-opacity="0.3"/>
<circle cx="330.9" cy="154.4" r="0.5" fill="#2a2a2a" fill-opacity="0.3"/>
<circle cx="367.0" cy="170.5" r="0.5" fill="#2a2a2a" fill-opacity="0.45"/>
<circle cx="385.5" cy="168.6" r="0.5" fill="#2a2a2a" fill-opacity="0.3"/>
<circle cx="308.9" cy="135.0" r="0.5" fill="#2a2a2a" fill-opacity="0.45"/>
<circle cx="391.2" cy="139.4" r="0.7" fill="#2a2a2a" fill-opacity="0.45"/>
<circle cx="303.9" cy="138.0" r="0.5" fill="#2a2a2a" fill-opacity="0.3"/>
<circle cx="362.2" cy="180.8" r="0.9" fill="#2a2a2a" fill-opacity="0.3"/>
<circle cx="364.3" cy="180.1" r="0.4" fill="#2a2a2a" fill-opacity="0.3"/>
<circle cx="382.1" cy="194.3" r="0.4" fill="#2a2a2a" fill-opacity="0.6"/>
<circle cx="334.1" cy="115.6" r="0.6" fill="#2a2a2a" fill-opacity="0.45"/>
<circle cx="342.7" cy="133.2" r="0.9" fill="#2a2a2a" fill-opacity="0.3"/>
<circle cx="318.1" cy="172.0" r="0.35" fill="#2a2a2a" fill-opacity="0.3"/>
<circle cx="356.6" cy="170.9" r="0.4" fill="#2a2a2a" fill-opacity="0.6"/>
<circle cx="327.8" cy="149.4" r="0.9" fill="#2a2a2a" fill-opacity="0.3"/>
<circle cx="330.2" cy="151.2" r="0.6" fill="#2a2a2a" fill-opacity="0.3"/>
<circle cx="338.1" cy="116.0" r="0.6" fill="#2a2a2a" fill-opacity="0.45"/>
<circle cx="368.7" cy="129.6" r="0.5" fill="#2a2a2a" fill-opacity="0.3"/>
<circle cx="319.8" cy="157.4" r="0.35" fill="#2a2a2a" fill-opacity="0.6"/>
<circle cx="394.6" cy="162.2" r="0.35" fill="#2a2a2a" fill-opacity="0.45"/>
<circle cx="384.9" cy="149.0" r="0.7" fill="#2a2a2a" fill-opacity="0.6"/>
<circle cx="328.6" cy="127.0" r="0.35" fill="#2a2a2a" fill-opacity="0.45"/>
<circle cx="414.0" cy="180.4" r="0.5" fill="#2a2a2a" fill-opacity="0.6"/>
<circle cx="356.8" cy="181.0" r="0.5" fill="#2a2a2a" fill-opacity="0.6"/>
<circle cx="377.5" cy="133.2" r="0.4" fill="#2a2a2a" fill-opacity="0.3"/>
<circle cx="374.7" cy="184.7" r="0.7" fill="#2a2a2a" fill-opacity="0.45"/>
<circle cx="301.2" cy="168.3" r="0.7" fill="#2a2a2a" fill-opacity="0.6"/>
<circle cx="369.8" cy="144.5" r="0.4" fill="#2a2a2a" fill-opacity="0.3"/>
<circle cx="299.1" cy="146.4" r="0.7" fill="#2a2a2a" fill-opacity="0.6"/>
<circle cx="377.8" cy="127.1" r="0.35" fill="#2a2a2a" fill-opacity="0.45"/>
<circle cx="398.6" cy="140.2" r="0.35" fill="#2a2a2a" fill-opacity="0.45"/>
<circle cx="393.3" cy="127.6" r="0.4" fill="#2a2a2a" fill-opacity="0.3"/>
<circle cx="424.5" cy="121.7" r="0.7" fill="#2a2a2a" fill-opacity="0.45"/>
<circle cx="398.5" cy="180.3" r="0.35" fill="#2a2a2a" fill-opacity="0.45"/>
<circle cx="344.5" cy="159.2" r="0.35" fill="#2a2a2a" fill-opacity="0.45"/>
<circle cx="392.2" cy="112.7" r="0.9" fill="#2a2a2a" fill-opacity="0.3"/>
<circle cx="298.0" cy="155.1" r="0.4" fill="#2a2a2a" fill-opacity="0.6"/>
<circle cx="361.1" cy="191.5" r="0.5" fill="#2a2a2a" fill-opacity="0.45"/>
<circle cx="383.6" cy="162.3" r="0.9" fill="#2a2a2a" fill-opacity="0.45"/>
<circle cx="362.2" cy="154.4" r="0.7" fill="#2a2a2a" fill-opacity="0.3"/>
<circle cx="376.1" cy="165.2" r="0.4" fill="#2a2a2a" fill-opacity="0.45"/>
<circle cx="362.9" cy="164.3" r="0.4" fill="#2a2a2a" fill-opacity="0.3"/>
<circle cx="412.0" cy="175.6" r="0.9" fill="#2a2a2a" fill-opacity="0.6"/>
<circle cx="387.0" cy="136.0" r="0.6" fill="#2a2a2a" fill-opacity="0.45"/>
<circle cx="312.0" cy="169.4" r="0.6" fill="#2a2a2a" fill-opacity="0.45"/>
<circle cx="385.1" cy="181.7" r="0.4" fill="#2a2a2a" fill-opacity="0.45"/>
<circle cx="387.5" cy="150.8" r="0.4" fill="#2a2a2a" fill-opacity="0.45"/>
<circle cx="428.5" cy="188.8" r="0.9" fill="#2a2a2a" fill-opacity="0.45"/>
<circle cx="362.8" cy="158.8" r="0.9" fill="#2a2a2a" fill-opacity="0.6"/>
<circle cx="401.5" cy="161.6" r="0.35" fill="#2a2a2a" fill-opacity="0.45"/>
<circle cx="310.8" cy="135.9" r="0.35" fill="#2a2a2a" fill-opacity="0.3"/>
<circle cx="324.2" cy="197.3" r="0.35" fill="#2a2a2a" fill-opacity="0.45"/>
<circle cx="364.7" cy="196.3" r="0.7" fill="#2a2a2a" fill-opacity="0.45"/>
<circle cx="385.9" cy="175.5" r="0.5" fill="#2a2a2a" fill-opacity="0.6"/>
<circle cx="369.1" cy="156.8" r="0.9" fill="#2a2a2a" fill-opacity="0.3"/>
<circle cx="314.1" cy="177.1" r="0.7" fill="#2a2a2a" fill-opacity="0.3"/>
<circle cx="333.9" cy="172.8" r="0.35" fill="#2a2a2a" fill-opacity="0.3"/>
<circle cx="331.5" cy="150.2" r="0.5" fill="#2a2a2a" fill-opacity="0.3"/>
<circle cx="393.8" cy="139.1" r="0.9" fill="#2a2a2a" fill-opacity="0.3"/>
<circle cx="411.7" cy="189.0" r="0.6" fill="#2a2a2a" fill-opacity="0.45"/>
<circle cx="386.4" cy="168.6" r="0.5" fill="#2a2a2a" fill-opacity="0.3"/>
<circle cx="388.6" cy="178.6" r="0.4" fill="#2a2a2a" fill-opacity="0.3"/>
<circle cx="327.2" cy="164.6" r="0.9" fill="#2a2a2a" fill-opacity="0.45"/>
<circle cx="329.8" cy="118.5" r="0.7" fill="#2a2a2a" fill-opacity="0.3"/>
<circle cx="418.9" cy="181.1" r="0.6" fill="#2a2a2a" fill-opacity="0.45"/>
<circle cx="392.0" cy="119.8" r="0.4" fill="#2a2a2a" fill-opacity="0.45"/>
<circle cx="322.0" cy="192.1" r="0.5" fill="#2a2a2a" fill-opacity="0.3"/>
<circle cx="317.3" cy="172.8" r="0.5" fill="#2a2a2a" fill-opacity="0.6"/>
<circle cx="406.5" cy="143.8" r="0.7" fill="#2a2a2a" fill-opacity="0.3"/>
<circle cx="403.2" cy="176.8" r="0.7" fill="#2a2a2a" fill-opacity="0.3"/>
<circle cx="328.7" cy="128.4" r="0.35" fill="#2a2a2a" fill-opacity="0.45"/>
<circle cx="409.8" cy="185.4" r="0.4" fill="#2a2a2a" fill-opacity="0.45"/>
<circle cx="330.8" cy="148.8" r="0.7" fill="#2a2a2a" fill-opacity="0.45"/>
<circle cx="330.1" cy="178.3" r="0.4" fill="#2a2a2a" fill-opacity="0.45"/>
<circle cx="356.3" cy="191.5" r="0.7" fill="#2a2a2a" fill-opacity="0.3"/>
<circle cx="310.8" cy="133.1" r="0.4" fill="#2a2a2a" fill-opacity="0.6"/>
<circle cx="333.9" cy="184.3" r="0.5" fill="#2a2a2a" fill-opacity="0.45"/>
<circle cx="313.6" cy="141.3" r="0.35" fill="#2a2a2a" fill-opacity="0.45"/>
<circle cx="316.5" cy="190.2" r="0.5" fill="#2a2a2a" fill-opacity="0.6"/>
<circle cx="405.1" cy="120.4" r="0.5" fill="#2a2a2a" fill-opacity="0.6"/>
<circle cx="387.8" cy="114.5" r="0.7" fill="#2a2a2a" fill-opacity="0.3"/>
<circle cx="411.1" cy="192.2" r="0.9" fill="#2a2a2a" fill-opacity="0.6"/>
<circle cx="394.4" cy="125.5" r="0.5" fill="#2a2a2a" fill-opacity="0.3"/>
<circle cx="367.5" cy="138.0" r="0.4" fill="#2a2a2a" fill-opacity="0.45"/>
<circle cx="384.8" cy="170.7" r="0.35" fill="#2a2a2a" fill-opacity="0.6"/>
<circle cx="382.2" cy="159.7" r="0.35" fill="#2a2a2a" fill-opacity="0.3"/>
<circle cx="303.1" cy="164.7" r="0.6" fill="#2a2a2a" fill-opacity="0.3"/>
<circle cx="395.2" cy="139.2" r="0.35" fill="#2a2a2a" fill-opacity="0.45"/>
<circle cx="308.5" cy="166.9" r="0.5" fill="#2a2a2a" fill-opacity="0.6"/>
<circle cx="353.4" cy="169.0" r="0.4" fill="#2a2a2a" fill-opacity="0.6"/>
<circle cx="309.8" cy="111.1" r="0.5" fill="#2a2a2a" fill-opacity="0.45"/>
<circle cx="357.4" cy="168.3" r="0.35" fill="#2a2a2a" fill-opacity="0.3"/>
<circle cx="322.5" cy="131.9" r="0.4" fill="#2a2a2a" fill-opacity="0.6"/>
<circle cx="326.3" cy="123.6" r="0.9" fill="#2a2a2a" fill-opacity="0.6"/>
<circle cx="315.7" cy="150.3" r="0.7" fill="#2a2a2a" fill-opacity="0.3"/>
<circle cx="347.9" cy="150.4" r="0.5" fill="#2a2a2a" fill-opacity="0.6"/>
<circle cx="331.6" cy="151.6" r="0.9" fill="#2a2a2a" fill-opacity="0.45"/>
<circle cx="408.3" cy="128.6" r="0.35" fill="#2a2a2a" fill-opacity="0.45"/>
<circle cx="365.7" cy="147.3" r="0.5" fill="#2a2a2a" fill-opacity="0.3"/>
<circle cx="379.4" cy="155.3" r="0.4" fill="#2a2a2a" fill-opacity="0.3"/>
<circle cx="410.7" cy="194.5" r="0.7" fill="#2a2a2a" fill-opacity="0.6"/>
<circle cx="380.9" cy="157.1" r="0.5" fill="#2a2a2a" fill-opacity="0.45"/>
<circle cx="387.2" cy="188.0" r="0.6" fill="#2a2a2a" fill-opacity="0.45"/>
<circle cx="380.1" cy="180.7" r="0.4" fill="#2a2a2a" fill-opacity="0.6"/>
<circle cx="342.7" cy="176.9" r="0.5" fill="#2a2a2a" fill-opacity="0.3"/>
<circle cx="354.8" cy="175.2" r="0.35" fill="#2a2a2a" fill-opacity="0.6"/>
<circle cx="410.8" cy="159.3" r="0.7" fill="#2a2a2a" fill-opacity="0.3"/>
<circle cx="388.5" cy="179.2" r="0.6" fill="#2a2a2a" fill-opacity="0.3"/>
<circle cx="336.5" cy="149.4" r="0.9" fill="#2a2a2a" fill-opacity="0.45"/>
<circle cx="335.8" cy="121.9" r="0.5" fill="#2a2a2a" fill-opacity="0.6"/>
<circle cx="395.9" cy="176.6" r="0.9" fill="#2a2a2a" fill-opacity="0.3"/>
<circle cx="413.6" cy="135.2" r="0.9" fill="#2a2a2a" fill-opacity="0.3"/>
<circle cx="335.3" cy="179.8" r="0.7" fill="#2a2a2a" fill-opacity="0.3"/>
<circle cx="340.6" cy="170.4" r="0.6" fill="#2a2a2a" fill-opacity="0.6"/>
<circle cx="368.2" cy="141.1" r="0.5" fill="#2a2a2a" fill-opacity="0.3"/>
<circle cx="334.1" cy="116.5" r="0.4" fill="#2a2a2a" fill-opacity="0.6"/>
<circle cx="375.5" cy="151.1" r="0.7" fill="#2a2a2a" fill-opacity="0.45"/>
<circle cx="297.3" cy="138.5" r="0.6" fill="#2a2a2a" fill-opacity="0.6"/>
<circle cx="332.6" cy="148.7" r="0.4" fill="#2a2a2a" fill-opacity="0.3"/>
<circle cx="352.8" cy="164.2" r="0.9" fill="#2a2a2a" fill-opacity="0.3"/>
<circle cx="376.6" cy="148.4" r="0.35" fill="#2a2a2a" fill-opacity="0.6"/>
<circle cx="313.3" cy="156.1" r="0.4" fill="#2a2a2a" fill-opacity="0.3"/>
<circle cx="396.0" cy="160.0" r="0.6" fill="#2a2a2a" fill-opacity="0.45"/>
<circle cx="324.1" cy="137.0" r="0.7" fill="#2a2a2a" fill-opacity="0.6"/>
<circle cx="297.2" cy="147.6" r="0.4" fill="#2a2a2a" fill-opacity="0.6"/>
<circle cx="340.4" cy="140.2" r="0.7" fill="#2a2a2a" fill-opacity="0.6"/>
<circle cx="293.5" cy="188.5" r="0.9" fill="#2a2a2a" fill-opacity="0.6"/>
<circle cx="312.8" cy="138.9" r="0.9" fill="#2a2a2a" fill-opacity="0.45"/>
<circle cx="380.9" cy="113.0" r="0.35" fill="#2a2a2a" fill-opacity="0.45"/>
<circle cx="422.8" cy="174.7" r="0.5" fill="#2a2a2a" fill-opacity="0.3"/>
<circle cx="356.6" cy="192.0" r="0.35" fill="#2a2a2a" fill-opacity="0.45"/>
<circle cx="368.6" cy="148.4" r="0.5" fill="#2a2a2a" fill-opacity="0.6"/>
<circle cx="320.9" cy="133.5" r="0.9" fill="#2a2a2a" fill-opacity="0.3"/>
<circle cx="370.5" cy="140.8" r="0.35" fill="#2a2a2a" fill-opacity="0.6"/>
<circle cx="344.8" cy="168.6" r="0.6" fill="#2a2a2a" fill-opacity="0.6"/>
<circle cx="322.7" cy="128.7" r="0.35" fill="#2a2a2a" fill-opacity="0.45"/>
<circle cx="357.9" cy="165.3" r="0.7" fill="#2a2a2a" fill-opacity="0.45"/>
<circle cx="369.0" cy="161.9" r="0.5" fill="#2a2a2a" fill-opacity="0.6"/>
<circle cx="292.5" cy="130.8" r="0.4" fill="#2a2a2a" fill-opacity="0.45"/>
<circle cx="347.2" cy="117.6" r="0.7" fill="#2a2a2a" fill-opacity="0.45"/>
<circle cx="412.3" cy="184.6" r="0.6" fill="#2a2a2a" fill-opacity="0.3"/>
<circle cx="366.8" cy="187.2" r="0.7" fill="#2a2a2a" fill-opacity="0.6"/>
<circle cx="365.3" cy="155.9" r="0.5" fill="#2a2a2a" fill-opacity="0.45"/>
<circle cx="421.4" cy="187.3" r="0.5" fill="#2a2a2a" fill-opacity="0.6"/>
<circle cx="338.6" cy="180.0" r="0.4" fill="#2a2a2a" fill-opacity="0.3"/>
<circle cx="301.1" cy="157.1" r="0.9" fill="#2a2a2a" fill-opacity="0.45"/>
<circle cx="306.7" cy="142.1" r="0.6" fill="#2a2a2a" fill-opacity="0.6"/>
<circle cx="358.2" cy="185.2" r="0.7" fill="#2a2a2a" fill-opacity="0.3"/>
<circle cx="420.0" cy="173.3" r="0.9" fill="#2a2a2a" fill-opacity="0.6"/>
<circle cx="347.4" cy="142.6" r="0.7" fill="#2a2a2a" fill-opacity="0.6"/>
<circle cx="327.5" cy="181.7" r="0.35" fill="#2a2a2a" fill-opacity="0.45"/>
<circle cx="327.2" cy="141.5" r="0.7" fill="#2a2a2a" fill-opacity="0.3"/>
<circle cx="381.4" cy="117.4" r="0.5" fill="#2a2a2a" fill-opacity="0.3"/>
<circle cx="320.1" cy="147.8" r="0.35" fill="#2a2a2a" fill-opacity="0.3"/>
<circle cx="399.3" cy="184.1" r="0.6" fill="#2a2a2a" fill-opacity="0.3"/>
<circle cx="365.1" cy="133.4" r="0.7" fill="#2a2a2a" fill-opacity="0.45"/>
<circle cx="383.8" cy="183.7" r="0.6" fill="#2a2a2a" fill-opacity="0.6"/>
<circle cx="319.6" cy="185.1" r="0.35" fill="#2a2a2a" fill-opacity="0.6"/>
<circle cx="312.4" cy="190.7" r="0.6" fill="#2a2a2a" fill-opacity="0.45"/>
<circle cx="382.7" cy="187.0" r="0.7" fill="#2a2a2a" fill-opacity="0.45"/>
<circle cx="356.9" cy="154.5" r="0.35" fill="#2a2a2a" fill-opacity="0.6"/>
<circle cx="333.5" cy="148.1" r="0.6" fill="#2a2a2a" fill-opacity="0.6"/>
<circle cx="316.3" cy="109.5" r="0.35" fill="#2a2a2a" fill-opacity="0.6"/>
<circle cx="387.6" cy="127.6" r="0.35" fill="#2a2a2a" fill-opacity="0.45"/>
<circle cx="357.3" cy="179.7" r="0.35" fill="#2a2a2a" fill-opacity="0.45"/>
<circle cx="366.0" cy="166.9" r="0.9" fill="#2a2a2a" fill-opacity="0.3"/>
<circle cx="390.5" cy="169.1" r="0.6" fill="#2a2a2a" fill-opacity="0.6"/>
<circle cx="408.2" cy="150.5" r="0.5" fill="#2a2a2a" fill-opacity="0.45"/>
<circle cx="356.7" cy="123.0" r="0.6" fill="#2a2a2a" fill-opacity="0.45"/>
<circle cx="370.7" cy="168.4" r="0.9" fill="#2a2a2a" fill-opacity="0.3"/>
<circle cx="306.8" cy="175.1" r="0.9" fill="#2a2a2a" fill-opacity="0.45"/>
<circle cx="374.3" cy="141.4" r="0.9" fill="#2a2a2a" fill-opacity="0.45"/>
<circle cx="300.5" cy="160.2" r="0.9" fill="#2a2a2a" fill-opacity="0.3"/>
<circle cx="316.9" cy="129.6" r="0.4" fill="#2a2a2a" fill-opacity="0.45"/>
<circle cx="355.0" cy="168.8" r="0.7" fill="#2a2a2a" fill-opacity="0.6"/>
<circle cx="388.6" cy="182.3" r="0.7" fill="#2a2a2a" fill-opacity="0.6"/>
<circle cx="376.4" cy="129.3" r="0.6" fill="#2a2a2a" fill-opacity="0.6"/>
<circle cx="361.1" cy="152.8" r="0.7" fill="#2a2a2a" fill-opacity="0.6"/>
<circle cx="367.7" cy="134.1" r="0.4" fill="#2a2a2a" fill-opacity="0.45"/>
<circle cx="385.1" cy="125.7" r="0.35" fill="#2a2a2a" fill-opacity="0.45"/>
<circle cx="385.8" cy="168.4" r="0.6" fill="#2a2a2a" fill-opacity="0.6"/>
<circle cx="356.4" cy="144.7" r="0.7" fill="#2a2a2a" fill-opacity="0.3"/>
<circle cx="326.1" cy="150.2" r="0.7" fill="#2a2a2a" fill-opacity="0.6"/>
<circle cx="424.2" cy="195.9" r="0.5" fill="#2a2a2a" fill-opacity="0.45"/>
<circle cx="343.8" cy="175.0" r="0.9" fill="#2a2a2a" fill-opacity="0.6"/>
<circle cx="320.0" cy="189.0" r="0.4" fill="#2a2a2a" fill-opacity="0.45"/>
<circle cx="300.4" cy="168.0" r="0.35" fill="#2a2a2a" fill-opacity="0.6"/>
<circle cx="295.8" cy="194.2" r="0.7" fill="#2a2a2a" fill-opacity="0.45"/>
<circle cx="359.4" cy="119.9" r="0.35" fill="#2a2a2a" fill-opacity="0.6"/>
<circle cx="311.8" cy="112.1" r="0.9" fill="#2a2a2a" fill-opacity="0.6"/>
<circle cx="328.8" cy="130.7" r="0.5" fill="#2a2a2a" fill-opacity="0.6"/>
<circle cx="317.1" cy="159.1" r="0.5" fill="#2a2a2a" fill-opacity="0.3"/>
<circle cx="415.6" cy="181.2" r="0.35" fill="#2a2a2a" fill-opacity="0.6"/>
<circle cx="337.8" cy="161.9" r="0.9" fill="#2a2a2a" fill-opacity="0.45"/>
<circle cx="400.4" cy="119.7" r="0.35" fill="#2a2a2a" fill-opacity="0.45"/>
<circle cx="405.5" cy="154.7" r="0.4" fill="#2a2a2a" fill-opacity="0.45"/>
<circle cx="377.7" cy="139.2" r="0.5" fill="#2a2a2a" fill-opacity="0.6"/>
<circle cx="349.1" cy="177.3" r="0.7" fill="#2a2a2a" fill-opacity="0.6"/>
<circle cx="394.3" cy="191.0" r="0.9" fill="#2a2a2a" fill-opacity="0.6"/>
<circle cx="382.4" cy="149.9" r="0.4" fill="#2a2a2a" fill-opacity="0.3"/>
<circle cx="345.8" cy="185.2" r="0.5" fill="#2a2a2a" fill-opacity="0.45"/>
<circle cx="328.4" cy="117.2" r="0.6" fill="#2a2a2a" fill-opacity="0.3"/>
<circle cx="341.2" cy="112.1" r="0.4" fill="#2a2a2a" fill-opacity="0.45"/>
<circle cx="397.0" cy="150.4" r="0.6" fill="#2a2a2a" fill-opacity="0.6"/>
<circle cx="396.8" cy="143.2" r="0.35" fill="#2a2a2a" fill-opacity="0.45"/>
<circle cx="348.1" cy="159.2" r="0.35" fill="#2a2a2a" fill-opacity="0.3"/>
<circle cx="398.8" cy="170.9" r="0.35" fill="#2a2a2a" fill-opacity="0.45"/>
<circle cx="392.2" cy="163.6" r="0.4" fill="#2a2a2a" fill-opacity="0.3"/>
<circle cx="376.9" cy="129.2" r="0.7" fill="#2a2a2a" fill-opacity="0.45"/>
<circle cx="326.9" cy="170.6" r="0.4" fill="#2a2a2a" fill-opacity="0.6"/>
<circle cx="411.1" cy="115.5" r="0.4" fill="#2a2a2a" fill-opacity="0.45"/>
<circle cx="354.9" cy="195.6" r="0.35" fill="#2a2a2a" fill-opacity="0.45"/>
<circle cx="368.4" cy="178.4" r="0.5" fill="#2a2a2a" fill-opacity="0.6"/>
<circle cx="324.3" cy="113.0" r="0.7" fill="#2a2a2a" fill-opacity="0.45"/>
<circle cx="366.4" cy="173.7" r="0.35" fill="#2a2a2a" fill-opacity="0.3"/>
<circle cx="379.8" cy="183.9" r="0.4" fill="#2a2a2a" fill-opacity="0.45"/>
<circle cx="396.7" cy="190.9" r="0.5" fill="#2a2a2a" fill-opacity="0.45"/>
<circle cx="386.8" cy="116.2" r="0.5" fill="#2a2a2a" fill-opacity="0.6"/>
<circle cx="362.5" cy="184.8" r="0.6" fill="#2a2a2a" fill-opacity="0.45"/>
<circle cx="330.2" cy="177.6" r="0.35" fill="#2a2a2a" fill-opacity="0.6"/>
<circle cx="359.7" cy="109.3" r="0.4" fill="#2a2a2a" fill-opacity="0.3"/>
<circle cx="409.0" cy="130.3" r="0.4" fill="#2a2a2a" fill-opacity="0.45"/>
<circle cx="382.0" cy="141.8" r="0.7" fill="#2a2a2a" fill-opacity="0.45"/>
<circle cx="335.7" cy="146.6" r="0.5" fill="#2a2a2a" fill-opacity="0.3"/>
<circle cx="301.2" cy="117.3" r="0.9" fill="#2a2a2a" fill-opacity="0.6"/>
<circle cx="322.4" cy="129.5" r="0.35" fill="#2a2a2a" fill-opacity="0.6"/>
<circle cx="410.4" cy="189.2" r="0.35" fill="#2a2a2a" fill-opacity="0.3"/>
<circle cx="384.1" cy="182.3" r="0.4" fill="#2a2a2a" fill-opacity="0.6"/>
<circle cx="406.0" cy="142.8" r="0.4" fill="#2a2a2a" fill-opacity="0.45"/>
<circle cx="338.5" cy="163.2" r="0.6" fill="#2a2a2a" fill-opacity="0.3"/>
<circle cx="359.6" cy="189.9" r="0.6" fill="#2a2a2a" fill-opacity="0.6"/>
<circle cx="372.4" cy="170.9" r="0.5" fill="#2a2a2a" fill-opacity="0.3"/>
<circle cx="311.8" cy="114.2" r="0.7" fill="#2a2a2a" fill-opacity="0.6"/>
<circle cx="361.2" cy="128.9" r="0.7" fill="#2a2a2a" fill-opacity="0.3"/>
<circle cx="369.9" cy="175.2" r="0.6" fill="#2a2a2a" fill-opacity="0.3"/>
<circle cx="336.0" cy="167.6" r="0.4" fill="#2a2a2a" fill-opacity="0.3"/>
<circle cx="305.0" cy="129.5" r="0.35" fill="#2a2a2a" fill-opacity="0.6"/>
<circle cx="418.6" cy="178.9" r="0.7" fill="#2a2a2a" fill-opacity="0.3"/>
<circle cx="401.6" cy="174.3" r="0.7" fill="#2a2a2a" fill-opacity="0.45"/>
<circle cx="312.3" cy="147.3" r="0.9" fill="#2a2a2a" fill-opacity="0.45"/>
<circle cx="297.2" cy="135.1" r="0.9" fill="#2a2a2a" fill-opacity="0.3"/>
<circle cx="368.9" cy="109.3" r="0.9" fill="#2a2a2a" fill-opacity="0.6"/>
<circle cx="375.3" cy="148.5" r="0.5" fill="#2a2a2a" fill-opacity="0.3"/>
<circle cx="352.4" cy="129.5" r="0.6" fill="#2a2a2a" fill-opacity="0.3"/>
<circle cx="358.8" cy="139.6" r="0.6" fill="#2a2a2a" fill-opacity="0.45"/>
<circle cx="427.4" cy="197.5" r="0.9" fill="#2a2a2a" fill-opacity="0.45"/>
<circle cx="387.4" cy="112.8" r="0.6" fill="#2a2a2a" fill-opacity="0.45"/>
<circle cx="314.8" cy="182.9" r="0.5" fill="#2a2a2a" fill-opacity="0.3"/>
<circle cx="339.4" cy="154.2" r="0.4" fill="#2a2a2a" fill-opacity="0.45"/>
<circle cx="313.8" cy="164.7" r="0.7" fill="#2a2a2a" fill-opacity="0.45"/>
<circle cx="308.1" cy="146.7" r="0.4" fill="#2a2a2a" fill-opacity="0.45"/>
<circle cx="424.7" cy="133.9" r="0.5" fill="#2a2a2a" fill-opacity="0.45"/>
<circle cx="336.7" cy="186.4" r="0.7" fill="#2a2a2a" fill-opacity="0.3"/>
<circle cx="415.9" cy="128.9" r="0.5" fill="#2a2a2a" fill-opacity="0.45"/>
<circle cx="408.0" cy="186.9" r="0.7" fill="#2a2a2a" fill-opacity="0.6"/>
<circle cx="345.2" cy="152.1" r="0.7" fill="#2a2a2a" fill-opacity="0.6"/>
<circle cx="381.0" cy="130.9" r="0.9" fill="#2a2a2a" fill-opacity="0.3"/>
<circle cx="355.1" cy="133.9" r="0.7" fill="#2a2a2a" fill-opacity="0.6"/>
<circle cx="343.4" cy="166.0" r="0.5" fill="#2a2a2a" fill-opacity="0.45"/>
<circle cx="405.7" cy="136.5" r="0.5" fill="#2a2a2a" fill-opacity="0.6"/>
<circle cx="390.7" cy="137.7" r="0.5" fill="#2a2a2a" fill-opacity="0.3"/>
<circle cx="308.3" cy="127.6" r="0.35" fill="#2a2a2a" fill-opacity="0.45"/>
<circle cx="327.4" cy="115.3" r="0.35" fill="#2a2a2a" fill-opacity="0.45"/>
<circle cx="322.2" cy="154.5" r="0.35" fill="#2a2a2a" fill-opacity="0.45"/>
<circle cx="416.8" cy="120.2" r="0.4" fill="#2a2a2a" fill-opacity="0.6"/>
<circle cx="410.4" cy="120.3" r="0.7" fill="#2a2a2a" fill-opacity="0.3"/>
<circle cx="367.4" cy="181.0" r="0.35" fill="#2a2a2a" fill-opacity="0.3"/>
<circle cx="391.5" cy="129.8" r="0.7" fill="#2a2a2a" fill-opacity="0.45"/>
<circle cx="373.5" cy="113.5" r="0.9" fill="#2a2a2a" fill-opacity="0.3"/>
<circle cx="426.7" cy="126.4" r="0.7" fill="#2a2a2a" fill-opacity="0.6"/>
<circle cx="310.7" cy="109.8" r="0.4" fill="#2a2a2a" fill-opacity="0.6"/>
<circle cx="372.1" cy="121.4" r="0.5" fill="#2a2a2a" fill-opacity="0.3"/>
<circle cx="301.9" cy="143.4" r="0.6" fill="#2a2a2a" fill-opacity="0.3"/>
<circle cx="415.8" cy="121.3" r="0.7" fill="#2a2a2a" fill-opacity="0.3"/>
<circle cx="405.9" cy="128.2" r="0.35" fill="#2a2a2a" fill-opacity="0.45"/>
<circle cx="297.9" cy="165.0" r="0.4" fill="#2a2a2a" fill-opacity="0.3"/>
<circle cx="347.4" cy="177.4" r="0.6" fill="#2a2a2a" fill-opacity="0.3"/>
<circle cx="381.3" cy="159.2" r="0.4" fill="#2a2a2a" fill-opacity="0.3"/>
<circle cx="359.1" cy="136.6" r="0.4" fill="#2a2a2a" fill-opacity="0.3"/>
<circle cx="397.8" cy="194.5" r="0.7" fill="#2a2a2a" fill-opacity="0.45"/>
<circle cx="404.3" cy="120.1" r="0.7" fill="#2a2a2a" fill-opacity="0.3"/>
<circle cx="406.5" cy="117.3" r="0.5" fill="#2a2a2a" fill-opacity="0.6"/>
<circle cx="407.5" cy="171.8" r="0.5" fill="#2a2a2a" fill-opacity="0.3"/>
<circle cx="368.3" cy="113.2" r="0.5" fill="#2a2a2a" fill-opacity="0.45"/>
<circle cx="396.4" cy="150.9" r="0.4" fill="#2a2a2a" fill-opacity="0.6"/>
<circle cx="323.3" cy="155.0" r="0.9" fill="#2a2a2a" fill-opacity="0.3"/>
<circle cx="389.6" cy="153.9" r="0.9" fill="#2a2a2a" fill-opacity="0.3"/>
<circle cx="381.5" cy="149.6" r="0.4" fill="#2a2a2a" fill-opacity="0.45"/>
<circle cx="327.6" cy="142.4" r="0.35" fill="#2a2a2a" fill-opacity="0.3"/>
<circle cx="369.1" cy="162.9" r="0.35" fill="#2a2a2a" fill-opacity="0.3"/>
<circle cx="302.3" cy="122.8" r="0.7" fill="#2a2a2a" fill-opacity="0.6"/>
<circle cx="384.9" cy="157.1" r="0.4" fill="#2a2a2a" fill-opacity="0.6"/>
<circle cx="331.9" cy="173.9" r="0.6" fill="#2a2a2a" fill-opacity="0.6"/>
<circle cx="311.2" cy="177.3" r="0.35" fill="#2a2a2a" fill-opacity="0.6"/>
<circle cx="378.0" cy="146.1" r="0.6" fill="#2a2a2a" fill-opacity="0.3"/>
<circle cx="321.6" cy="181.3" r="0.7" fill="#2a2a2a" fill-opacity="0.45"/>
<circle cx="317.2" cy="160.6" r="0.5" fill="#2a2a2a" fill-opacity="0.6"/>
<circle cx="295.3" cy="154.0" r="0.5" fill="#2a2a2a" fill-opacity="0.6"/>
<circle cx="356.2" cy="164.8" r="0.5" fill="#2a2a2a" fill-opacity="0.3"/>
<circle cx="358.2" cy="195.8" r="0.7" fill="#2a2a2a" fill-opacity="0.3"/>
<circle cx="325.2" cy="138.2" r="0.4" fill="#2a2a2a" fill-opacity="0.45"/>
<circle cx="326.3" cy="115.3" r="0.9" fill="#2a2a2a" fill-opacity="0.6"/>
<circle cx="385.1" cy="138.9" r="0.6" fill="#2a2a2a" fill-opacity="0.45"/>
<circle cx="347.6" cy="134.1" r="0.5" fill="#2a2a2a" fill-opacity="0.3"/>
<circle cx="372.3" cy="118.1" r="0.4" fill="#2a2a2a" fill-opacity="0.6"/>
<circle cx="360.1" cy="162.3" r="0.9" fill="#2a2a2a" fill-opacity="0.6"/>
<circle cx="368.1" cy="190.4" r="0.6" fill="#2a2a2a" fill-opacity="0.3"/>
<circle cx="317.1" cy="150.1" r="0.6" fill="#2a2a2a" fill-opacity="0.3"/>
<circle cx="418.2" cy="137.4" r="0.35" fill="#2a2a2a" fill-opacity="0.45"/>
<circle cx="338.9" cy="172.1" r="0.7" fill="#2a2a2a" fill-opacity="0.3"/>
<circle cx="299.4" cy="151.0" r="0.4" fill="#2a2a2a" fill-opacity="0.3"/>
<circle cx="372.1" cy="157.9" r="0.9" fill="#2a2a2a" fill-opacity="0.45"/>
<circle cx="296.3" cy="123.7" r="0.7" fill="#2a2a2a" fill-opacity="0.3"/>
<circle cx="418.3" cy="162.0" r="0.35" fill="#2a2a2a" fill-opacity="0.6"/>
<circle cx="390.6" cy="179.4" r="0.9" fill="#2a2a2a" fill-opacity="0.3"/>
<circle cx="329.6" cy="147.4" r="0.9" fill="#2a2a2a" fill-opacity="0.6"/>
<circle cx="329.1" cy="194.1" r="0.6" fill="#2a2a2a" fill-opacity="0.45"/>
<circle cx="345.0" cy="133.2" r="0.7" fill="#2a2a2a" fill-opacity="0.6"/>
<circle cx="343.5" cy="167.2" r="0.7" fill="#2a2a2a" fill-opacity="0.6"/>
<circle cx="375.4" cy="138.0" r="0.5" fill="#2a2a2a" fill-opacity="0.3"/>
<circle cx="414.6" cy="184.3" r="0.4" fill="#2a2a2a" fill-opacity="0.3"/>
<circle cx="363.1" cy="139.3" r="0.7" fill="#2a2a2a" fill-opacity="0.6"/>
<circle cx="323.8" cy="176.5" r="0.35" fill="#2a2a2a" fill-opacity="0.45"/>
<circle cx="351.2" cy="132.2" r="0.7" fill="#2a2a2a" fill-opacity="0.6"/>
<circle cx="412.0" cy="129.4" r="0.5" fill="#2a2a2a" fill-opacity="0.45"/>
<circle cx="355.2" cy="133.4" r="0.6" fill="#2a2a2a" fill-opacity="0.45"/>
<circle cx="352.1" cy="128.3" r="0.4" fill="#2a2a2a" fill-opacity="0.45"/>
<circle cx="301.6" cy="133.1" r="0.35" fill="#2a2a2a" fill-opacity="0.45"/>
<circle cx="415.0" cy="117.5" r="0.35" fill="#2a2a2a" fill-opacity="0.3"/>
<circle cx="386.0" cy="164.7" r="0.5" fill="#2a2a2a" fill-opacity="0.3"/>
<circle cx="350.9" cy="180.0" r="0.4" fill="#2a2a2a" fill-opacity="0.6"/>
<circle cx="342.4" cy="146.3" r="0.6" fill="#2a2a2a" fill-opacity="0.3"/>
<circle cx="337.3" cy="128.0" r="0.35" fill="#2a2a2a" fill-opacity="0.6"/>
<circle cx="355.9" cy="120.4" r="0.7" fill="#2a2a2a" fill-opacity="0.6"/>
<circle cx="410.4" cy="157.9" r="0.35" fill="#2a2a2a" fill-opacity="0.45"/>
<circle cx="381.6" cy="123.0" r="0.4" fill="#2a2a2a" fill-opacity="0.45"/>
<circle cx="336.1" cy="159.9" r="0.4" fill="#2a2a2a" fill-opacity="0.6"/>
<circle cx="332.7" cy="181.0" r="0.4" fill="#2a2a2a" fill-opacity="0.45"/>
<circle cx="412.3" cy="155.8" r="0.7" fill="#2a2a2a" fill-opacity="0.3"/>
<circle cx="328.8" cy="147.6" r="0.7" fill="#2a2a2a" fill-opacity="0.45"/>
<circle cx="406.6" cy="167.5" r="0.9" fill="#2a2a2a" fill-opacity="0.3"/>
<circle cx="298.9" cy="144.3" r="0.5" fill="#2a2a2a" fill-opacity="0.3"/>
<circle cx="366.9" cy="141.4" r="0.35" fill="#2a2a2a" fill-opacity="0.6"/>
<circle cx="330.2" cy="154.6" r="0.35" fill="#2a2a2a" fill-opacity="0.3"/>
<circle cx="347.2" cy="164.1" r="0.7" fill="#2a2a2a" fill-opacity="0.3"/>
<circle cx="342.1" cy="133.5" r="0.35" fill="#2a2a2a" fill-opacity="0.6"/>
<circle cx="301.9" cy="193.3" r="0.9" fill="#2a2a2a" fill-opacity="0.3"/>
<circle cx="317.1" cy="177.4" r="0.7" fill="#2a2a2a" fill-opacity="0.45"/>
<circle cx="414.5" cy="137.9" r="0.35" fill="#2a2a2a" fill-opacity="0.6"/>
<circle cx="313.4" cy="111.7" r="0.35" fill="#2a2a2a" fill-opacity="0.45"/>
<circle cx="342.1" cy="150.9" r="0.35" fill="#2a2a2a" fill-opacity="0.3"/>
<circle cx="328.0" cy="142.0" r="0.5" fill="#2a2a2a" fill-opacity="0.6"/>
<circle cx="295.7" cy="149.6" r="0.4" fill="#2a2a2a" fill-opacity="0.45"/>
<circle cx="421.6" cy="172.5" r="0.7" fill="#2a2a2a" fill-opacity="0.45"/>
<circle cx="378.2" cy="168.3" r="0.4" fill="#2a2a2a" fill-opacity="0.45"/>
<circle cx="416.8" cy="170.5" r="0.9" fill="#2a2a2a" fill-opacity="0.3"/>
<circle cx="300.6" cy="114.5" r="0.5" fill="#2a2a2a" fill-opacity="0.6"/>
<circle cx="341.4" cy="143.4" r="0.35" fill="#2a2a2a" fill-opacity="0.6"/>
<circle cx="367.1" cy="181.6" r="0.7" fill="#2a2a2a" fill-opacity="0.45"/>
<circle cx="428.7" cy="127.2" r="0.7" fill="#2a2a2a" fill-opacity="0.6"/>
<circle cx="408.0" cy="171.9" r="0.35" fill="#2a2a2a" fill-opacity="0.3"/>
<circle cx="409.3" cy="171.4" r="0.9" fill="#2a2a2a" fill-opacity="0.6"/>
<circle cx="386.1" cy="175.3" r="0.6" fill="#2a2a2a" fill-opacity="0.3"/>
<circle cx="362.6" cy="115.3" r="0.6" fill="#2a2a2a" fill-opacity="0.45"/>
<circle cx="307.1" cy="178.2" r="0.5" fill="#2a2a2a" fill-opacity="0.3"/>
<circle cx="394.2" cy="146.6" r="0.4" fill="#2a2a2a" fill-opacity="0.6"/>
<circle cx="392.0" cy="142.4" r="0.5" fill="#2a2a2a" fill-opacity="0.3"/>
<circle cx="317.2" cy="192.1" r="0.6" fill="#2a2a2a" fill-opacity="0.3"/>
<circle cx="333.2" cy="193.4" r="0.5" fill="#2a2a2a" fill-opacity="0.6"/>
<circle cx="337.5" cy="128.8" r="0.7" fill="#2a2a2a" fill-opacity="0.6"/>
<circle cx="315.3" cy="192.4" r="0.6" fill="#2a2a2a" fill-opacity="0.45"/>
<circle cx="383.2" cy="162.2" r="0.4" fill="#2a2a2a" fill-opacity="0.45"/>
<circle cx="374.5" cy="174.0" r="0.9" fill="#2a2a2a" fill-opacity="0.45"/>
<circle cx="401.5" cy="182.9" r="0.6" fill="#2a2a2a" fill-opacity="0.3"/>
<circle cx="395.5" cy="116.4" r="0.35" fill="#2a2a2a" fill-opacity="0.6"/>
<circle cx="396.8" cy="157.2" r="0.9" fill="#2a2a2a" fill-opacity="0.3"/>
<circle cx="396.3" cy="120.4" r="0.5" fill="#2a2a2a" fill-opacity="0.3"/>
<circle cx="345.7" cy="141.6" r="0.35" fill="#2a2a2a" fill-opacity="0.45"/>
<circle cx="427.5" cy="110.8" r="0.4" fill="#2a2a2a" fill-opacity="0.3"/>
<circle cx="335.8" cy="114.1" r="0.5" fill="#2a2a2a" fill-opacity="0.45"/>
<circle cx="295.8" cy="120.5" r="0.5" fill="#2a2a2a" fill-opacity="0.45"/>
<circle cx="304.6" cy="120.4" r="0.6" fill="#2a2a2a" fill-opacity="0.3"/>
<circle cx="333.7" cy="162.4" r="0.7" fill="#2a2a2a" fill-opacity="0.45"/>
<circle cx="356.4" cy="171.2" r="0.6" fill="#2a2a2a" fill-opacity="0.6"/>
<circle cx="405.3" cy="166.7" r="0.35" fill="#2a2a2a" fill-opacity="0.3"/>
<circle cx="368.1" cy="137.9" r="0.35" fill="#2a2a2a" fill-opacity="0.3"/>
<circle cx="295.2" cy="156.9" r="0.9" fill="#2a2a2a" fill-opacity="0.3"/>
<circle cx="314.5" cy="183.2" r="0.4" fill="#2a2a2a" fill-opacity="0.3"/>
<circle cx="296.9" cy="116.3" r="0.9" fill="#2a2a2a" fill-opacity="0.6"/>
<circle cx="334.3" cy="153.6" r="0.6" fill="#2a2a2a" fill-opacity="0.45"/>
<circle cx="410.7" cy="140.3" r="0.7" fill="#2a2a2a" fill-opacity="0.3"/>
<circle cx="304.5" cy="173.6" r="0.35" fill="#2a2a2a" fill-opacity="0.45"/>
<circle cx="413.3" cy="121.8" r="0.5" fill="#2a2a2a" fill-opacity="0.3"/>
<circle cx="353.2" cy="175.7" r="0.9" fill="#2a2a2a" fill-opacity="0.45"/>
<circle cx="376.9" cy="148.3" r="0.9" fill="#2a2a2a" fill-opacity="0.3"/>
<circle cx="332.6" cy="148.5" r="0.4" fill="#2a2a2a" fill-opacity="0.6"/>
<circle cx="307.1" cy="152.1" r="0.4" fill="#2a2a2a" fill-opacity="0.3"/>
<circle cx="318.3" cy="113.0" r="0.7" fill="#2a2a2a" fill-opacity="0.6"/>
<circle cx="329.7" cy="162.0" r="0.6" fill="#2a2a2a" fill-opacity="0.45"/>
<circle cx="321.7" cy="192.9" r="0.35" fill="#2a2a2a" fill-opacity="0.3"/>
<circle cx="372.4" cy="150.1" r="0.35" fill="#2a2a2a" fill-opacity="0.6"/>
<circle cx="309.1" cy="163.1" r="0.6" fill="#2a2a2a" fill-opacity="0.6"/>
<circle cx="410.1" cy="172.0" r="0.7" fill="#2a2a2a" fill-opacity="0.45"/>
<circle cx="344.8" cy="155.4" r="0.5" fill="#2a2a2a" fill-opacity="0.6"/>
<circle cx="374.3" cy="132.2" r="0.35" fill="#2a2a2a" fill-opacity="0.3"/>
<circle cx="407.3" cy="143.3" r="0.35" fill="#2a2a2a" fill-opacity="0.6"/>
<circle cx="372.1" cy="191.5" r="0.5" fill="#2a2a2a" fill-opacity="0.45"/>
<circle cx="322.7" cy="116.7" r="0.4" fill="#2a2a2a" fill-opacity="0.3"/>
<circle cx="400.3" cy="149.6" r="0.7" fill="#2a2a2a" fill-opacity="0.3"/>
<circle cx="333.0" cy="149.8" r="0.35" fill="#2a2a2a" fill-opacity="0.6"/>
<circle cx="365.2" cy="172.2" r="0.9" fill="#2a2a2a" fill-opacity="0.45"/>
<circle cx="363.7" cy="145.4" r="0.5" fill="#2a2a2a" fill-opacity="0.6"/>
<circle cx="293.5" cy="151.2" r="0.6" fill="#2a2a2a" fill-opacity="0.3"/>
<circle cx="307.7" cy="170.3" r="0.9" fill="#2a2a2a" fill-opacity="0.3"/>
<circle cx="312.1" cy="144.4" r="0.35" fill="#2a2a2a" fill-opacity="0.6"/>
<circle cx="416.8" cy="177.6" r="0.9" fill="#2a2a2a" fill-opacity="0.6"/>
<circle cx="402.5" cy="151.5" r="0.6" fill="#2a2a2a" fill-opacity="0.3"/>
<circle cx="426.0" cy="130.4" r="0.6" fill="#2a2a2a" fill-opacity="0.45"/>
<circle cx="390.8" cy="116.5" r="0.35" fill="#2a2a2a" fill-opacity="0.45"/>
<circle cx="351.8" cy="150.7" r="0.9" fill="#2a2a2a" fill-opacity="0.6"/>
<circle cx="352.3" cy="153.5" r="0.5" fill="#2a2a2a" fill-opacity="0.45"/>
<circle cx="370.9" cy="124.7" r="0.4" fill="#2a2a2a" fill-opacity="0.3"/>
<circle cx="382.1" cy="146.7" r="0.5" fill="#2a2a2a" fill-opacity="0.3"/>
<circle cx="381.6" cy="146.3" r="0.4" fill="#2a2a2a" fill-opacity="0.3"/>
<circle cx="336.7" cy="167.8" r="0.4" fill="#2a2a2a" fill-opacity="0.45"/>
<circle cx="307.6" cy="167.6" r="0.35" fill="#2a2a2a" fill-opacity="0.6"/>
<circle cx="353.2" cy="157.7" r="0.7" fill="#2a2a2a" fill-opacity="0.3"/>
<circle cx="422.8" cy="127.1" r="0.4" fill="#2a2a2a" fill-opacity="0.45"/>
<circle cx="403.0" cy="114.5" r="0.6" fill="#2a2a2a" fill-opacity="0.3"/>
<circle cx="348.2" cy="192.4" r="0.7" fill="#2a2a2a" fill-opacity="0.6"/>
<circle cx="369.5" cy="148.8" r="0.7" fill="#2a2a2a" fill-opacity="0.45"/>
<circle cx="328.5" cy="115.7" r="0.9" fill="#2a2a2a" fill-opacity="0.6"/>
<circle cx="396.2" cy="186.4" r="0.4" fill="#2a2a2a" fill-opacity="0.3"/>
<circle cx="426.8" cy="141.5" r="0.7" fill="#2a2a2a" fill-opacity="0.3"/>
<circle cx="370.4" cy="135.7" r="0.35" fill="#2a2a2a" fill-opacity="0.3"/>
<circle cx="354.6" cy="141.8" r="0.4" fill="#2a2a2a" fill-opacity="0.45"/>
<circle cx="388.4" cy="154.1" r="0.5" fill="#2a2a2a" fill-opacity="0.45"/>
<circle cx="413.2" cy="173.6" r="0.5" fill="#2a2a2a" fill-opacity="0.45"/>
<circle cx="356.1" cy="111.9" r="0.7" fill="#2a2a2a" fill-opacity="0.3"/>
<circle cx="414.5" cy="159.1" r="0.7" fill="#2a2a2a" fill-opacity="0.3"/>
<circle cx="383.5" cy="180.8" r="0.4" fill="#2a2a2a" fill-opacity="0.6"/>
<circle cx="336.7" cy="177.0" r="0.7" fill="#2a2a2a" fill-opacity="0.45"/>
<circle cx="361.7" cy="165.0" r="0.4" fill="#2a2a2a" fill-opacity="0.6"/>
<circle cx="428.0" cy="136.0" r="0.7" fill="#2a2a2a" fill-opacity="0.45"/>
<circle cx="389.7" cy="176.5" r="0.35" fill="#2a2a2a" fill-opacity="0.3"/>
<circle cx="314.8" cy="120.4" r="0.9" fill="#2a2a2a" fill-opacity="0.3"/>
<circle cx="331.4" cy="189.0" r="0.6" fill="#2a2a2a" fill-opacity="0.6"/>
<circle cx="360.5" cy="139.4" r="0.7" fill="#2a2a2a" fill-opacity="0.3"/>
<circle cx="327.9" cy="127.3" r="0.4" fill="#2a2a2a" fill-opacity="0.45"/>
<circle cx="401.1" cy="132.5" r="0.35" fill="#2a2a2a" fill-opacity="0.6"/>
<circle cx="402.2" cy="147.6" r="0.35" fill="#2a2a2a" fill-opacity="0.6"/>
<circle cx="342.7" cy="140.5" r="0.7" fill="#2a2a2a" fill-opacity="0.45"/>
</g>
<rect x="291.15" y="107.65" width="139.0" height="91.3" fill="none" stroke="#111" stroke-width="1.3"/>
</g>
<text x="296.20" y="193.60" font-size="7.8" text-anchor="start" font-weight="normal" fill="#f4f4f4" stroke="#f4f4f4" stroke-width="0.12">500 nM</text>
<rect x="417.50" y="192.40" width="8.50" height="2.70" fill="#fff"/>
<text transform="translate(7.20 224.00) scale(0.92 1)" x="0" y="0" font-size="12.9" font-weight="bold" fill="#000" stroke="#000" stroke-width="0.2">C</text>
<rect x="63.80" y="287.30" width="8.00" height="72.10" fill="#c6c6ca"/>
<rect x="76.00" y="287.30" width="8.00" height="72.10" fill="#c6c6ca"/>
<line x1="100.20" y1="304.20" x2="100.20" y2="322.50" stroke="#1a1a1a" stroke-width="1.4"/>
<line x1="97.70" y1="304.20" x2="102.70" y2="304.20" stroke="#1a1a1a" stroke-width="1.4"/>
<rect x="96.20" y="321.50" width="8.00" height="37.90" fill="#a90028"/>
<line x1="112.40" y1="278.70" x2="112.40" y2="291.80" stroke="#1a1a1a" stroke-width="1.4"/>
<line x1="109.90" y1="278.70" x2="114.90" y2="278.70" stroke="#1a1a1a" stroke-width="1.4"/>
<rect x="108.40" y="290.80" width="8.00" height="68.60" fill="#2c4b87"/>
<line x1="132.50" y1="322.30" x2="132.50" y2="336.40" stroke="#1a1a1a" stroke-width="1.4"/>
<line x1="130.00" y1="322.30" x2="135.00" y2="322.30" stroke="#1a1a1a" stroke-width="1.4"/>
<rect x="128.50" y="335.40" width="8.00" height="24.00" fill="#a90028"/>
<line x1="144.70" y1="287.30" x2="144.70" y2="298.50" stroke="#1a1a1a" stroke-width="1.4"/>
<line x1="142.20" y1="287.30" x2="147.20" y2="287.30" stroke="#1a1a1a" stroke-width="1.4"/>
<rect x="140.70" y="297.50" width="8.00" height="61.90" fill="#2c4b87"/>
<line x1="164.80" y1="338.30" x2="164.80" y2="347.00" stroke="#1a1a1a" stroke-width="1.4"/>
<line x1="162.30" y1="338.30" x2="167.30" y2="338.30" stroke="#1a1a1a" stroke-width="1.4"/>
<rect x="160.80" y="346.00" width="8.00" height="13.40" fill="#a90028"/>
<line x1="177.00" y1="303.70" x2="177.00" y2="313.70" stroke="#1a1a1a" stroke-width="1.4"/>
<line x1="174.50" y1="303.70" x2="179.50" y2="303.70" stroke="#1a1a1a" stroke-width="1.4"/>
<rect x="173.00" y="312.70" width="8.00" height="46.70" fill="#2c4b87"/>
<line x1="197.30" y1="344.60" x2="197.30" y2="349.80" stroke="#1a1a1a" stroke-width="1.4"/>
<line x1="194.80" y1="344.60" x2="199.80" y2="344.60" stroke="#1a1a1a" stroke-width="1.4"/>
<rect x="193.30" y="348.80" width="8.00" height="10.60" fill="#a90028"/>
<line x1="209.50" y1="317.50" x2="209.50" y2="327.70" stroke="#1a1a1a" stroke-width="1.4"/>
<line x1="207.00" y1="317.50" x2="212.00" y2="317.50" stroke="#1a1a1a" stroke-width="1.4"/>
<rect x="205.50" y="326.70" width="8.00" height="32.70" fill="#2c4b87"/>
<line x1="57.70" y1="247.80" x2="57.70" y2="360.00" stroke="#1a1a1a" stroke-width="1.3"/>
<line x1="57.10" y1="359.40" x2="219.80" y2="359.40" stroke="#1a1a1a" stroke-width="1.3"/>
<line x1="54.10" y1="250.90" x2="57.70" y2="250.90" stroke="#1a1a1a" stroke-width="1.2"/>
<text x="51.10" y="254.05" font-size="8.8" text-anchor="end" font-weight="normal" fill="#1a1a1a" stroke="#1a1a1a" stroke-width="0.25">1.5</text>
<line x1="54.10" y1="287.30" x2="57.70" y2="287.30" stroke="#1a1a1a" stroke-width="1.2"/>
<text x="51.10" y="290.45" font-size="8.8" text-anchor="end" font-weight="normal" fill="#1a1a1a" stroke="#1a1a1a" stroke-width="0.25">1.0</text>
<line x1="54.10" y1="323.50" x2="57.70" y2="323.50" stroke="#1a1a1a" stroke-width="1.2"/>
<text x="51.10" y="326.65" font-size="8.8" text-anchor="end" font-weight="normal" fill="#1a1a1a" stroke="#1a1a1a" stroke-width="0.25">0.5</text>
<line x1="54.10" y1="359.40" x2="57.70" y2="359.40" stroke="#1a1a1a" stroke-width="1.2"/>
<text x="51.10" y="362.55" font-size="8.8" text-anchor="end" font-weight="normal" fill="#1a1a1a" stroke="#1a1a1a" stroke-width="0.25">0.0</text>
<line x1="73.90" y1="359.40" x2="73.90" y2="363.00" stroke="#1a1a1a" stroke-width="1.2"/>
<text x="77.50" y="371.60" font-size="8.8" text-anchor="end" font-weight="normal" fill="#1a1a1a" stroke="#1a1a1a" stroke-width="0.25" transform="rotate(-45 77.50 371.60)">DMSO</text>
<line x1="106.30" y1="359.40" x2="106.30" y2="363.00" stroke="#1a1a1a" stroke-width="1.2"/>
<text x="109.90" y="371.60" font-size="8.8" text-anchor="end" font-weight="normal" fill="#1a1a1a" stroke="#1a1a1a" stroke-width="0.25" transform="rotate(-45 109.90 371.60)">50 nM</text>
<line x1="138.60" y1="359.40" x2="138.60" y2="363.00" stroke="#1a1a1a" stroke-width="1.2"/>
<text x="142.20" y="371.60" font-size="8.8" text-anchor="end" font-weight="normal" fill="#1a1a1a" stroke="#1a1a1a" stroke-width="0.25" transform="rotate(-45 142.20 371.60)">100 nm</text>
<line x1="170.90" y1="359.40" x2="170.90" y2="363.00" stroke="#1a1a1a" stroke-width="1.2"/>
<text x="174.50" y="371.60" font-size="8.8" text-anchor="end" font-weight="normal" fill="#1a1a1a" stroke="#1a1a1a" stroke-width="0.25" transform="rotate(-45 174.50 371.60)">200 nM</text>
<line x1="203.40" y1="359.40" x2="203.40" y2="363.00" stroke="#1a1a1a" stroke-width="1.2"/>
<text x="207.00" y="371.60" font-size="8.8" text-anchor="end" font-weight="normal" fill="#1a1a1a" stroke="#1a1a1a" stroke-width="0.25" transform="rotate(-45 207.00 371.60)">500 nM</text>
<text x="32.50" y="303.90" font-size="9.9" text-anchor="middle" font-weight="normal" fill="#1a1a1a" stroke="#1a1a1a" stroke-width="0.32" transform="rotate(-90 32.50 303.90)" textLength="88.6" lengthAdjust="spacingAndGlyphs">Normalized MK count</text>
<text x="97.70" y="241.00" font-size="10.7" text-anchor="start" font-weight="bold" fill="#000" stroke="#000" stroke-width="0.25">Day 1 Treatment</text>
<rect x="161.40" y="255.40" width="11.50" height="5.60" fill="#a90028"/>
<text x="175.90" y="261.20" font-size="8.3" text-anchor="start" font-weight="normal" fill="#1a1a1a" stroke="#1a1a1a" stroke-width="0.25">Continuous Dose</text>
<rect x="161.40" y="268.20" width="11.50" height="5.60" fill="#2c4b87"/>
<text x="175.90" y="273.20" font-size="8.3" text-anchor="start" font-weight="normal" fill="#1a1a1a" stroke="#1a1a1a" stroke-width="0.25">Wash</text>
<text x="94.70 98.90 103.10 107.30" y="287.45" font-size="7.6" text-anchor="middle" font-weight="bold" fill="#111" stroke="#111" stroke-width="0.2">****</text>
<text x="127.10 131.30 135.50 139.70" y="287.45" font-size="7.6" text-anchor="middle" font-weight="bold" fill="#111" stroke="#111" stroke-width="0.2">****</text>
<text x="159.80 164.00 168.20 172.40" y="287.45" font-size="7.6" text-anchor="middle" font-weight="bold" fill="#111" stroke="#111" stroke-width="0.2">****</text>
<text x="192.10 196.30 200.50 204.70" y="287.45" font-size="7.6" text-anchor="middle" font-weight="bold" fill="#111" stroke="#111" stroke-width="0.2">****</text>
<text x="174.00 178.20 182.40" y="298.95" font-size="7.6" text-anchor="middle" font-weight="bold" fill="#111" stroke="#111" stroke-width="0.2">***</text>
<text x="204.10 208.30 212.50 216.70" y="298.95" font-size="7.6" text-anchor="middle" font-weight="bold" fill="#111" stroke="#111" stroke-width="0.2">****</text>
<text transform="translate(275.00 226.80) scale(0.92 1)" x="0" y="0" font-size="12.9" font-weight="bold" fill="#000" stroke="#000" stroke-width="0.2">D</text>
<rect x="337.40" y="289.10" width="8.00" height="70.30" fill="#c6c6ca"/>
<rect x="349.40" y="289.10" width="8.00" height="70.30" fill="#c6c6ca"/>
<line x1="373.40" y1="310.40" x2="373.40" y2="313.70" stroke="#1a1a1a" stroke-width="1.4"/>
<line x1="370.90" y1="310.40" x2="375.90" y2="310.40" stroke="#1a1a1a" stroke-width="1.4"/>
<rect x="369.40" y="312.70" width="8.00" height="46.70" fill="#a90028"/>
<line x1="385.40" y1="287.70" x2="385.40" y2="300.20" stroke="#1a1a1a" stroke-width="1.4"/>
<line x1="382.90" y1="287.70" x2="387.90" y2="287.70" stroke="#1a1a1a" stroke-width="1.4"/>
<rect x="381.40" y="299.20" width="8.00" height="60.20" fill="#2c4b87"/>
<line x1="405.20" y1="319.60" x2="405.20" y2="325.80" stroke="#1a1a1a" stroke-width="1.4"/>
<line x1="402.70" y1="319.60" x2="407.70" y2="319.60" stroke="#1a1a1a" stroke-width="1.4"/>
<rect x="401.20" y="324.80" width="8.00" height="34.60" fill="#a90028"/>
<line x1="417.20" y1="287.30" x2="417.20" y2="301.80" stroke="#1a1a1a" stroke-width="1.4"/>
<line x1="414.70" y1="287.30" x2="419.70" y2="287.30" stroke="#1a1a1a" stroke-width="1.4"/>
<rect x="413.20" y="300.80" width="8.00" height="58.60" fill="#2c4b87"/>
<line x1="437.00" y1="329.00" x2="437.00" y2="334.50" stroke="#1a1a1a" stroke-width="1.4"/>
<line x1="434.50" y1="329.00" x2="439.50" y2="329.00" stroke="#1a1a1a" stroke-width="1.4"/>
<rect x="433.00" y="333.50" width="8.00" height="25.90" fill="#a90028"/>
<line x1="449.00" y1="299.80" x2="449.00" y2="312.00" stroke="#1a1a1a" stroke-width="1.4"/>
<line x1="446.50" y1="299.80" x2="451.50" y2="299.80" stroke="#1a1a1a" stroke-width="1.4"/>
<rect x="445.00" y="311.00" width="8.00" height="48.40" fill="#2c4b87"/>
<line x1="468.80" y1="331.50" x2="468.80" y2="338.70" stroke="#1a1a1a" stroke-width="1.4"/>
<line x1="466.30" y1="331.50" x2="471.30" y2="331.50" stroke="#1a1a1a" stroke-width="1.4"/>
<rect x="464.80" y="337.70" width="8.00" height="21.70" fill="#a90028"/>
<line x1="480.80" y1="290.20" x2="480.80" y2="310.40" stroke="#1a1a1a" stroke-width="1.4"/>
<line x1="478.30" y1="290.20" x2="483.30" y2="290.20" stroke="#1a1a1a" stroke-width="1.4"/>
<rect x="476.80" y="309.40" width="8.00" height="50.00" fill="#2c4b87"/>
<line x1="331.90" y1="250.00" x2="331.90" y2="360.00" stroke="#1a1a1a" stroke-width="1.3"/>
<line x1="331.30" y1="359.40" x2="489.80" y2="359.40" stroke="#1a1a1a" stroke-width="1.3"/>
<line x1="328.30" y1="253.50" x2="331.90" y2="253.50" stroke="#1a1a1a" stroke-width="1.2"/>
<text x="325.30" y="256.65" font-size="8.8" text-anchor="end" font-weight="normal" fill="#1a1a1a" stroke="#1a1a1a" stroke-width="0.25">1.5</text>
<line x1="328.30" y1="289.10" x2="331.90" y2="289.10" stroke="#1a1a1a" stroke-width="1.2"/>
<text x="325.30" y="292.25" font-size="8.8" text-anchor="end" font-weight="normal" fill="#1a1a1a" stroke="#1a1a1a" stroke-width="0.25">1.0</text>
<line x1="328.30" y1="324.30" x2="331.90" y2="324.30" stroke="#1a1a1a" stroke-width="1.2"/>
<text x="325.30" y="327.45" font-size="8.8" text-anchor="end" font-weight="normal" fill="#1a1a1a" stroke="#1a1a1a" stroke-width="0.25">0.5</text>
<line x1="328.30" y1="359.40" x2="331.90" y2="359.40" stroke="#1a1a1a" stroke-width="1.2"/>
<text x="325.30" y="362.55" font-size="8.8" text-anchor="end" font-weight="normal" fill="#1a1a1a" stroke="#1a1a1a" stroke-width="0.25">0.0</text>
<line x1="347.40" y1="359.40" x2="347.40" y2="363.00" stroke="#1a1a1a" stroke-width="1.2"/>
<text x="351.40" y="370.80" font-size="8.8" text-anchor="end" font-weight="normal" fill="#1a1a1a" stroke="#1a1a1a" stroke-width="0.25" transform="rotate(-45 351.40 370.80)">DMSO</text>
<line x1="379.40" y1="359.40" x2="379.40" y2="363.00" stroke="#1a1a1a" stroke-width="1.2"/>
<text x="383.40" y="370.80" font-size="8.8" text-anchor="end" font-weight="normal" fill="#1a1a1a" stroke="#1a1a1a" stroke-width="0.25" transform="rotate(-45 383.40 370.80)">50 nM</text>
<line x1="411.20" y1="359.40" x2="411.20" y2="363.00" stroke="#1a1a1a" stroke-width="1.2"/>
<text x="415.20" y="370.80" font-size="8.8" text-anchor="end" font-weight="normal" fill="#1a1a1a" stroke="#1a1a1a" stroke-width="0.25" transform="rotate(-45 415.20 370.80)">100 nm</text>
<line x1="443.00" y1="359.40" x2="443.00" y2="363.00" stroke="#1a1a1a" stroke-width="1.2"/>
<text x="447.00" y="370.80" font-size="8.8" text-anchor="end" font-weight="normal" fill="#1a1a1a" stroke="#1a1a1a" stroke-width="0.25" transform="rotate(-45 447.00 370.80)">200 nM</text>
<line x1="474.80" y1="359.40" x2="474.80" y2="363.00" stroke="#1a1a1a" stroke-width="1.2"/>
<text x="478.80" y="370.80" font-size="8.8" text-anchor="end" font-weight="normal" fill="#1a1a1a" stroke="#1a1a1a" stroke-width="0.25" transform="rotate(-45 478.80 370.80)">500 nM</text>
<text x="307.00" y="304.90" font-size="9.9" text-anchor="middle" font-weight="normal" fill="#1a1a1a" stroke="#1a1a1a" stroke-width="0.32" transform="rotate(-90 307.00 304.90)" textLength="88.6" lengthAdjust="spacingAndGlyphs">Normalized MK count</text>
<text x="370.80" y="242.20" font-size="10.7" text-anchor="start" font-weight="bold" fill="#000" stroke="#000" stroke-width="0.25">Day 2 Treatment</text>
<rect x="435.40" y="257.80" width="11.50" height="5.60" fill="#a90028"/>
<text x="449.90" y="263.60" font-size="8.3" text-anchor="start" font-weight="normal" fill="#1a1a1a" stroke="#1a1a1a" stroke-width="0.25">Continuous Dose</text>
<rect x="435.40" y="270.60" width="11.50" height="5.60" fill="#2c4b87"/>
<text x="449.90" y="275.60" font-size="8.3" text-anchor="start" font-weight="normal" fill="#1a1a1a" stroke="#1a1a1a" stroke-width="0.25">Wash</text>
<text x="371.90 376.10" y="297.85" font-size="7.6" text-anchor="middle" font-weight="bold" fill="#111" stroke="#111" stroke-width="0.2">**</text>
<text x="399.90 404.10 408.30 412.50" y="297.85" font-size="7.6" text-anchor="middle" font-weight="bold" fill="#111" stroke="#111" stroke-width="0.2">****</text>
<text x="431.80 436.00 440.20 444.40" y="297.85" font-size="7.6" text-anchor="middle" font-weight="bold" fill="#111" stroke="#111" stroke-width="0.2">****</text>
<text x="463.50 467.70 471.90 476.10" y="297.85" font-size="7.6" text-anchor="middle" font-weight="bold" fill="#111" stroke="#111" stroke-width="0.2">****</text>
<text x="447.30 451.50" y="287.25" font-size="7.6" text-anchor="middle" font-weight="bold" fill="#111" stroke="#111" stroke-width="0.2">**</text>
<text x="479.10 483.30" y="287.25" font-size="7.6" text-anchor="middle" font-weight="bold" fill="#111" stroke="#111" stroke-width="0.2">**</text>
<text transform="translate(7.10 416.70) scale(0.92 1)" x="0" y="0" font-size="12.9" font-weight="bold" fill="#000" stroke="#000" stroke-width="0.2">E</text>
<rect x="63.50" y="479.20" width="8.00" height="70.20" fill="#c6c6ca"/>
<rect x="75.50" y="479.20" width="8.00" height="70.20" fill="#c6c6ca"/>
<line x1="98.80" y1="468.30" x2="98.80" y2="487.00" stroke="#1a1a1a" stroke-width="1.4"/>
<line x1="96.30" y1="468.30" x2="101.30" y2="468.30" stroke="#1a1a1a" stroke-width="1.4"/>
<rect x="94.80" y="486.00" width="8.00" height="63.40" fill="#a90028"/>
<line x1="110.80" y1="474.40" x2="110.80" y2="484.50" stroke="#1a1a1a" stroke-width="1.4"/>
<line x1="108.30" y1="474.40" x2="113.30" y2="474.40" stroke="#1a1a1a" stroke-width="1.4"/>
<rect x="106.80" y="483.50" width="8.00" height="65.90" fill="#2c4b87"/>
<line x1="130.30" y1="489.20" x2="130.30" y2="501.40" stroke="#1a1a1a" stroke-width="1.4"/>
<line x1="127.80" y1="489.20" x2="132.80" y2="489.20" stroke="#1a1a1a" stroke-width="1.4"/>
<rect x="126.30" y="500.40" width="8.00" height="49.00" fill="#a90028"/>
<line x1="142.30" y1="490.20" x2="142.30" y2="493.70" stroke="#1a1a1a" stroke-width="1.4"/>
<line x1="139.80" y1="490.20" x2="144.80" y2="490.20" stroke="#1a1a1a" stroke-width="1.4"/>
<rect x="138.30" y="492.70" width="8.00" height="56.70" fill="#2c4b87"/>
<line x1="161.70" y1="487.30" x2="161.70" y2="501.00" stroke="#1a1a1a" stroke-width="1.4"/>
<line x1="159.20" y1="487.30" x2="164.20" y2="487.30" stroke="#1a1a1a" stroke-width="1.4"/>
<rect x="157.70" y="500.00" width="8.00" height="49.40" fill="#a90028"/>
<line x1="173.70" y1="487.30" x2="173.70" y2="497.20" stroke="#1a1a1a" stroke-width="1.4"/>
<line x1="171.20" y1="487.30" x2="176.20" y2="487.30" stroke="#1a1a1a" stroke-width="1.4"/>
<rect x="169.70" y="496.20" width="8.00" height="53.20" fill="#2c4b87"/>
<line x1="193.00" y1="488.80" x2="193.00" y2="499.50" stroke="#1a1a1a" stroke-width="1.4"/>
<line x1="190.50" y1="488.80" x2="195.50" y2="488.80" stroke="#1a1a1a" stroke-width="1.4"/>
<rect x="189.00" y="498.50" width="8.00" height="50.90" fill="#a90028"/>
<line x1="205.00" y1="493.00" x2="205.00" y2="501.00" stroke="#1a1a1a" stroke-width="1.4"/>
<line x1="202.50" y1="493.00" x2="207.50" y2="493.00" stroke="#1a1a1a" stroke-width="1.4"/>
<rect x="201.00" y="500.00" width="8.00" height="49.40" fill="#2c4b87"/>
<line x1="57.70" y1="441.00" x2="57.70" y2="550.00" stroke="#1a1a1a" stroke-width="1.3"/>
<line x1="57.10" y1="549.40" x2="214.60" y2="549.40" stroke="#1a1a1a" stroke-width="1.3"/>
<line x1="54.10" y1="444.20" x2="57.70" y2="444.20" stroke="#1a1a1a" stroke-width="1.2"/>
<text x="51.10" y="447.35" font-size="8.8" text-anchor="end" font-weight="normal" fill="#1a1a1a" stroke="#1a1a1a" stroke-width="0.25">1.5</text>
<line x1="54.10" y1="479.20" x2="57.70" y2="479.20" stroke="#1a1a1a" stroke-width="1.2"/>
<text x="51.10" y="482.35" font-size="8.8" text-anchor="end" font-weight="normal" fill="#1a1a1a" stroke="#1a1a1a" stroke-width="0.25">1.0</text>
<line x1="54.10" y1="514.40" x2="57.70" y2="514.40" stroke="#1a1a1a" stroke-width="1.2"/>
<text x="51.10" y="517.55" font-size="8.8" text-anchor="end" font-weight="normal" fill="#1a1a1a" stroke="#1a1a1a" stroke-width="0.25">0.5</text>
<line x1="54.10" y1="549.40" x2="57.70" y2="549.40" stroke="#1a1a1a" stroke-width="1.2"/>
<text x="51.10" y="552.55" font-size="8.8" text-anchor="end" font-weight="normal" fill="#1a1a1a" stroke="#1a1a1a" stroke-width="0.25">0.0</text>
<line x1="73.50" y1="549.40" x2="73.50" y2="553.00" stroke="#1a1a1a" stroke-width="1.2"/>
<text x="78.60" y="560.60" font-size="8.8" text-anchor="end" font-weight="normal" fill="#1a1a1a" stroke="#1a1a1a" stroke-width="0.25" transform="rotate(-45 78.60 560.60)">DMSO</text>
<line x1="104.80" y1="549.40" x2="104.80" y2="553.00" stroke="#1a1a1a" stroke-width="1.2"/>
<text x="109.90" y="560.60" font-size="8.8" text-anchor="end" font-weight="normal" fill="#1a1a1a" stroke="#1a1a1a" stroke-width="0.25" transform="rotate(-45 109.90 560.60)">50 nM</text>
<line x1="136.30" y1="549.40" x2="136.30" y2="553.00" stroke="#1a1a1a" stroke-width="1.2"/>
<text x="141.40" y="560.60" font-size="8.8" text-anchor="end" font-weight="normal" fill="#1a1a1a" stroke="#1a1a1a" stroke-width="0.25" transform="rotate(-45 141.40 560.60)">100 nm</text>
<line x1="167.70" y1="549.40" x2="167.70" y2="553.00" stroke="#1a1a1a" stroke-width="1.2"/>
<text x="172.80" y="560.60" font-size="8.8" text-anchor="end" font-weight="normal" fill="#1a1a1a" stroke="#1a1a1a" stroke-width="0.25" transform="rotate(-45 172.80 560.60)">200 nM</text>
<line x1="199.00" y1="549.40" x2="199.00" y2="553.00" stroke="#1a1a1a" stroke-width="1.2"/>
<text x="204.10" y="560.60" font-size="8.8" text-anchor="end" font-weight="normal" fill="#1a1a1a" stroke="#1a1a1a" stroke-width="0.25" transform="rotate(-45 204.10 560.60)">500 nM</text>
<text x="32.50" y="495.40" font-size="9.9" text-anchor="middle" font-weight="normal" fill="#1a1a1a" stroke="#1a1a1a" stroke-width="0.32" transform="rotate(-90 32.50 495.40)" textLength="88.6" lengthAdjust="spacingAndGlyphs">Normalized MK count</text>
<text x="95.50" y="432.20" font-size="10.7" text-anchor="start" font-weight="bold" fill="#000" stroke="#000" stroke-width="0.25">Day 3 Treatment</text>
<rect x="176.20" y="449.00" width="11.50" height="5.60" fill="#a90028"/>
<text x="190.70" y="454.80" font-size="8.3" text-anchor="start" font-weight="normal" fill="#1a1a1a" stroke="#1a1a1a" stroke-width="0.25">Continuous Dose</text>
<rect x="176.20" y="461.80" width="11.50" height="5.60" fill="#2c4b87"/>
<text x="190.70" y="466.80" font-size="8.3" text-anchor="start" font-weight="normal" fill="#1a1a1a" stroke="#1a1a1a" stroke-width="0.25">Wash</text>
<text x="128.50 132.70" y="482.15" font-size="7.6" text-anchor="middle" font-weight="bold" fill="#111" stroke="#111" stroke-width="0.2">**</text>
<text x="160.20 164.40" y="482.15" font-size="7.6" text-anchor="middle" font-weight="bold" fill="#111" stroke="#111" stroke-width="0.2">**</text>
<text x="173.80" y="482.15" font-size="7.6" text-anchor="middle" font-weight="bold" fill="#111" stroke="#111" stroke-width="0.2">*</text>
<text x="193.40" y="482.15" font-size="7.6" text-anchor="middle" font-weight="bold" fill="#111" stroke="#111" stroke-width="0.2">*</text>
<text x="203.30 207.50" y="482.15" font-size="7.6" text-anchor="middle" font-weight="bold" fill="#111" stroke="#111" stroke-width="0.2">**</text>
<text transform="translate(275.60 421.40) scale(0.92 1)" x="0" y="0" font-size="12.9" font-weight="bold" fill="#000" stroke="#000" stroke-width="0.2">F</text>
<line x1="341.15" y1="537.30" x2="341.15" y2="539.50" stroke="#1a1a1a" stroke-width="1.4"/>
<line x1="338.85" y1="537.30" x2="343.45" y2="537.30" stroke="#1a1a1a" stroke-width="1.4"/>
<rect x="337.30" y="538.50" width="7.70" height="10.90" fill="#c6c6ca"/>
<line x1="352.55" y1="539.40" x2="352.55" y2="542.00" stroke="#1a1a1a" stroke-width="1.4"/>
<line x1="350.25" y1="539.40" x2="354.85" y2="539.40" stroke="#1a1a1a" stroke-width="1.4"/>
<rect x="348.70" y="541.00" width="7.70" height="8.40" fill="#2c4b87"/>
<line x1="363.95" y1="541.30" x2="363.95" y2="543.30" stroke="#1a1a1a" stroke-width="1.4"/>
<line x1="361.65" y1="541.30" x2="366.25" y2="541.30" stroke="#1a1a1a" stroke-width="1.4"/>
<rect x="360.10" y="542.30" width="7.70" height="7.10" fill="#62a838"/>
<line x1="375.35" y1="544.60" x2="375.35" y2="546.20" stroke="#1a1a1a" stroke-width="1.4"/>
<line x1="373.05" y1="544.60" x2="377.65" y2="544.60" stroke="#1a1a1a" stroke-width="1.4"/>
<rect x="371.50" y="545.20" width="7.70" height="4.20" fill="#a90028"/>
<text x="375.50" y="542.15" font-size="7.6" text-anchor="middle" font-weight="bold" fill="#111" stroke="#111" stroke-width="0.2">*</text>
<line x1="394.65" y1="509.20" x2="394.65" y2="518.70" stroke="#1a1a1a" stroke-width="1.4"/>
<line x1="392.35" y1="509.20" x2="396.95" y2="509.20" stroke="#1a1a1a" stroke-width="1.4"/>
<rect x="390.80" y="517.70" width="7.70" height="31.70" fill="#c6c6ca"/>
<line x1="405.95" y1="512.40" x2="405.95" y2="520.80" stroke="#1a1a1a" stroke-width="1.4"/>
<line x1="403.65" y1="512.40" x2="408.25" y2="512.40" stroke="#1a1a1a" stroke-width="1.4"/>
<rect x="402.10" y="519.80" width="7.70" height="29.60" fill="#2c4b87"/>
<line x1="417.35" y1="528.40" x2="417.35" y2="533.70" stroke="#1a1a1a" stroke-width="1.4"/>
<line x1="415.05" y1="528.40" x2="419.65" y2="528.40" stroke="#1a1a1a" stroke-width="1.4"/>
<rect x="413.50" y="532.70" width="7.70" height="16.70" fill="#62a838"/>
<line x1="428.85" y1="540.60" x2="428.85" y2="544.00" stroke="#1a1a1a" stroke-width="1.4"/>
<line x1="426.55" y1="540.60" x2="431.15" y2="540.60" stroke="#1a1a1a" stroke-width="1.4"/>
<rect x="425.00" y="543.00" width="7.70" height="6.40" fill="#a90028"/>
<text x="429.00" y="537.95" font-size="7.6" text-anchor="middle" font-weight="bold" fill="#111" stroke="#111" stroke-width="0.2">*</text>
<line x1="447.85" y1="451.90" x2="447.85" y2="460.80" stroke="#1a1a1a" stroke-width="1.4"/>
<line x1="445.55" y1="451.90" x2="450.15" y2="451.90" stroke="#1a1a1a" stroke-width="1.4"/>
<rect x="444.00" y="459.80" width="7.70" height="89.60" fill="#c6c6ca"/>
<line x1="459.25" y1="468.70" x2="459.25" y2="478.20" stroke="#1a1a1a" stroke-width="1.4"/>
<line x1="456.95" y1="468.70" x2="461.55" y2="468.70" stroke="#1a1a1a" stroke-width="1.4"/>
<rect x="455.40" y="477.20" width="7.70" height="72.20" fill="#2c4b87"/>
<line x1="470.75" y1="506.30" x2="470.75" y2="515.30" stroke="#1a1a1a" stroke-width="1.4"/>
<line x1="468.45" y1="506.30" x2="473.05" y2="506.30" stroke="#1a1a1a" stroke-width="1.4"/>
<rect x="466.90" y="514.30" width="7.70" height="35.10" fill="#62a838"/>
<text x="470.90" y="502.85" font-size="7.6" text-anchor="middle" font-weight="bold" fill="#111" stroke="#111" stroke-width="0.2">*</text>
<line x1="482.05" y1="536.40" x2="482.05" y2="540.60" stroke="#1a1a1a" stroke-width="1.4"/>
<line x1="479.75" y1="536.40" x2="484.35" y2="536.40" stroke="#1a1a1a" stroke-width="1.4"/>
<rect x="478.20" y="539.60" width="7.70" height="9.80" fill="#a90028"/>
<text x="482.20" y="534.45" font-size="7.6" text-anchor="middle" font-weight="bold" fill="#111" stroke="#111" stroke-width="0.2">*</text>
<line x1="331.60" y1="439.60" x2="331.60" y2="550.00" stroke="#1a1a1a" stroke-width="1.3"/>
<line x1="331.00" y1="549.40" x2="491.50" y2="549.40" stroke="#1a1a1a" stroke-width="1.3"/>
<line x1="328.00" y1="549.40" x2="331.60" y2="549.40" stroke="#1a1a1a" stroke-width="1.2"/>
<text x="324.10" y="552.40" font-size="8.3" text-anchor="end" font-weight="normal" fill="#1a1a1a" stroke="#1a1a1a" stroke-width="0.25">0</text>
<line x1="328.00" y1="528.07" x2="331.60" y2="528.07" stroke="#1a1a1a" stroke-width="1.2"/>
<text x="324.10" y="531.07" font-size="8.3" text-anchor="end" font-weight="normal" fill="#1a1a1a" stroke="#1a1a1a" stroke-width="0.25">200000</text>
<line x1="328.00" y1="506.74" x2="331.60" y2="506.74" stroke="#1a1a1a" stroke-width="1.2"/>
<text x="324.10" y="509.74" font-size="8.3" text-anchor="end" font-weight="normal" fill="#1a1a1a" stroke="#1a1a1a" stroke-width="0.25">400000</text>
<line x1="328.00" y1="485.41" x2="331.60" y2="485.41" stroke="#1a1a1a" stroke-width="1.2"/>
<text x="324.10" y="488.41" font-size="8.3" text-anchor="end" font-weight="normal" fill="#1a1a1a" stroke="#1a1a1a" stroke-width="0.25">600000</text>
<line x1="328.00" y1="464.08" x2="331.60" y2="464.08" stroke="#1a1a1a" stroke-width="1.2"/>
<text x="324.10" y="467.08" font-size="8.3" text-anchor="end" font-weight="normal" fill="#1a1a1a" stroke="#1a1a1a" stroke-width="0.25">800000</text>
<line x1="328.00" y1="442.75" x2="331.60" y2="442.75" stroke="#1a1a1a" stroke-width="1.2"/>
<text x="324.10" y="445.75" font-size="8.3" text-anchor="end" font-weight="normal" fill="#1a1a1a" stroke="#1a1a1a" stroke-width="0.25">1000000</text>
<line x1="341.30" y1="549.40" x2="341.30" y2="553.00" stroke="#1a1a1a" stroke-width="1.2"/>
<text x="344.90" y="562.00" font-size="8.8" text-anchor="end" font-weight="normal" fill="#1a1a1a" stroke="#1a1a1a" stroke-width="0.25" transform="rotate(-45 344.90 562.00)">0</text>
<line x1="352.70" y1="549.40" x2="352.70" y2="553.00" stroke="#1a1a1a" stroke-width="1.2"/>
<text x="356.30" y="562.00" font-size="8.8" text-anchor="end" font-weight="normal" fill="#1a1a1a" stroke="#1a1a1a" stroke-width="0.25" transform="rotate(-45 356.30 562.00)" textLength="22.9" lengthAdjust="spacingAndGlyphs">50 nM</text>
<line x1="364.10" y1="549.40" x2="364.10" y2="553.00" stroke="#1a1a1a" stroke-width="1.2"/>
<text x="367.70" y="562.00" font-size="8.8" text-anchor="end" font-weight="normal" fill="#1a1a1a" stroke="#1a1a1a" stroke-width="0.25" transform="rotate(-45 367.70 562.00)" textLength="27.5" lengthAdjust="spacingAndGlyphs">500 nM</text>
<line x1="375.50" y1="549.40" x2="375.50" y2="553.00" stroke="#1a1a1a" stroke-width="1.2"/>
<text x="379.10" y="562.00" font-size="8.8" text-anchor="end" font-weight="normal" fill="#1a1a1a" stroke="#1a1a1a" stroke-width="0.25" transform="rotate(-45 379.10 562.00)" textLength="18.4" lengthAdjust="spacingAndGlyphs">2 uM</text>
<line x1="394.80" y1="549.40" x2="394.80" y2="553.00" stroke="#1a1a1a" stroke-width="1.2"/>
<text x="398.40" y="562.00" font-size="8.8" text-anchor="end" font-weight="normal" fill="#1a1a1a" stroke="#1a1a1a" stroke-width="0.25" transform="rotate(-45 398.40 562.00)">0</text>
<line x1="406.10" y1="549.40" x2="406.10" y2="553.00" stroke="#1a1a1a" stroke-width="1.2"/>
<text x="409.70" y="562.00" font-size="8.8" text-anchor="end" font-weight="normal" fill="#1a1a1a" stroke="#1a1a1a" stroke-width="0.25" transform="rotate(-45 409.70 562.00)" textLength="22.9" lengthAdjust="spacingAndGlyphs">50 nM</text>
<line x1="417.50" y1="549.40" x2="417.50" y2="553.00" stroke="#1a1a1a" stroke-width="1.2"/>
<text x="421.10" y="562.00" font-size="8.8" text-anchor="end" font-weight="normal" fill="#1a1a1a" stroke="#1a1a1a" stroke-width="0.25" transform="rotate(-45 421.10 562.00)" textLength="27.5" lengthAdjust="spacingAndGlyphs">500 nM</text>
<line x1="429.00" y1="549.40" x2="429.00" y2="553.00" stroke="#1a1a1a" stroke-width="1.2"/>
<text x="432.60" y="562.00" font-size="8.8" text-anchor="end" font-weight="normal" fill="#1a1a1a" stroke="#1a1a1a" stroke-width="0.25" transform="rotate(-45 432.60 562.00)" textLength="18.4" lengthAdjust="spacingAndGlyphs">2 uM</text>
<line x1="448.00" y1="549.40" x2="448.00" y2="553.00" stroke="#1a1a1a" stroke-width="1.2"/>
<text x="451.60" y="562.00" font-size="8.8" text-anchor="end" font-weight="normal" fill="#1a1a1a" stroke="#1a1a1a" stroke-width="0.25" transform="rotate(-45 451.60 562.00)">0</text>
<line x1="459.40" y1="549.40" x2="459.40" y2="553.00" stroke="#1a1a1a" stroke-width="1.2"/>
<text x="463.00" y="562.00" font-size="8.8" text-anchor="end" font-weight="normal" fill="#1a1a1a" stroke="#1a1a1a" stroke-width="0.25" transform="rotate(-45 463.00 562.00)" textLength="22.9" lengthAdjust="spacingAndGlyphs">50 nM</text>
<line x1="470.90" y1="549.40" x2="470.90" y2="553.00" stroke="#1a1a1a" stroke-width="1.2"/>
<text x="474.50" y="562.00" font-size="8.8" text-anchor="end" font-weight="normal" fill="#1a1a1a" stroke="#1a1a1a" stroke-width="0.25" transform="rotate(-45 474.50 562.00)" textLength="27.5" lengthAdjust="spacingAndGlyphs">500 nM</text>
<line x1="482.20" y1="549.40" x2="482.20" y2="553.00" stroke="#1a1a1a" stroke-width="1.2"/>
<text x="485.80" y="562.00" font-size="8.8" text-anchor="end" font-weight="normal" fill="#1a1a1a" stroke="#1a1a1a" stroke-width="0.25" transform="rotate(-45 485.80 562.00)" textLength="18.4" lengthAdjust="spacingAndGlyphs">2 uM</text>
<text x="357.40" y="595.80" font-size="9.8" text-anchor="middle" font-weight="normal" fill="#1a1a1a" stroke="#1a1a1a" stroke-width="0.25" textLength="24.4" lengthAdjust="spacingAndGlyphs">Day 6</text>
<text x="410.80" y="595.80" font-size="9.8" text-anchor="middle" font-weight="normal" fill="#1a1a1a" stroke="#1a1a1a" stroke-width="0.25" textLength="29.3" lengthAdjust="spacingAndGlyphs">Day 10</text>
<text x="463.80" y="595.80" font-size="9.8" text-anchor="middle" font-weight="normal" fill="#1a1a1a" stroke="#1a1a1a" stroke-width="0.25" textLength="29.6" lengthAdjust="spacingAndGlyphs">Day 14</text>
<text x="284.60" y="494.00" font-size="9.9" text-anchor="middle" font-weight="normal" fill="#1a1a1a" stroke="#1a1a1a" stroke-width="0.32" transform="rotate(-90 284.60 494.00)" textLength="64.3" lengthAdjust="spacingAndGlyphs">Number of MKs</text>
<rect x="0.00" y="0.00" width="520.00" height="1.00" fill="#000"/>
<rect x="0.00" y="0.00" width="1.20" height="606.00" fill="#000"/>
<rect x="518.80" y="0.00" width="1.20" height="606.00" fill="#000"/>
<rect x="0.00" y="604.80" width="520.00" height="1.20" fill="#000"/>
</svg>
</body></html>
